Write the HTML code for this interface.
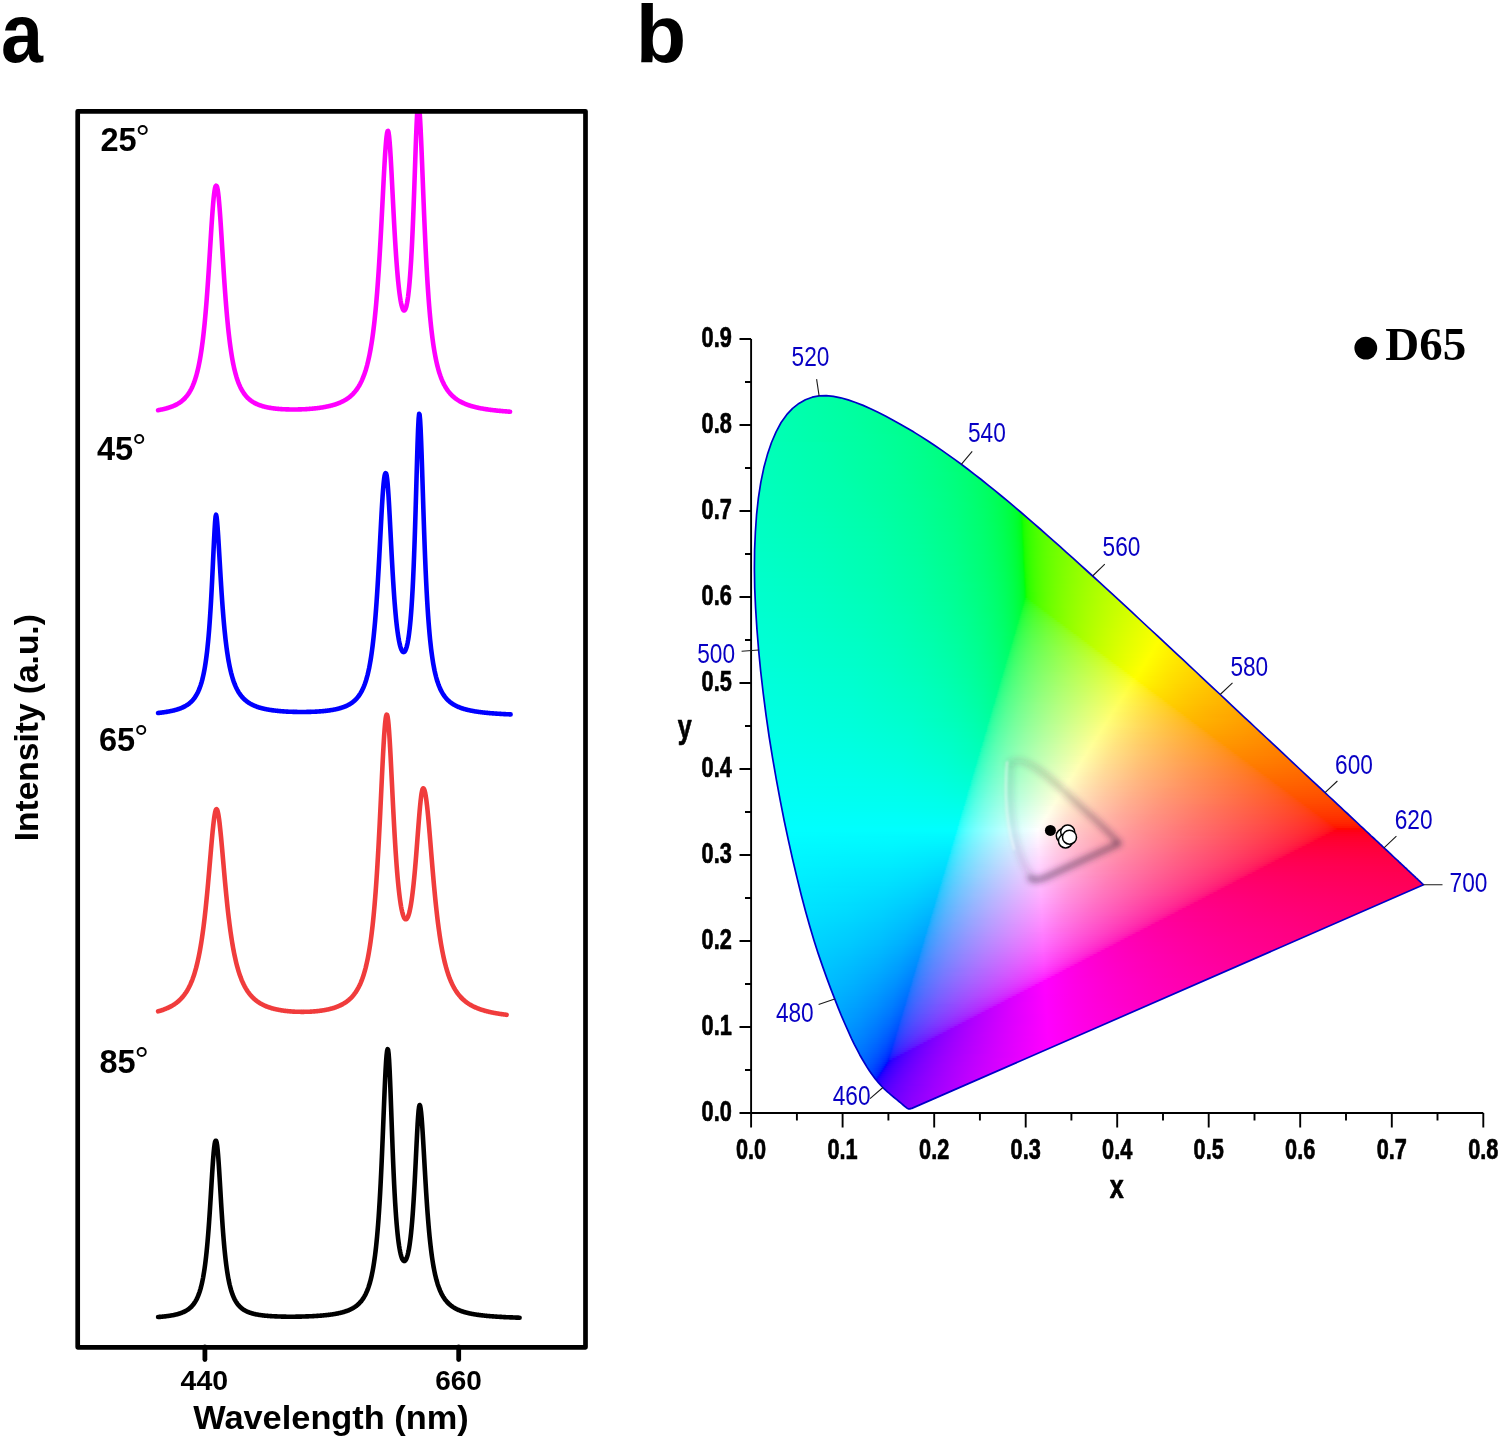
<!DOCTYPE html>
<html><head><meta charset="utf-8"><title>figure</title><style>
html,body{margin:0;padding:0;background:#fff}
#pg{position:relative;width:1500px;height:1440px;overflow:hidden;background:#fff}
#cie{position:absolute;left:0;top:0;width:1500px;height:1440px}
#cie i{position:absolute;display:block;height:2px}
svg{position:absolute;left:0;top:0}
.ar{font-family:"Liberation Sans",sans-serif}
.se{font-family:"Liberation Serif",serif}
.nb{stroke:#000;stroke-width:.7px;stroke-linejoin:round}
</style></head><body><div id="pg">
<div id="cie" style="clip-path:polygon(911.8px 1108.4px,911.7px 1108.5px,911.6px 1108.5px,911.6px 1108.5px,911.5px 1108.5px,911.4px 1108.5px,911.3px 1108.5px,911.3px 1108.5px,911.2px 1108.5px,911.2px 1108.5px,911.1px 1108.5px,911.1px 1108.5px,911.0px 1108.5px,911.0px 1108.5px,910.9px 1108.5px,910.8px 1108.5px,910.7px 1108.6px,910.6px 1108.6px,910.6px 1108.7px,910.5px 1108.7px,910.5px 1108.7px,910.4px 1108.7px,910.4px 1108.7px,910.4px 1108.7px,910.4px 1108.7px,910.4px 1108.7px,910.3px 1108.7px,910.3px 1108.7px,910.3px 1108.8px,910.2px 1108.8px,910.2px 1108.8px,910.1px 1108.8px,910.1px 1108.8px,910.0px 1108.7px,910.0px 1108.8px,910.0px 1108.8px,909.9px 1108.8px,909.9px 1108.8px,909.8px 1108.8px,909.8px 1108.9px,909.7px 1108.9px,909.7px 1108.9px,909.7px 1108.9px,909.6px 1108.9px,909.5px 1108.9px,909.5px 1108.9px,909.4px 1108.9px,909.3px 1108.9px,909.2px 1108.9px,909.1px 1108.9px,909.1px 1108.9px,909.0px 1108.9px,908.9px 1108.9px,908.8px 1108.9px,908.7px 1108.9px,908.6px 1108.8px,908.5px 1108.8px,908.4px 1108.8px,908.3px 1108.8px,908.1px 1108.7px,908.0px 1108.6px,907.8px 1108.5px,907.6px 1108.4px,907.4px 1108.3px,907.2px 1108.2px,907.0px 1108.0px,906.7px 1107.9px,906.5px 1107.7px,906.2px 1107.5px,906.0px 1107.3px,905.7px 1107.1px,905.3px 1106.8px,905.0px 1106.6px,904.6px 1106.3px,904.2px 1106.0px,903.9px 1105.6px,903.4px 1105.3px,903.0px 1104.9px,902.6px 1104.5px,902.1px 1104.1px,901.6px 1103.7px,901.0px 1103.2px,900.5px 1102.7px,899.9px 1102.2px,899.2px 1101.7px,898.6px 1101.1px,897.8px 1100.5px,897.1px 1099.9px,896.2px 1099.2px,895.4px 1098.5px,894.5px 1097.8px,893.5px 1097.0px,892.5px 1096.2px,891.5px 1095.3px,890.4px 1094.4px,889.3px 1093.4px,888.1px 1092.4px,886.9px 1091.3px,885.6px 1090.1px,884.2px 1088.8px,882.9px 1087.5px,881.4px 1086.0px,880.0px 1084.4px,878.4px 1082.7px,876.8px 1080.8px,875.1px 1078.7px,873.3px 1076.3px,871.3px 1073.5px,869.2px 1070.5px,867.0px 1067.1px,864.7px 1063.3px,862.3px 1059.2px,859.7px 1054.7px,857.1px 1049.7px,854.3px 1044.3px,851.4px 1038.3px,848.4px 1031.7px,845.2px 1024.5px,841.8px 1016.7px,838.3px 1008.1px,834.7px 998.9px,830.8px 988.9px,826.8px 978.1px,822.6px 966.4px,818.3px 953.9px,814.0px 940.4px,809.7px 926.0px,805.4px 910.7px,801.1px 894.5px,796.9px 877.4px,792.6px 859.3px,788.4px 840.4px,784.2px 820.7px,780.2px 800.3px,776.3px 779.4px,772.6px 758.1px,769.1px 736.5px,766.0px 714.9px,763.2px 693.1px,760.7px 671.5px,758.6px 650.0px,756.9px 628.8px,755.6px 608.1px,754.7px 588.0px,754.4px 568.6px,754.6px 549.9px,755.4px 531.7px,756.6px 514.3px,758.4px 497.8px,760.8px 482.3px,763.8px 467.8px,767.4px 454.6px,771.5px 442.5px,776.1px 431.8px,781.1px 422.5px,786.7px 414.7px,792.6px 408.3px,798.9px 403.4px,805.4px 399.7px,812.2px 397.2px,819.1px 395.9px,826.2px 395.7px,833.4px 396.4px,840.7px 397.8px,848.1px 399.9px,855.6px 402.5px,863.1px 405.4px,870.6px 408.7px,878.0px 412.3px,885.4px 416.1px,892.7px 420.0px,899.9px 423.9px,906.9px 428.0px,913.9px 432.1px,920.8px 436.4px,927.6px 440.8px,934.4px 445.3px,941.2px 449.9px,947.9px 454.6px,954.6px 459.4px,961.3px 464.3px,967.9px 469.3px,974.5px 474.4px,981.2px 479.5px,987.8px 484.8px,994.4px 490.1px,1000.9px 495.5px,1007.5px 500.9px,1014.0px 506.4px,1020.6px 512.0px,1027.1px 517.6px,1033.7px 523.3px,1040.2px 529.0px,1046.8px 534.8px,1053.3px 540.6px,1059.9px 546.4px,1066.4px 552.3px,1073.0px 558.2px,1079.5px 564.1px,1086.0px 570.0px,1092.6px 576.0px,1099.1px 581.9px,1105.6px 587.9px,1112.2px 593.9px,1118.7px 599.9px,1125.2px 605.9px,1131.7px 611.9px,1138.2px 618.0px,1144.6px 624.0px,1151.1px 630.0px,1157.5px 635.9px,1163.9px 641.9px,1170.3px 647.9px,1176.7px 653.8px,1183.0px 659.7px,1189.3px 665.6px,1195.6px 671.5px,1201.8px 677.3px,1207.9px 683.1px,1214.1px 688.8px,1220.2px 694.5px,1226.2px 700.2px,1232.2px 705.8px,1238.1px 711.3px,1243.9px 716.8px,1249.7px 722.2px,1255.4px 727.5px,1261.1px 732.8px,1266.6px 738.0px,1272.1px 743.1px,1277.5px 748.2px,1282.8px 753.1px,1288.0px 758.0px,1293.1px 762.8px,1298.1px 767.5px,1302.9px 772.0px,1307.6px 776.4px,1312.1px 780.6px,1316.5px 784.7px,1320.8px 788.7px,1325.0px 792.7px,1329.1px 796.5px,1333.1px 800.2px,1337.0px 803.9px,1340.8px 807.4px,1344.4px 810.8px,1347.9px 814.0px,1351.2px 817.1px,1354.4px 820.1px,1357.5px 823.0px,1360.4px 825.8px,1363.3px 828.4px,1366.0px 831.0px,1368.6px 833.4px,1371.1px 835.8px,1373.5px 838.0px,1375.8px 840.2px,1378.0px 842.2px,1380.1px 844.2px,1382.1px 846.0px,1384.0px 847.8px,1385.8px 849.5px,1387.6px 851.1px,1389.2px 852.7px,1390.8px 854.2px,1392.3px 855.6px,1393.8px 857.0px,1395.2px 858.3px,1396.5px 859.5px,1397.8px 860.7px,1399.0px 861.9px,1400.2px 863.0px,1401.4px 864.1px,1402.5px 865.1px,1403.6px 866.1px,1404.6px 867.1px,1405.6px 868.0px,1406.6px 868.9px,1407.5px 869.8px,1408.4px 870.6px,1409.2px 871.4px,1410.0px 872.2px,1410.8px 872.9px,1411.5px 873.6px,1412.2px 874.2px,1412.9px 874.8px,1413.5px 875.4px,1414.0px 875.9px,1414.6px 876.4px,1415.1px 876.9px,1415.6px 877.4px,1416.0px 877.8px,1416.5px 878.2px,1416.9px 878.6px,1417.3px 879.0px,1417.7px 879.3px,1418.0px 879.6px,1418.3px 880.0px,1418.6px 880.3px,1418.9px 880.5px,1419.2px 880.8px,1419.4px 881.0px,1419.7px 881.2px,1419.9px 881.4px,1420.1px 881.6px,1420.2px 881.7px,1420.4px 881.9px,1420.6px 882.1px,1420.7px 882.2px,1420.9px 882.4px,1421.1px 882.5px,1421.2px 882.6px,1421.3px 882.8px,1421.5px 882.9px,1421.6px 883.0px,1421.7px 883.1px,1421.8px 883.3px,1422.0px 883.4px,1422.1px 883.5px,1422.2px 883.6px,1422.4px 883.7px,1422.5px 883.9px,1422.6px 884.0px,1422.7px 884.1px,1422.8px 884.2px,1422.9px 884.3px,1423.0px 884.4px,1423.1px 884.4px,1423.2px 884.5px,1423.2px 884.5px,1423.3px 884.6px,1423.3px 884.6px,1423.3px 884.7px,1423.4px 884.7px,1423.4px 884.7px,1423.4px 884.7px,1423.5px 884.8px,1423.5px 884.8px,1423.5px 884.8px,1423.5px 884.8px,1423.5px 884.8px)">
<i style="left:816px;top:394px;width:16px;background:linear-gradient(90deg,#00ffa8 0%,#00ffa4 100%)"></i>
<i style="left:808px;top:396px;width:36px;background:linear-gradient(90deg,#00ffaa 0%,#00ffa1 100%)"></i>
<i style="left:802px;top:398px;width:49px;background:linear-gradient(90deg,#00ffab 0%,#00ff9f 100%)"></i>
<i style="left:799px;top:400px;width:58px;background:linear-gradient(90deg,#00ffac 0%,#00ff9e 100%)"></i>
<i style="left:796px;top:402px;width:66px;background:linear-gradient(90deg,#00ffad 0%,#00ff9c 100%)"></i>
<i style="left:793px;top:404px;width:74px;background:linear-gradient(90deg,#00ffae 0%,#00ff9b 100%)"></i>
<i style="left:790px;top:406px;width:81px;background:linear-gradient(90deg,#00ffaf 0%,#00ff9a 100%)"></i>
<i style="left:789px;top:408px;width:87px;background:linear-gradient(90deg,#00ffaf 0%,#00ff99 100%)"></i>
<i style="left:787px;top:410px;width:93px;background:linear-gradient(90deg,#00ffb0 0%,#00ffa4 53.8%,#00ff98 100%)"></i>
<i style="left:785px;top:412px;width:99px;background:linear-gradient(90deg,#00ffb0 0%,#00ffa4 54.5%,#00ff97 100%)"></i>
<i style="left:783px;top:414px;width:105px;background:linear-gradient(90deg,#00ffb1 0%,#00ffa4 54.3%,#00ff95 100%)"></i>
<i style="left:782px;top:416px;width:110px;background:linear-gradient(90deg,#00ffb1 0%,#00ffa4 54.5%,#00ff94 100%)"></i>
<i style="left:780px;top:418px;width:115px;background:linear-gradient(90deg,#00ffb2 0%,#00ffa4 54.8%,#00ff93 100%)"></i>
<i style="left:779px;top:420px;width:120px;background:linear-gradient(90deg,#00ffb2 0%,#00ffa4 55%,#00ff92 100%)"></i>
<i style="left:778px;top:422px;width:124px;background:linear-gradient(90deg,#00ffb3 0%,#00ffa3 55.6%,#00ff91 100%)"></i>
<i style="left:777px;top:424px;width:129px;background:linear-gradient(90deg,#00ffb3 0%,#00ffa3 55.8%,#00ff90 100%)"></i>
<i style="left:776px;top:426px;width:133px;background:linear-gradient(90deg,#00ffb4 0%,#00ffa3 55.6%,#00ff8f 100%)"></i>
<i style="left:775px;top:428px;width:138px;background:linear-gradient(90deg,#00ffb4 0%,#00ffa3 55.8%,#00ff8d 100%)"></i>
<i style="left:773px;top:430px;width:143px;background:linear-gradient(90deg,#00ffb5 0%,#00ffa2 56.6%,#00ff8c 100%)"></i>
<i style="left:773px;top:432px;width:146px;background:linear-gradient(90deg,#00ffb5 0%,#00ffa2 56.8%,#00ff8b 100%)"></i>
<i style="left:772px;top:434px;width:151px;background:linear-gradient(90deg,#00ffb5 0%,#00ffa2 57%,#00ff96 80.1%,#00ff89 100%)"></i>
<i style="left:771px;top:436px;width:155px;background:linear-gradient(90deg,#00ffb6 0%,#00ffa1 57.4%,#00ff96 80%,#00ff88 100%)"></i>
<i style="left:770px;top:438px;width:159px;background:linear-gradient(90deg,#00ffb6 0%,#00ffa1 57.2%,#00ff95 80.5%,#00ff87 100%)"></i>
<i style="left:769px;top:440px;width:163px;background:linear-gradient(90deg,#00ffb6 0%,#00ffa1 57.7%,#00ff94 80.4%,#00ff86 100%)"></i>
<i style="left:768px;top:442px;width:167px;background:linear-gradient(90deg,#00ffb7 0%,#00ffad 31.1%,#00ffa1 58.1%,#00ff93 80.8%,#00ff84 100%)"></i>
<i style="left:768px;top:444px;width:170px;background:linear-gradient(90deg,#00ffb7 0%,#00ffad 31.2%,#00ffa0 58.2%,#00ff92 81.2%,#00ff83 100%)"></i>
<i style="left:767px;top:446px;width:174px;background:linear-gradient(90deg,#00ffb8 0%,#00ffad 31.6%,#00ffa0 58.6%,#00ff92 81%,#00ff81 100%)"></i>
<i style="left:766px;top:448px;width:178px;background:linear-gradient(90deg,#00ffb8 0%,#00ffad 31.5%,#00ffa0 58.4%,#00ff91 80.9%,#00ff80 100%)"></i>
<i style="left:766px;top:450px;width:181px;background:linear-gradient(90deg,#00ffb8 0%,#00ffad 32%,#00ff9f 59.1%,#00ff90 81.8%,#00ff7e 100%)"></i>
<i style="left:765px;top:452px;width:185px;background:linear-gradient(90deg,#00ffb9 0%,#00ffad 31.9%,#00ff9f 58.9%,#00ff8f 81.6%,#00ff7d 100%)"></i>
<i style="left:764px;top:454px;width:188px;background:linear-gradient(90deg,#00ffb9 0%,#00ffad 32.4%,#00ff9f 59.6%,#00ff8f 81.9%,#00ff7c 100%)"></i>
<i style="left:764px;top:456px;width:191px;background:linear-gradient(90deg,#00ffb9 0%,#00ffad 32.5%,#00ff9f 59.7%,#00ff8d 82.2%,#00ff7a 100%)"></i>
<i style="left:763px;top:458px;width:195px;background:linear-gradient(90deg,#00ffba 0%,#00ffad 32.8%,#00ff9e 60%,#00ff8d 82.1%,#00ff78 100%)"></i>
<i style="left:763px;top:460px;width:198px;background:linear-gradient(90deg,#00ffba 0%,#00ffad 32.8%,#00ff9e 60.1%,#00ff8c 82.3%,#00ff76 100%)"></i>
<i style="left:762px;top:462px;width:201px;background:linear-gradient(90deg,#00ffba 0%,#00ffad 33.3%,#00ff9d 60.7%,#00ff8b 82.6%,#00ff75 100%)"></i>
<i style="left:762px;top:464px;width:204px;background:linear-gradient(90deg,#00ffbb 0%,#00ffad 33.3%,#00ff9d 60.8%,#00ff8a 82.8%,#00ff73 100%)"></i>
<i style="left:761px;top:466px;width:208px;background:linear-gradient(90deg,#00ffbb 0%,#00ffad 33.7%,#00ff9d 61.1%,#00ff88 83.2%,#00ff71 100%)"></i>
<i style="left:761px;top:468px;width:210px;background:linear-gradient(90deg,#00ffbb 0%,#00ffad 33.8%,#00ff9c 61.4%,#00ff88 83.3%,#00ff6f 100%)"></i>
<i style="left:760px;top:470px;width:214px;background:linear-gradient(90deg,#00ffbc 0%,#00ffad 34.1%,#00ff9c 61.7%,#00ff86 83.6%,#00ff6d 100%)"></i>
<i style="left:760px;top:472px;width:217px;background:linear-gradient(90deg,#00ffbc 0%,#00ffad 34.6%,#00ff9b 62.2%,#00ff85 83.9%,#00ff78 92.6%,#00ff6a 100%)"></i>
<i style="left:760px;top:474px;width:219px;background:linear-gradient(90deg,#00ffbc 0%,#00ffad 34.7%,#00ff9a 62.6%,#00ff84 84%,#00ff77 92.7%,#00ff69 100%)"></i>
<i style="left:759px;top:476px;width:223px;background:linear-gradient(90deg,#00ffbd 0%,#00ffad 35%,#00ff9a 62.8%,#00ff82 84.3%,#00ff75 92.8%,#00ff66 100%)"></i>
<i style="left:759px;top:478px;width:225px;background:linear-gradient(90deg,#00ffbd 0%,#00ffad 35.6%,#00ff99 63.1%,#00ff81 84.4%,#00ff73 92.9%,#00ff64 100%)"></i>
<i style="left:758px;top:480px;width:229px;background:linear-gradient(90deg,#00ffbd 0%,#00ffad 35.4%,#00ff99 63.3%,#00ff8d 74.7%,#00ff80 84.7%,#00ff71 93%,#00ff61 100%)"></i>
<i style="left:758px;top:482px;width:231px;background:linear-gradient(90deg,#00ffbd 0%,#00ffad 35.9%,#00ff98 63.6%,#00ff8c 74.9%,#00ff7f 84.8%,#00ff70 93.1%,#00ff5f 100%)"></i>
<i style="left:758px;top:484px;width:234px;background:linear-gradient(90deg,#00ffbe 0%,#00ffad 36.3%,#00ff98 64.1%,#00ff8b 75.2%,#00ff7d 85%,#00ff6d 93.2%,#00ff5b 100%)"></i>
<i style="left:757px;top:486px;width:237px;background:linear-gradient(90deg,#00ffbe 0%,#00ffad 36.7%,#00ff97 64.6%,#00ff8a 75.9%,#00ff7b 85.7%,#00ff6b 93.7%,#00ff59 100%)"></i>
<i style="left:757px;top:488px;width:240px;background:linear-gradient(90deg,#00ffbe 0%,#00ffad 37.1%,#00ff96 65%,#00ff89 76.2%,#00ff79 85.8%,#00ff68 93.8%,#00ff55 100%)"></i>
<i style="left:757px;top:490px;width:242px;background:linear-gradient(90deg,#00ffbf 0%,#00ffac 37.6%,#00ffa2 52.5%,#00ff95 65.7%,#00ff87 76.9%,#00ff77 86.4%,#00ff66 93.8%,#00ff52 100%)"></i>
<i style="left:756px;top:492px;width:246px;background:linear-gradient(90deg,#00ffbf 0%,#00ffac 37.8%,#00ffa1 53.3%,#00ff94 66.3%,#00ff86 77.2%,#00ff75 86.6%,#00ff62 94.3%,#00ff4e 100%)"></i>
<i style="left:756px;top:494px;width:248px;background:linear-gradient(90deg,#00ffbf 0%,#00ffac 38.3%,#00ffa0 53.6%,#00ff93 66.5%,#00ff85 77.4%,#00ff74 86.7%,#00ff60 94.4%,#00ff4a 100%)"></i>
<i style="left:756px;top:496px;width:250px;background:linear-gradient(90deg,#00ffc0 0%,#00ffac 38.8%,#00ffa0 54%,#00ff92 67.2%,#00ff83 78%,#00ff71 87.2%,#00ff5e 94.4%,#00ff47 100%)"></i>
<i style="left:756px;top:498px;width:253px;background:linear-gradient(90deg,#00ffc0 0%,#00ffab 39.5%,#00ff9f 54.9%,#00ff91 68%,#00ff80 79.1%,#00ff6e 87.7%,#00ff58 94.9%,#00ff41 100%)"></i>
<i style="left:755px;top:500px;width:256px;background:linear-gradient(90deg,#00ffc0 0%,#00ffb7 21.5%,#00ffab 39.8%,#00ff9e 55.5%,#00ff90 68.4%,#00ff7f 79.3%,#00ff6b 88.3%,#00ff54 95.3%,#00ff48 98%,#00ff3c 100%)"></i>
<i style="left:755px;top:502px;width:259px;background:linear-gradient(90deg,#00ffc0 0%,#00ffb6 22%,#00ffab 40.5%,#00ff9d 56.4%,#00ff8e 69.5%,#00ff7c 80.3%,#00ff66 89.2%,#00ff4e 95.8%,#00ff41 98.1%,#00ff34 100%)"></i>
<i style="left:755px;top:504px;width:261px;background:linear-gradient(90deg,#00ffc1 0%,#00ffb6 22.6%,#00ffaa 41.4%,#00ff9c 57.5%,#00ff8c 70.5%,#00ff79 81.2%,#00ff63 89.7%,#00ff4a 95.8%,#00ff3d 98.1%,#00ff2d 100%)"></i>
<i style="left:755px;top:506px;width:263px;background:linear-gradient(90deg,#00ffc1 0%,#00ffb6 22.8%,#00ffaa 42.2%,#00ff9b 58.2%,#00ff8a 71.5%,#00ff76 82.1%,#00ff5e 90.5%,#00ff50 93.9%,#00ff42 96.6%,#00ff35 98.5%,#00ff25 100%)"></i>
<i style="left:755px;top:508px;width:266px;background:linear-gradient(90deg,#00ffc1 0%,#00ffb6 24.4%,#00ffa8 44.7%,#00ff97 61.3%,#00ff83 74.8%,#00ff6c 85.3%,#00ff5e 89.5%,#00ff51 92.9%,#00ff43 95.5%,#00ff32 97.7%,#00ff20 99.2%,#00ff18 99.6%,#00ff0c 100%)"></i>
<i style="left:754px;top:510px;width:269px;background:linear-gradient(90deg,#00ffc2 0%,#00ffb5 25.3%,#00ffa7 45.7%,#00ff96 62.5%,#00ff81 75.8%,#00ff69 85.9%,#00ff5b 90%,#00ff4c 93.3%,#00ff3e 95.5%,#00ff2f 97.4%,#00ff20 98.5%,#00ff19 98.9%,#00ff0e 99.3%,#12ff00 99.6%,#1bff00 100%)"></i>
<i style="left:754px;top:512px;width:271px;background:linear-gradient(90deg,#00ffc2 0%,#00ffb6 25.1%,#00ffa7 45.4%,#00ff96 62%,#00ff81 75.3%,#00ff69 85.2%,#00ff5b 89.3%,#00ff4c 92.6%,#00ff3f 94.8%,#00ff2f 96.7%,#00ff21 97.8%,#00ff1a 98.2%,#00ff10 98.5%,#10ff00 98.9%,#1bff00 99.3%,#27ff00 100%)"></i>
<i style="left:754px;top:514px;width:274px;background:linear-gradient(90deg,#00ffc2 0%,#00ffb6 24.5%,#00ffa8 44.5%,#00ff97 60.9%,#00ff82 74.1%,#00ff6c 83.6%,#00ff60 87.2%,#00ff52 90.5%,#00ff44 93.1%,#00ff33 95.3%,#00ff22 96.7%,#00ff1b 97.1%,#00ff11 97.4%,#0fff00 97.8%,#1aff00 98.2%,#21ff00 98.5%,#33ff00 100%)"></i>
<i style="left:754px;top:516px;width:276px;background:linear-gradient(90deg,#00ffc2 0%,#00ffb7 24.3%,#00ffa8 44.2%,#00ff97 60.5%,#00ff82 73.6%,#00ff6c 83%,#00ff60 86.6%,#00ff52 89.9%,#00ff44 92.4%,#00ff34 94.6%,#00ff22 96%,#00ff13 96.7%,#0dff00 97.1%,#19ff00 97.5%,#26ff00 98.2%,#3aff00 100%)"></i>
<i style="left:754px;top:518px;width:278px;background:linear-gradient(90deg,#00ffc3 0%,#00ffb7 24.1%,#00ffa9 43.9%,#00ff98 59.7%,#00ff84 72.7%,#00ff6d 82%,#00ff60 86%,#00ff53 89.2%,#00ff45 91.7%,#00ff34 93.9%,#00ff23 95.3%,#00ff14 96%,#0bff00 96.4%,#18ff00 96.8%,#26ff00 97.5%,#33ff00 98.6%,#40ff00 100%)"></i>
<i style="left:754px;top:520px;width:281px;background:linear-gradient(90deg,#00ffc3 0%,#00ffb7 23.8%,#00ffa9 43.4%,#00ff98 59.1%,#00ff84 71.9%,#00ff6e 81.1%,#00ff55 87.9%,#00ff47 90.4%,#00ff38 92.5%,#00ff29 94%,#00ff1d 94.7%,#00ff15 95%,#08ff00 95.4%,#17ff00 95.7%,#1fff00 96.1%,#2aff00 96.8%,#3aff00 98.2%,#48ff00 100%)"></i>
<i style="left:753px;top:522px;width:284px;background:linear-gradient(90deg,#00ffc3 0%,#00ffb8 23.6%,#00ffaa 43%,#00ff99 58.5%,#00ff85 71.1%,#00ff6f 80.3%,#00ff62 84.2%,#00ff55 87.3%,#00ff48 89.8%,#00ff38 91.9%,#00ff29 93.3%,#00ff1e 94%,#00ff16 94.4%,#04ff00 94.7%,#16ff00 95.1%,#1fff00 95.4%,#2aff00 96.1%,#3dff00 97.9%,#4cff00 100%)"></i>
<i style="left:753px;top:524px;width:286px;background:linear-gradient(90deg,#00ffc4 0%,#00ffb8 23.8%,#00ffaa 43%,#00ff98 58.7%,#00ff84 71.3%,#00ff6b 81.1%,#00ff5d 85%,#00ff4e 88.1%,#00ff3f 90.6%,#00ff2e 92.3%,#00ff1f 93.4%,#00ff17 93.7%,#00ff07 94.1%,#15ff00 94.4%,#1eff00 94.8%,#2aff00 95.5%,#3cff00 97.2%,#51ff00 100%)"></i>
<i style="left:753px;top:526px;width:289px;background:linear-gradient(90deg,#00ffc4 0%,#00ffb8 23.2%,#00ffaa 42.2%,#00ff9a 57.4%,#00ff86 69.9%,#00ff6e 79.6%,#00ff61 83.4%,#00ff51 86.9%,#00ff42 89.3%,#00ff2f 91.3%,#00ff20 92.4%,#00ff18 92.7%,#00ff0a 93.1%,#14ff00 93.4%,#24ff00 94.1%,#2eff00 94.8%,#42ff00 96.9%,#57ff00 100%)"></i>
<i style="left:753px;top:528px;width:291px;background:linear-gradient(90deg,#00ffc4 0%,#00ffb9 23%,#00ffab 41.9%,#00ff9a 57%,#00ff86 69.4%,#00ff6e 79%,#00ff61 82.8%,#00ff53 85.9%,#00ff44 88.3%,#00ff33 90.4%,#00ff21 91.8%,#00ff19 92.1%,#00ff0d 92.4%,#13ff00 92.8%,#1dff00 93.1%,#29ff00 93.8%,#32ff00 94.5%,#47ff00 96.9%,#5bff00 100%)"></i>
<i style="left:753px;top:530px;width:293px;background:linear-gradient(90deg,#00ffc5 0%,#00ffb9 22.5%,#00ffab 41.3%,#00ff9b 56.3%,#00ff87 68.6%,#00ff70 78.2%,#00ff63 81.9%,#00ff53 85.3%,#00ff45 87.7%,#00ff34 89.8%,#00ff21 91.1%,#00ff1a 91.5%,#00ff0f 91.8%,#12ff00 92.2%,#1cff00 92.5%,#23ff00 92.8%,#31ff00 93.9%,#47ff00 96.2%,#5fff00 100%)"></i>
<i style="left:753px;top:532px;width:295px;background:linear-gradient(90deg,#00ffc5 0%,#00ffb9 22.4%,#00ffac 41%,#00ff9b 55.9%,#00ff88 68.1%,#00ff70 77.6%,#00ff63 81.4%,#00ff54 84.7%,#00ff45 87.1%,#00ff34 89.2%,#00ff22 90.5%,#00ff1b 90.8%,#00ff10 91.2%,#11ff00 91.5%,#1bff00 91.9%,#22ff00 92.2%,#35ff00 93.6%,#4cff00 96.3%,#63ff00 100%)"></i>
<i style="left:753px;top:534px;width:298px;background:linear-gradient(90deg,#00ffc5 0%,#00ffba 22.1%,#00ffac 40.3%,#00ff9c 55%,#00ff89 67.1%,#00ff72 76.5%,#00ff65 80.2%,#00ff56 83.6%,#00ff46 86.2%,#00ff35 88.3%,#00ff23 89.6%,#00ff1c 89.9%,#00ff12 90.3%,#0fff00 90.6%,#1bff00 90.9%,#22ff00 91.3%,#2dff00 91.9%,#38ff00 93%,#51ff00 96%,#68ff00 100%)"></i>
<i style="left:753px;top:536px;width:300px;background:linear-gradient(90deg,#00ffc5 0%,#00ffba 22%,#00ffad 40%,#00ff9c 54.7%,#00ff89 66.7%,#00ff72 76%,#00ff65 79.7%,#00ff56 83%,#00ff46 85.7%,#00ff35 87.7%,#00ff23 89%,#00ff13 89.7%,#0eff00 90%,#1aff00 90.3%,#21ff00 90.7%,#2cff00 91.3%,#38ff00 92.3%,#51ff00 95.3%,#6bff00 100%)"></i>
<i style="left:753px;top:538px;width:302px;background:linear-gradient(90deg,#00ffc6 0%,#00ffbb 21.5%,#00ffad 39.4%,#00ff9d 54%,#00ff8a 65.9%,#00ff73 75.2%,#00ff67 78.8%,#00ff58 82.1%,#00ff49 84.8%,#00ff39 86.8%,#00ff29 88.1%,#00ff1e 88.7%,#00ff14 89.1%,#0bff00 89.4%,#19ff00 89.7%,#27ff00 90.4%,#3bff00 92.1%,#55ff00 95.4%,#6fff00 100%)"></i>
<i style="left:752px;top:540px;width:305px;background:linear-gradient(90deg,#00ffc6 0%,#00ffbb 21.6%,#00ffad 39.3%,#00ff9e 53.8%,#00ff8a 65.6%,#00ff74 74.8%,#00ff67 78.4%,#00ff59 81.6%,#00ff49 84.3%,#00ff39 86.2%,#00ff2a 87.5%,#00ff1e 88.2%,#00ff16 88.5%,#09ff00 88.9%,#18ff00 89.2%,#20ff00 89.5%,#30ff00 90.5%,#3bff00 91.5%,#4aff00 93.1%,#58ff00 95.1%,#72ff00 100%)"></i>
<i style="left:752px;top:542px;width:308px;background:linear-gradient(90deg,#00ffc6 0%,#00ffbb 21.1%,#00ffae 38.6%,#00ff9e 52.9%,#00ff8b 64.6%,#00ff74 74%,#00ff68 77.6%,#00ff59 80.8%,#00ff4a 83.4%,#00ff3a 85.4%,#00ff2b 86.7%,#00ff1f 87.3%,#00ff17 87.7%,#04ff00 88%,#17ff00 88.3%,#20ff00 88.6%,#30ff00 89.6%,#3eff00 90.9%,#4cff00 92.5%,#5cff00 94.8%,#77ff00 100%)"></i>
<i style="left:752px;top:544px;width:310px;background:linear-gradient(90deg,#00ffc7 0%,#00ffbb 22.3%,#00ffad 40.3%,#00ff9c 54.8%,#00ff87 66.5%,#00ff6e 75.5%,#00ff60 79%,#00ff51 81.9%,#00ff40 84.2%,#00ff30 85.8%,#00ff20 86.8%,#00ff18 87.1%,#00ff07 87.4%,#16ff00 87.7%,#1fff00 88.1%,#30ff00 89%,#3eff00 90.3%,#4cff00 91.9%,#5cff00 94.2%,#7aff00 100%)"></i>
<i style="left:752px;top:546px;width:312px;background:linear-gradient(90deg,#00ffc7 0%,#00ffbb 21.8%,#00ffad 39.7%,#00ff9d 54.2%,#00ff88 65.7%,#00ff70 74.7%,#00ff62 78.2%,#00ff53 81.1%,#00ff44 83.3%,#00ff30 85.3%,#00ff21 86.2%,#00ff19 86.5%,#00ff0b 86.9%,#15ff00 87.2%,#25ff00 87.8%,#33ff00 88.8%,#41ff00 90.1%,#51ff00 92%,#60ff00 94.2%,#7dff00 100%)"></i>
<i style="left:752px;top:548px;width:314px;background:linear-gradient(90deg,#00ffc7 0%,#00ffbc 21.7%,#00ffae 39.2%,#00ff9d 53.5%,#00ff89 65%,#00ff71 73.9%,#00ff64 77.4%,#00ff55 80.3%,#00ff47 82.5%,#00ff35 84.4%,#00ff22 85.7%,#00ff1a 86%,#00ff0d 86.3%,#14ff00 86.6%,#25ff00 87.3%,#33ff00 88.2%,#41ff00 89.5%,#51ff00 91.4%,#60ff00 93.6%,#80ff00 100%)"></i>
<i style="left:752px;top:550px;width:317px;background:linear-gradient(90deg,#00ffc7 0%,#00ffbc 21.1%,#00ffaf 38.5%,#00ff9e 52.7%,#00ff8a 64%,#00ff73 72.9%,#00ff65 76.3%,#00ff56 79.5%,#00ff47 81.7%,#00ff35 83.6%,#00ff22 84.9%,#00ff1b 85.2%,#00ff0f 85.5%,#13ff00 85.8%,#1dff00 86.1%,#24ff00 86.4%,#33ff00 87.4%,#44ff00 89%,#53ff00 90.9%,#64ff00 93.4%,#84ff00 100%)"></i>
<i style="left:752px;top:552px;width:319px;background:linear-gradient(90deg,#00ffc8 0%,#00ffbd 21%,#00ffaf 38.2%,#00ff9f 52.4%,#00ff8b 63.6%,#00ff73 72.4%,#00ff66 75.9%,#00ff56 79%,#00ff47 81.2%,#00ff36 83.1%,#00ff23 84.3%,#00ff1c 84.6%,#00ff11 85%,#11ff00 85.3%,#1cff00 85.6%,#24ff00 85.9%,#37ff00 87.1%,#47ff00 88.7%,#58ff00 90.9%,#68ff00 93.4%,#87ff00 100%)"></i>
<i style="left:752px;top:554px;width:321px;background:linear-gradient(90deg,#00ffc8 0%,#00ffbd 20.9%,#00ffaf 38%,#00ff9f 51.7%,#00ff8c 62.9%,#00ff75 71.7%,#00ff68 75.1%,#00ff58 78.2%,#00ff48 80.7%,#00ff36 82.6%,#00ff24 83.8%,#00ff1d 84.1%,#00ff12 84.4%,#10ff00 84.7%,#1bff00 85%,#29ff00 85.7%,#37ff00 86.6%,#47ff00 88.2%,#58ff00 90.3%,#6aff00 93.1%,#8aff00 100%)"></i>
<i style="left:752px;top:556px;width:323px;background:linear-gradient(90deg,#00ffc8 0%,#00ffbd 20.7%,#00ffb0 37.8%,#00ffa0 51.4%,#00ff8c 62.5%,#00ff75 71.2%,#00ff68 74.6%,#00ff59 77.7%,#00ff48 80.2%,#00ff37 82%,#00ff25 83.3%,#00ff1e 83.6%,#00ff14 83.9%,#0eff00 84.2%,#1bff00 84.5%,#2eff00 85.4%,#3aff00 86.4%,#4aff00 87.9%,#5aff00 90.1%,#6bff00 92.9%,#8dff00 100%)"></i>
<i style="left:752px;top:558px;width:326px;background:linear-gradient(90deg,#00ffc9 0%,#00ffbe 20.2%,#00ffb0 37.1%,#00ffa1 50.6%,#00ff8d 61.7%,#00ff76 70.2%,#00ff6a 73.6%,#00ff5b 76.7%,#00ff4b 79.1%,#00ff3b 81%,#00ff2b 82.2%,#00ff1f 82.8%,#00ff15 83.1%,#0cff00 83.4%,#1aff00 83.7%,#22ff00 84%,#2dff00 84.7%,#3dff00 85.9%,#4cff00 87.4%,#5fff00 89.9%,#6fff00 92.6%,#91ff00 100%)"></i>
<i style="left:752px;top:560px;width:328px;background:linear-gradient(90deg,#00ffc9 0%,#00ffbe 20.1%,#00ffb1 36.9%,#00ffa1 50.3%,#00ff8e 61.3%,#00ff77 69.8%,#00ff6a 73.2%,#00ff5b 76.2%,#00ff4c 78.7%,#00ff3b 80.5%,#00ff2b 81.7%,#00ff1f 82.3%,#00ff16 82.6%,#09ff00 82.9%,#19ff00 83.2%,#21ff00 83.5%,#2dff00 84.1%,#3dff00 85.4%,#4cff00 86.9%,#5fff00 89.3%,#71ff00 92.4%,#94ff00 100%)"></i>
<i style="left:752px;top:562px;width:330px;background:linear-gradient(90deg,#00ffc9 0%,#00ffbe 20%,#00ffb1 36.7%,#00ffa1 50%,#00ff8e 60.9%,#00ff77 69.4%,#00ff6b 72.7%,#00ff5c 75.8%,#00ff4c 78.2%,#00ff3c 80%,#00ff2c 81.2%,#00ff20 81.8%,#00ff17 82.1%,#04ff00 82.4%,#18ff00 82.7%,#21ff00 83%,#2dff00 83.6%,#3dff00 84.8%,#4fff00 86.7%,#61ff00 89.1%,#73ff00 92.1%,#96ff00 100%)"></i>
<i style="left:752px;top:564px;width:332px;background:linear-gradient(90deg,#00ffc9 0%,#00ffbe 21.1%,#00ffb0 38%,#00ff9f 51.5%,#00ff8a 62.3%,#00ff7e 66.9%,#00ff71 70.8%,#00ff63 74.1%,#00ff53 76.8%,#00ff42 78.9%,#00ff31 80.4%,#00ff21 81.3%,#00ff19 81.6%,#00ff08 81.9%,#17ff00 82.2%,#27ff00 82.8%,#39ff00 84%,#4fff00 86.1%,#61ff00 88.6%,#75ff00 91.9%,#99ff00 100%)"></i>
<i style="left:752px;top:566px;width:334px;background:linear-gradient(90deg,#00ffca 0%,#00ffbe 20.7%,#00ffb1 37.4%,#00ffa0 50.9%,#00ff8c 61.7%,#00ff73 70.1%,#00ff65 73.4%,#00ff56 76%,#00ff46 78.1%,#00ff32 79.9%,#00ff22 80.8%,#00ff1a 81.1%,#00ff0b 81.4%,#16ff00 81.7%,#1fff00 82%,#2cff00 82.6%,#40ff00 84.1%,#51ff00 85.9%,#65ff00 88.6%,#76ff00 91.6%,#89ff00 95.5%,#9cff00 100%)"></i>
<i style="left:752px;top:568px;width:337px;background:linear-gradient(90deg,#00ffca 0%,#00ffbf 20.2%,#00ffb1 36.8%,#00ffa1 50.1%,#00ff8d 60.8%,#00ff74 69.1%,#00ff67 72.4%,#00ff58 75.1%,#00ff49 77.2%,#00ff36 78.9%,#00ff23 80.1%,#00ff1b 80.4%,#00ff0d 80.7%,#15ff00 81%,#1fff00 81.3%,#2cff00 81.9%,#40ff00 83.4%,#54ff00 85.5%,#67ff00 88.1%,#7aff00 91.4%,#8cff00 95.3%,#a0ff00 100%)"></i>
<i style="left:752px;top:570px;width:339px;background:linear-gradient(90deg,#00ffca 0%,#00ffbf 20.1%,#00ffb2 36.3%,#00ffa2 49.6%,#00ff8e 60.2%,#00ff76 68.4%,#00ff68 71.7%,#00ff58 74.6%,#00ff49 76.7%,#00ff37 78.5%,#00ff23 79.6%,#00ff1c 79.9%,#00ff0f 80.2%,#13ff00 80.5%,#1eff00 80.8%,#2bff00 81.4%,#40ff00 82.9%,#54ff00 85%,#67ff00 87.6%,#7cff00 91.2%,#8fff00 95.3%,#a2ff00 100%)"></i>
<i style="left:752px;top:572px;width:341px;background:linear-gradient(90deg,#00ffcb 0%,#00ffc0 19.9%,#00ffb2 36.1%,#00ffa2 49.3%,#00ff8e 59.8%,#00ff76 68%,#00ff69 71.3%,#00ff59 74.2%,#00ff4a 76.2%,#00ff38 78%,#00ff24 79.2%,#00ff1d 79.5%,#00ff11 79.8%,#12ff00 80.1%,#1dff00 80.4%,#25ff00 80.6%,#30ff00 81.2%,#43ff00 82.7%,#56ff00 84.8%,#69ff00 87.4%,#7dff00 90.9%,#91ff00 95%,#a5ff00 100%)"></i>
<i style="left:752px;top:574px;width:343px;background:linear-gradient(90deg,#00ffcb 0%,#00ffc0 19.8%,#00ffb3 35.9%,#00ffa3 48.7%,#00ff8f 59.2%,#00ff78 67.3%,#00ff6b 70.6%,#00ff5b 73.5%,#00ff4a 75.8%,#00ff38 77.6%,#00ff25 78.7%,#00ff1e 79%,#00ff13 79.3%,#10ff00 79.6%,#1cff00 79.9%,#30ff00 80.8%,#43ff00 82.2%,#56ff00 84.3%,#6bff00 87.2%,#7fff00 90.7%,#94ff00 95%,#a8ff00 100%)"></i>
<i style="left:752px;top:576px;width:345px;background:linear-gradient(90deg,#00ffcb 0%,#00ffc0 19.7%,#00ffb3 35.7%,#00ffa3 48.4%,#00ff90 58.8%,#00ff78 67%,#00ff6b 70.1%,#00ff5c 73%,#00ff4b 75.4%,#00ff39 77.1%,#00ff26 78.3%,#00ff1f 78.6%,#00ff14 78.8%,#0fff00 79.1%,#1cff00 79.4%,#2fff00 80.3%,#43ff00 81.7%,#59ff00 84.1%,#6dff00 87%,#83ff00 90.7%,#97ff00 95.1%,#aaff00 100%)"></i>
<i style="left:752px;top:578px;width:347px;background:linear-gradient(90deg,#00ffcc 0%,#00ffc1 19.6%,#00ffb3 35.4%,#00ffa4 48.1%,#00ff90 58.5%,#00ff79 66.6%,#00ff6c 69.7%,#00ff5c 72.6%,#00ff4e 74.6%,#00ff3d 76.4%,#00ff2c 77.5%,#00ff20 78.1%,#00ff16 78.4%,#0cff00 78.7%,#1bff00 79%,#23ff00 79.3%,#2fff00 79.8%,#46ff00 81.6%,#5bff00 83.9%,#6fff00 86.7%,#84ff00 90.5%,#98ff00 94.8%,#adff00 100%)"></i>
<i style="left:752px;top:580px;width:350px;background:linear-gradient(90deg,#00ffcc 0%,#00ffc1 19.1%,#00ffb4 34.9%,#00ffa5 47.4%,#00ff91 57.7%,#00ff7a 65.7%,#00ff6d 68.9%,#00ff5e 71.7%,#00ff4e 74%,#00ff3d 75.7%,#00ff2d 76.9%,#00ff20 77.4%,#00ff17 77.7%,#09ff00 78%,#1aff00 78.3%,#22ff00 78.6%,#33ff00 79.4%,#46ff00 80.9%,#5bff00 83.1%,#71ff00 86.3%,#86ff00 90%,#9bff00 94.6%,#b1ff00 100%)"></i>
<i style="left:752px;top:582px;width:352px;background:linear-gradient(90deg,#00ffcc 0%,#00ffc1 19%,#00ffb4 34.7%,#00ffa5 47.2%,#00ff92 57.4%,#00ff7b 65.3%,#00ff6e 68.5%,#00ff5f 71.3%,#00ff4f 73.6%,#00ff3e 75.3%,#00ff2e 76.4%,#00ff21 77%,#00ff18 77.3%,#04ff00 77.6%,#19ff00 77.8%,#29ff00 78.4%,#33ff00 79%,#49ff00 80.7%,#5eff00 83%,#73ff00 86.1%,#89ff00 90.1%,#9eff00 94.6%,#b3ff00 100%)"></i>
<i style="left:752px;top:584px;width:354px;background:linear-gradient(90deg,#00ffcc 0%,#00ffc1 19.8%,#00ffb3 35.9%,#00ffa3 48.6%,#00ff8e 58.8%,#00ff82 63%,#00ff75 66.7%,#00ff66 69.8%,#00ff56 72.3%,#00ff45 74.3%,#00ff33 75.7%,#00ff22 76.6%,#00ff19 76.8%,#00ff08 77.1%,#18ff00 77.4%,#28ff00 78%,#33ff00 78.5%,#49ff00 80.2%,#5eff00 82.5%,#74ff00 85.6%,#8aff00 89.5%,#a0ff00 94.4%,#b6ff00 100%)"></i>
<i style="left:752px;top:586px;width:356px;background:linear-gradient(90deg,#00ffcd 0%,#00ffc2 19.7%,#00ffb4 35.4%,#00ffa4 48%,#00ff8f 58.1%,#00ff83 62.4%,#00ff76 66%,#00ff68 69.1%,#00ff58 71.6%,#00ff48 73.6%,#00ff34 75.3%,#00ff23 76.1%,#00ff1b 76.4%,#00ff0b 76.7%,#17ff00 77%,#28ff00 77.5%,#33ff00 78.1%,#49ff00 79.8%,#60ff00 82.3%,#77ff00 85.7%,#8dff00 89.6%,#a3ff00 94.4%,#b9ff00 100%)"></i>
<i style="left:752px;top:588px;width:358px;background:linear-gradient(90deg,#00ffcd 0%,#00ffc2 19.3%,#00ffb5 34.9%,#00ffa4 47.5%,#00ff90 57.5%,#00ff78 65.4%,#00ff6a 68.4%,#00ff5b 70.9%,#00ff4b 72.9%,#00ff38 74.6%,#00ff24 75.7%,#00ff1c 76%,#00ff0e 76.3%,#15ff00 76.5%,#20ff00 76.8%,#32ff00 77.7%,#49ff00 79.3%,#60ff00 81.8%,#78ff00 85.2%,#8fff00 89.4%,#a6ff00 94.4%,#bbff00 100%)"></i>
<i style="left:752px;top:590px;width:361px;background:linear-gradient(90deg,#00ffcd 0%,#00ffc2 19.1%,#00ffb5 34.6%,#00ffa5 47.1%,#00ff91 57.1%,#00ff78 64.8%,#00ff6a 67.9%,#00ff5b 70.4%,#00ff4c 72.3%,#00ff39 74%,#00ff25 75.1%,#00ff1d 75.3%,#00ff10 75.6%,#14ff00 75.9%,#1fff00 76.2%,#27ff00 76.5%,#32ff00 77%,#3fff00 77.8%,#4cff00 78.9%,#63ff00 81.4%,#7aff00 84.8%,#92ff00 89.2%,#a8ff00 94.2%,#bfff00 100%)"></i>
<i style="left:752px;top:592px;width:363px;background:linear-gradient(90deg,#00ffce 0%,#00ffc3 19%,#00ffb6 34.4%,#00ffa5 46.8%,#00ff92 56.5%,#00ff7a 64.2%,#00ff6c 67.2%,#00ff5c 70%,#00ff4c 71.9%,#00ff3a 73.6%,#00ff26 74.7%,#00ff1e 74.9%,#00ff12 75.2%,#13ff00 75.5%,#1eff00 75.8%,#26ff00 76%,#36ff00 76.9%,#4fff00 78.8%,#65ff00 81.3%,#7dff00 84.8%,#94ff00 89%,#aaff00 93.9%,#c1ff00 100%)"></i>
<i style="left:752px;top:594px;width:365px;background:linear-gradient(90deg,#00ffce 0%,#00ffc3 18.9%,#00ffb6 34.2%,#00ffa6 46.6%,#00ff93 56.2%,#00ff7a 63.8%,#00ff6d 66.8%,#00ff5e 69.3%,#00ff4d 71.5%,#00ff3a 73.2%,#00ff26 74.2%,#00ff1f 74.5%,#00ff14 74.8%,#11ff00 75.1%,#1eff00 75.3%,#26ff00 75.6%,#36ff00 76.4%,#4fff00 78.4%,#65ff00 80.8%,#7eff00 84.4%,#95ff00 88.8%,#adff00 94%,#c4ff00 100%)"></i>
<i style="left:753px;top:596px;width:366px;background:linear-gradient(90deg,#00ffce 0%,#00ffc3 18.9%,#00ffb6 33.9%,#00ffa6 46.2%,#00ff93 55.7%,#00ff7b 63.4%,#00ff6d 66.4%,#00ff5f 68.9%,#00ff4d 71%,#00ff3b 72.7%,#00ff27 73.8%,#00ff20 74%,#00ff15 74.3%,#0fff00 74.6%,#1dff00 74.9%,#25ff00 75.1%,#36ff00 76%,#4fff00 77.9%,#68ff00 80.6%,#80ff00 84.2%,#97ff00 88.5%,#afff00 93.7%,#c7ff00 100%)"></i>
<i style="left:753px;top:598px;width:368px;background:linear-gradient(90deg,#00ffce 0%,#00ffc4 18.5%,#00ffb7 33.4%,#00ffa7 45.7%,#00ff94 55.2%,#00ff7c 62.8%,#00ff6f 65.8%,#00ff5f 68.5%,#00ff50 70.4%,#00ff3f 72%,#00ff2e 73.1%,#00ff21 73.6%,#00ff17 73.9%,#16ff12 74.2%,#1fff0e 74.5%,#2bff00 75%,#3aff00 75.8%,#52ff00 77.7%,#6aff00 80.4%,#82ff00 84%,#9aff00 88.6%,#b1ff00 93.8%,#c9ff00 100%)"></i>
<i style="left:753px;top:600px;width:370px;background:linear-gradient(90deg,#00ffcf 0%,#00ffc5 17.8%,#00ffb8 32.4%,#00ffa9 44.3%,#00ff97 53.8%,#00ff81 61.4%,#00ff75 64.3%,#00ff67 67%,#00ff58 69.2%,#00ff46 71.1%,#00ff34 72.4%,#00ff22 73.2%,#11ff1c 73.5%,#1bff1a 73.8%,#2dff11 74.6%,#32ff0d 74.9%,#36ff03 75.1%,#3aff00 75.4%,#52ff00 77.3%,#6cff00 80.3%,#84ff00 83.8%,#9cff00 88.4%,#b4ff00 93.8%,#ccff00 100%)"></i>
<i style="left:753px;top:602px;width:373px;background:linear-gradient(90deg,#00ffcf 0%,#00ffc5 17.4%,#00ffb9 31.6%,#00ffab 43.2%,#00ff9a 52.5%,#00ff84 60.1%,#00ff78 63.3%,#00ff6a 66%,#00ff5c 68.1%,#00ff4c 70%,#00ff3d 71.3%,#00ff2a 72.4%,#08ff23 72.7%,#18ff22 72.9%,#26ff1e 73.5%,#3bff10 74.8%,#3fff0b 75.1%,#42ff00 75.3%,#58ff00 77.2%,#6eff00 79.9%,#87ff00 83.6%,#9fff00 88.2%,#b7ff00 93.6%,#cfff00 100%)"></i>
<i style="left:753px;top:604px;width:375px;background:linear-gradient(90deg,#00ffcf 0%,#00ffc6 17.3%,#00ffba 31.5%,#00ffab 42.9%,#00ff9a 52.3%,#00ff85 59.7%,#00ff78 62.9%,#00ff6b 65.6%,#00ff5d 67.7%,#00ff4d 69.6%,#00ff3d 70.9%,#00ff2a 72%,#13ff27 72.3%,#1dff26 72.5%,#29ff23 73.1%,#33ff1f 73.6%,#44ff13 74.9%,#46ff0f 75.2%,#4cff00 75.7%,#5dff00 77.3%,#6fff00 79.5%,#88ff00 83.2%,#a1ff00 88%,#baff00 93.6%,#d2ff00 100%)"></i>
<i style="left:753px;top:606px;width:377px;background:linear-gradient(90deg,#00ffd0 0%,#00ffc6 17%,#00ffbb 30.8%,#00ffad 42.2%,#00ff9c 51.5%,#00ff87 58.9%,#00ff70 64.5%,#00ff61 66.8%,#00ff53 68.7%,#00ff41 70.3%,#00ff31 71.4%,#0dff2c 71.6%,#1aff2b 71.9%,#21ff2a 72.1%,#35ff24 73.2%,#4bff15 75.1%,#50ff0d 75.6%,#52ff04 75.9%,#55ff00 76.1%,#71ff00 79.3%,#8aff00 83%,#a3ff00 87.8%,#bcff00 93.4%,#d5ff00 100%)"></i>
<i style="left:753px;top:608px;width:379px;background:linear-gradient(90deg,#00ffd0 0%,#00ffc6 16.9%,#00ffbb 30.6%,#00ffad 42%,#00ff9c 51.2%,#00ff88 58.6%,#00ff70 64.1%,#00ff62 66.5%,#00ff53 68.3%,#00ff42 69.9%,#00ff31 71%,#16ff30 71.2%,#1fff2f 71.5%,#2bff2c 72%,#37ff28 72.8%,#4aff1e 74.4%,#54ff14 75.5%,#58ff0b 76%,#5aff00 76.3%,#73ff00 79.2%,#8dff00 83.1%,#a6ff00 87.9%,#beff00 93.4%,#d7ff00 100%)"></i>
<i style="left:753px;top:610px;width:381px;background:linear-gradient(90deg,#00ffd0 0%,#00ffc7 16.5%,#00ffbc 30.2%,#00ffae 41.2%,#00ff9e 50.4%,#00ff8a 57.7%,#00ff72 63.5%,#00ff64 65.9%,#00ff56 67.7%,#00ff46 69.3%,#00ff37 70.3%,#10ff34 70.6%,#1bff33 70.9%,#23ff32 71.1%,#2dff30 71.7%,#3aff2c 72.4%,#4eff22 74.3%,#5aff16 75.6%,#5eff0f 76.1%,#62ff00 76.6%,#75ff00 79%,#8fff00 82.9%,#a8ff00 87.7%,#c1ff00 93.4%,#daff00 100%)"></i>
<i style="left:753px;top:612px;width:383px;background:linear-gradient(90deg,#00ffd1 0%,#00ffc8 16.2%,#00ffbd 29.5%,#00ffaf 40.5%,#00ff9f 49.6%,#00ff8c 56.9%,#00ff75 62.7%,#00ff68 65%,#00ff5b 66.8%,#00ff4c 68.4%,#00ff3c 69.7%,#06ff38 70%,#18ff37 70.2%,#20ff36 70.5%,#30ff33 71.3%,#3cff2f 72.1%,#4dff28 73.6%,#5dff1b 75.5%,#63ff12 76.2%,#65ff0e 76.5%,#67ff05 76.8%,#69ff00 77%,#78ff00 78.9%,#91ff00 82.8%,#abff00 87.7%,#c4ff00 93.5%,#ddff00 100%)"></i>
<i style="left:753px;top:614px;width:386px;background:linear-gradient(90deg,#00ffd1 0%,#00ffc8 16.1%,#00ffbd 29.3%,#00ffb0 40.2%,#00ffa0 49.2%,#00ff8d 56.5%,#00ff76 62.2%,#00ff69 64.5%,#00ff5c 66.3%,#00ff4d 67.9%,#00ff3c 69.2%,#13ff3a 69.4%,#1dff3a 69.7%,#24ff39 69.9%,#33ff36 70.7%,#3eff33 71.5%,#51ff2a 73.3%,#65ff1a 75.6%,#68ff15 76.2%,#6cff0c 76.7%,#6eff00 76.9%,#7aff00 78.5%,#94ff00 82.6%,#aeff00 87.6%,#c7ff00 93.3%,#e0ff00 100%)"></i>
<i style="left:754px;top:616px;width:387px;background:linear-gradient(90deg,#00ffd1 0%,#00ffc8 15.8%,#00ffbe 28.7%,#00ffb1 39.5%,#00ffa2 48.3%,#00ff8f 55.6%,#00ff79 61.2%,#00ff6d 63.6%,#00ff5e 65.6%,#00ff50 67.2%,#00ff41 68.5%,#19ff3d 69%,#21ff3c 69.3%,#35ff39 70.3%,#4eff30 72.4%,#68ff1e 75.5%,#71ff10 76.7%,#72ff09 77%,#74ff00 77.3%,#90ff00 81.4%,#acff00 86.6%,#c8ff00 92.8%,#e3ff00 100%)"></i>
<i style="left:754px;top:618px;width:389px;background:linear-gradient(90deg,#00ffd2 0%,#00ffc9 15.7%,#00ffbe 28.5%,#00ffb1 39.3%,#00ffa2 48.1%,#00ff90 55.3%,#00ff7a 60.9%,#00ff6d 63.2%,#00ff5f 65.3%,#00ff51 66.8%,#00ff42 68.1%,#15ff40 68.4%,#1fff3f 68.6%,#2bff3e 69.2%,#38ff3b 69.9%,#50ff33 72%,#69ff23 75.1%,#70ff1b 76.1%,#75ff13 76.9%,#77ff0e 77.1%,#7bff00 77.6%,#95ff00 81.7%,#b0ff00 86.9%,#ccff00 93.1%,#e6ff00 100%)"></i>
<i style="left:754px;top:620px;width:391px;background:linear-gradient(90deg,#00ffd2 0%,#00ffc9 15.6%,#00ffbe 28.4%,#00ffb2 38.9%,#00ffa3 47.6%,#00ff92 54.5%,#00ff7d 60.1%,#00ff63 64.5%,#00ff54 66.2%,#00ff46 67.5%,#10ff43 67.8%,#1bff43 68%,#29ff41 68.5%,#36ff3f 69.3%,#44ff3b 70.3%,#51ff36 71.6%,#6aff28 74.7%,#73ff1f 76%,#7aff15 77%,#7dff0c 77.5%,#7fff00 77.7%,#99ff00 81.8%,#b4ff00 87%,#ceff00 93.1%,#e8ff00 100%)"></i>
<i style="left:754px;top:622px;width:393px;background:linear-gradient(90deg,#00ffd2 0%,#00ffca 15%,#00ffbf 27.7%,#00ffb3 38.2%,#00ffa5 46.8%,#00ff93 53.9%,#00ff7e 59.5%,#00ff66 63.9%,#00ff57 65.6%,#00ff4a 66.9%,#03ff46 67.2%,#17ff46 67.4%,#20ff45 67.7%,#2cff43 68.2%,#39ff41 69%,#53ff39 71.2%,#6cff2c 74.3%,#76ff23 75.8%,#7eff17 77.1%,#81ff10 77.6%,#83ff0a 77.9%,#84ff00 78.1%,#9eff00 82.2%,#b8ff00 87.3%,#d1ff00 93.1%,#ebff00 100%)"></i>
<i style="left:754px;top:624px;width:395px;background:linear-gradient(90deg,#00ffd3 0%,#00ffca 14.9%,#00ffc0 27.6%,#00ffb4 38%,#00ffa5 46.6%,#00ff93 53.7%,#00ff7f 59.2%,#00ff66 63.5%,#00ff58 65.3%,#00ff4a 66.6%,#13ff48 66.8%,#1dff48 67.1%,#2aff46 67.6%,#37ff44 68.4%,#52ff3d 70.6%,#6dff30 73.9%,#7bff24 75.9%,#82ff19 77.2%,#87ff0e 78%,#8aff00 78.5%,#a3ff00 82.5%,#bcff00 87.6%,#d5ff00 93.4%,#eeff00 100%)"></i>
<i style="left:754px;top:626px;width:397px;background:linear-gradient(90deg,#00ffd3 0%,#00ffca 14.9%,#00ffc0 27.2%,#00ffb5 37.5%,#00ffa6 46.1%,#00ff96 52.9%,#00ff82 58.4%,#00ff6a 62.7%,#00ff5d 64.5%,#00ff4e 66%,#0bff4b 66.2%,#19ff4b 66.5%,#21ff4a 66.8%,#2dff49 67.3%,#3aff46 68%,#54ff3f 70.3%,#6eff33 73.6%,#7dff27 75.8%,#87ff1b 77.3%,#8aff15 77.8%,#8cff0d 78.3%,#8eff00 78.6%,#a6ff00 82.6%,#bfff00 87.7%,#d8ff00 93.5%,#f0ff00 100%)"></i>
<i style="left:754px;top:628px;width:400px;background:linear-gradient(90deg,#00ffd3 0%,#00ffcb 14.8%,#00ffc1 27%,#00ffb5 37.2%,#00ffa7 45.8%,#00ff96 52.5%,#00ff82 58%,#00ff6b 62.3%,#00ff5d 64%,#00ff4e 65.5%,#15ff4d 65.8%,#1fff4d 66%,#2bff4b 66.5%,#38ff49 67.2%,#53ff43 69.5%,#70ff36 73%,#80ff2a 75.5%,#8bff1d 77.2%,#90ff10 78.2%,#92ff0a 78.5%,#93ff00 78.8%,#acff00 83%,#c5ff00 88%,#ddff00 93.8%,#f4ff00 100%)"></i>
<i style="left:754px;top:630px;width:402px;background:linear-gradient(90deg,#00ffd4 0%,#00ffcb 14.4%,#00ffc2 26.6%,#00ffb6 36.8%,#00ffa8 45%,#00ff97 52%,#00ff84 57.5%,#00ff6d 61.7%,#00ff60 63.4%,#00ff52 64.9%,#1bff4f 65.4%,#23ff4f 65.7%,#2eff4d 66.2%,#3aff4b 66.9%,#47ff49 67.9%,#57ff44 69.4%,#73ff38 72.9%,#83ff2c 75.4%,#8fff1f 77.4%,#94ff13 78.4%,#96ff0f 78.6%,#99ff00 79.1%,#b1ff00 83.3%,#c8ff00 88.1%,#f7ff00 100%)"></i>
<i style="left:755px;top:632px;width:403px;background:linear-gradient(90deg,#00ffd4 0%,#00ffcc 14.4%,#00ffc2 26.3%,#00ffb6 36.5%,#00ffa9 44.7%,#00ff98 51.6%,#00ff84 57.1%,#00ff6e 61.3%,#00ff61 63%,#00ff52 64.5%,#17ff52 64.8%,#20ff51 65%,#2cff50 65.5%,#39ff4e 66.3%,#46ff4c 67.2%,#56ff47 68.7%,#72ff3c 72.2%,#86ff2f 75.2%,#93ff20 77.4%,#99ff12 78.7%,#9bff0d 78.9%,#9cff00 79.2%,#b4ff00 83.4%,#ccff00 88.3%,#faff00 100%)"></i>
<i style="left:755px;top:634px;width:405px;background:linear-gradient(90deg,#00ffd4 0%,#00ffcc 14.3%,#00ffc2 26.2%,#00ffb7 36%,#00ffaa 44.2%,#00ff99 51.1%,#00ff86 56.5%,#00ff70 60.7%,#00ff64 62.5%,#00ff56 64%,#12ff54 64.2%,#1dff54 64.4%,#2aff53 64.9%,#3bff50 65.9%,#48ff4e 66.9%,#58ff4a 68.4%,#75ff3e 72.1%,#8aff30 75.3%,#97ff22 77.5%,#9cff18 78.5%,#9fff11 79%,#a0ff0b 79.3%,#a1ff00 79.5%,#b8ff00 83.7%,#cfff00 88.4%,#fdff00 100%)"></i>
<i style="left:755px;top:636px;width:407px;background:linear-gradient(90deg,#00ffd4 0%,#00ffcd 14%,#00ffc3 25.8%,#00ffb8 35.6%,#00ffab 43.7%,#00ff9b 50.4%,#00ff89 55.8%,#00ff72 60.2%,#00ff59 63.4%,#0aff57 63.6%,#19ff56 63.9%,#21ff56 64.1%,#32ff54 64.9%,#3eff52 65.6%,#59ff4c 68.1%,#77ff40 71.7%,#8dff32 75.2%,#9aff23 77.6%,#a2ff14 79.1%,#a4ff0f 79.4%,#a6ff00 79.9%,#bdff00 84%,#d4ff00 88.9%,#ffff00 100%)"></i>
<i style="left:755px;top:638px;width:409px;background:linear-gradient(90deg,#00ffd5 0%,#00ffcd 13.9%,#00ffc4 25.7%,#00ffb8 35.5%,#00ffab 43.5%,#00ff9c 50.1%,#00ff89 55.5%,#00ff73 59.9%,#00ff5a 63.1%,#15ff59 63.3%,#1eff58 63.6%,#2bff57 64.1%,#3cff55 65%,#4cff52 66.3%,#5bff4e 67.7%,#78ff43 71.4%,#91ff33 75.3%,#a0ff23 78%,#a7ff13 79.5%,#a9ff0d 79.7%,#aaff00 80%,#c4ff00 84.8%,#ddff00 90.5%,#ffff00 99%,#fffc00 100%)"></i>
<i style="left:755px;top:640px;width:412px;background:linear-gradient(90deg,#00ffd5 0%,#00ffc4 25.2%,#00ffb9 35%,#00ffac 43%,#00ff9d 49.5%,#00ff8b 54.9%,#00ff75 59.2%,#00ff5d 62.4%,#1bff5a 62.9%,#23ff5a 63.1%,#33ff58 63.8%,#3fff57 64.6%,#4eff54 65.8%,#5cff50 67.2%,#7cff44 71.4%,#95ff34 75.2%,#a3ff24 77.9%,#abff15 79.4%,#adff0b 79.9%,#afff00 80.1%,#cdff00 85.9%,#ebff00 92.7%,#ffff00 98.1%,#fff800 100%)"></i>
<i style="left:755px;top:642px;width:414px;background:linear-gradient(90deg,#00ffd5 0%,#00ffc5 25.1%,#00ffba 34.8%,#00ffad 42.8%,#00ff9d 49.3%,#00ff8c 54.6%,#00ff76 58.9%,#00ff5d 62.1%,#17ff5d 62.3%,#20ff5c 62.6%,#31ff5b 63.3%,#41ff58 64.3%,#4fff56 65.5%,#60ff51 67.1%,#7fff45 71.3%,#97ff36 75.1%,#a7ff26 78%,#acff1d 79%,#b0ff14 79.7%,#b1ff10 80%,#b4ff00 80.4%,#d5ff00 87%,#f6ff00 94.9%,#ffff00 97.3%,#fff600 100%)"></i>
<i style="left:756px;top:644px;width:415px;background:linear-gradient(90deg,#00ffd6 0%,#00ffc5 24.8%,#00ffba 34.2%,#00ffae 42.2%,#00ff9f 48.7%,#00ff8d 54%,#00ff78 58.3%,#00ff60 61.4%,#12ff5f 61.7%,#1dff5e 61.9%,#24ff5e 62.2%,#34ff5c 62.9%,#43ff5a 63.9%,#51ff58 65.1%,#62ff53 66.7%,#82ff47 71.1%,#9bff37 75.2%,#abff27 78.1%,#b3ff17 79.8%,#b6ff0e 80.2%,#b7ff02 80.5%,#b8ff00 80.7%,#dcff00 88%,#ffff00 96.4%,#fff300 100%)"></i>
<i style="left:756px;top:646px;width:417px;background:linear-gradient(90deg,#00ffd6 0%,#00ffc6 24.5%,#00ffbb 33.8%,#00ffaf 41.5%,#00ffa1 48%,#00ff90 53.2%,#00ff7b 57.6%,#00ff63 60.9%,#09ff61 61.2%,#19ff61 61.4%,#28ff60 61.9%,#37ff5e 62.6%,#45ff5c 63.5%,#55ff59 65%,#65ff55 66.7%,#85ff49 71%,#9fff39 75.3%,#b0ff27 78.4%,#b8ff16 80.1%,#bbff0c 80.6%,#bcff00 80.8%,#ddff00 87.5%,#ffff00 95.7%,#fff000 100%)"></i>
<i style="left:756px;top:648px;width:419px;background:linear-gradient(90deg,#00ffd6 0%,#00ffc6 24.3%,#00ffbc 33.7%,#00ffb0 41.3%,#00ffa1 47.7%,#00ff90 53%,#00ff7c 57.3%,#00ff64 60.6%,#14ff63 60.9%,#26ff62 61.3%,#35ff60 62.1%,#44ff5e 63%,#55ff5b 64.4%,#64ff57 66.1%,#88ff4a 70.9%,#a3ff3a 75.4%,#b3ff28 78.5%,#b9ff1e 79.7%,#bdff15 80.4%,#beff10 80.7%,#c1ff00 81.1%,#e0ff00 87.6%,#ffff00 95%,#ffee00 100%)"></i>
<i style="left:756px;top:650px;width:421px;background:linear-gradient(90deg,#00ffd7 0%,#00ffc7 24%,#00ffbd 33.3%,#00ffb1 40.9%,#00ffa2 47.3%,#00ff92 52.5%,#00ff7e 56.8%,#00ff67 60.1%,#1bff64 60.6%,#23ff64 60.8%,#33ff63 61.5%,#46ff60 62.7%,#56ff5d 64.1%,#68ff59 66%,#8bff4c 70.8%,#a5ff3c 75.3%,#b7ff2a 78.6%,#bdff20 79.8%,#c0ff17 80.5%,#c3ff0e 81%,#c4ff04 81.2%,#c5ff00 81.5%,#e2ff00 87.4%,#feff00 94.1%,#ffeb00 100%)"></i>
<i style="left:756px;top:652px;width:423px;background:linear-gradient(90deg,#00ffd7 0%,#00ffc7 23.9%,#00ffbd 33.1%,#00ffb1 40.7%,#00ffa3 47%,#00ff92 52.2%,#00ff7e 56.5%,#00ff67 59.8%,#17ff67 60%,#27ff66 60.5%,#36ff64 61.2%,#48ff62 62.4%,#58ff5f 63.8%,#69ff5b 65.7%,#8dff4e 70.7%,#aaff3c 75.7%,#bcff29 79%,#c2ff1f 80.1%,#c5ff16 80.9%,#c7ff0c 81.3%,#c9ff00 81.6%,#e3ff00 87%,#ffff00 93.4%,#ffe800 100%)"></i>
<i style="left:756px;top:654px;width:426px;background:linear-gradient(90deg,#00ffd7 0%,#00ffc8 23.5%,#00ffbe 32.6%,#00ffb2 40.1%,#00ffa4 46.5%,#00ff94 51.6%,#00ff80 55.9%,#00ff6a 59.2%,#11ff69 59.4%,#1dff68 59.6%,#24ff68 59.9%,#39ff66 60.8%,#4aff64 62%,#5cff60 63.6%,#6dff5c 65.5%,#91ff4e 70.7%,#adff3e 75.4%,#bfff2b 78.9%,#c9ff19 80.8%,#cbff11 81.2%,#cdff00 81.7%,#e7ff00 86.9%,#ffff00 92.5%,#ffe500 100%)"></i>
<i style="left:757px;top:656px;width:427px;background:linear-gradient(90deg,#00ffd8 0%,#00ffc8 23.2%,#00ffbf 32.1%,#00ffb3 39.6%,#00ffa5 45.9%,#00ff95 51.1%,#00ff82 55.3%,#00ff6d 58.5%,#07ff6b 58.8%,#19ff6a 59%,#28ff69 59.5%,#3bff68 60.4%,#4bff65 61.6%,#5dff62 63.2%,#70ff5d 65.3%,#96ff4f 70.7%,#b1ff3f 75.4%,#c3ff2c 78.9%,#c9ff23 80.1%,#cdff18 81%,#d0ff0f 81.5%,#d1ff05 81.7%,#d2ff00 82%,#ffff00 91.8%,#ffe300 100%)"></i>
<i style="left:757px;top:658px;width:429px;background:linear-gradient(90deg,#00ffd8 0%,#00ffc9 23.1%,#00ffbf 31.9%,#00ffb4 39.4%,#00ffa6 45.7%,#00ff96 50.8%,#00ff83 55%,#00ff6d 58.3%,#14ff6c 58.5%,#1eff6c 58.7%,#26ff6b 59%,#3aff6a 59.9%,#4dff67 61.3%,#5fff64 62.9%,#71ff5f 65%,#98ff51 70.6%,#b5ff3f 75.8%,#c8ff2c 79.3%,#cdff22 80.4%,#d2ff17 81.4%,#d4ff0d 81.8%,#d5ff00 82.1%,#ffff00 90.9%,#ffe000 100%)"></i>
<i style="left:757px;top:660px;width:431px;background:linear-gradient(90deg,#00ffd8 0%,#00ffca 22.7%,#00ffc0 31.6%,#00ffb5 39%,#00ffa7 45.2%,#00ff98 50.3%,#00ff85 54.5%,#00ff70 57.8%,#1bff6e 58.2%,#29ff6d 58.7%,#3cff6b 59.6%,#4fff69 61%,#63ff65 62.9%,#75ff61 65%,#9cff52 70.8%,#b9ff40 75.9%,#cbff2d 79.4%,#d1ff24 80.5%,#d5ff19 81.4%,#d8ff11 81.9%,#d9ff0a 82.1%,#daff00 82.4%,#ffff00 90.3%,#ffed00 94.9%,#ffde00 100%)"></i>
<i style="left:757px;top:662px;width:433px;background:linear-gradient(90deg,#00ffd9 0%,#00ffca 22.6%,#00ffc1 31.4%,#00ffb5 38.8%,#00ffa8 45%,#00ff98 50.1%,#00ff86 54.3%,#00ff70 57.5%,#16ff70 57.7%,#20ff6f 58%,#2dff6f 58.4%,#3eff6d 59.4%,#51ff6a 60.7%,#64ff67 62.6%,#78ff62 64.9%,#a0ff53 70.9%,#bdff41 76%,#d0ff2d 79.7%,#d6ff23 80.8%,#daff18 81.8%,#dcff0f 82.2%,#ddff06 82.4%,#dfff00 82.7%,#ffff00 89.6%,#ffec00 94.5%,#ffdc00 100%)"></i>
<i style="left:757px;top:664px;width:435px;background:linear-gradient(90deg,#00ffd9 0%,#00ffca 22.5%,#00ffc1 31%,#00ffb6 38.4%,#00ffa9 44.6%,#00ff9a 49.7%,#00ff88 53.8%,#00ff73 57%,#11ff72 57.2%,#1dff71 57.5%,#2bff71 57.9%,#41ff6f 59.1%,#53ff6c 60.5%,#66ff69 62.3%,#7bff63 64.8%,#a4ff53 71%,#c2ff41 76.3%,#d5ff2c 80%,#daff23 81.1%,#dfff17 82.1%,#e1ff0d 82.5%,#e2ff00 82.8%,#ffff00 89%,#ffeb00 94%,#ffd900 100%)"></i>
<i style="left:758px;top:666px;width:436px;background:linear-gradient(90deg,#00ffd9 0%,#00ffcb 22%,#00ffc2 30.5%,#00ffb7 37.8%,#00ffaa 44%,#00ff9b 49.1%,#00ff89 53.2%,#00ff75 56.4%,#04ff74 56.7%,#19ff73 56.9%,#22ff73 57.1%,#2eff72 57.6%,#43ff70 58.7%,#55ff6e 60.1%,#67ff6a 61.9%,#7cff65 64.4%,#a8ff54 71.1%,#c5ff42 76.4%,#d8ff2e 80%,#deff24 81.2%,#e2ff1a 82.1%,#e5ff12 82.6%,#e6ff0b 82.8%,#e7ff00 83%,#ffff00 88.1%,#ffe900 93.8%,#ffd700 100%)"></i>
<i style="left:758px;top:668px;width:438px;background:linear-gradient(90deg,#00ffda 0%,#00ffcc 21.9%,#00ffc3 30.4%,#00ffb8 37.7%,#00ffab 43.8%,#00ff9c 48.9%,#00ff8a 53%,#00ff76 56.2%,#14ff75 56.4%,#1eff75 56.6%,#2cff74 57.1%,#42ff72 58.2%,#56ff6f 59.8%,#6bff6c 61.9%,#7fff66 64.4%,#acff55 71.2%,#c9ff43 76.5%,#dcff2f 80.1%,#e2ff24 81.5%,#e7ff19 82.4%,#e9ff10 82.9%,#ebff00 83.3%,#ffff00 87.4%,#ffe900 93.2%,#ffd400 100%)"></i>
<i style="left:758px;top:670px;width:441px;background:linear-gradient(90deg,#00ffda 0%,#00ffcc 21.8%,#00ffc3 30.2%,#00ffb9 37.2%,#00ffad 43.1%,#00ff9e 48.1%,#00ff8d 52.2%,#00ff79 55.6%,#0cff77 55.8%,#1bff77 56%,#23ff76 56.2%,#2fff76 56.7%,#44ff74 57.8%,#58ff71 59.4%,#6eff6d 61.7%,#84ff67 64.4%,#b3ff55 71.7%,#cfff42 76.9%,#e1ff2d 80.5%,#e7ff23 81.6%,#ecff18 82.5%,#eeff0e 83%,#efff00 83.2%,#ffff00 86.6%,#ffe700 92.7%,#ffd200 100%)"></i>
<i style="left:758px;top:672px;width:443px;background:linear-gradient(90deg,#00ffdb 0%,#00ffcd 21.7%,#00ffc4 30%,#00ffb9 37%,#00ffad 42.9%,#00ff9f 47.9%,#00ff8e 51.9%,#00ff79 55.3%,#16ff79 55.5%,#20ff78 55.8%,#2dff78 56.2%,#42ff76 57.3%,#5aff73 59.1%,#70ff6e 61.4%,#85ff69 64.1%,#9dff61 67.5%,#b6ff56 71.8%,#d3ff43 77%,#e5ff2f 80.6%,#ebff25 81.7%,#efff1a 82.6%,#f1ff12 83.1%,#f2ff0b 83.3%,#f4ff00 83.5%,#fffe00 86%,#ffe500 92.3%,#ffcf00 100%)"></i>
<i style="left:758px;top:674px;width:445px;background:linear-gradient(90deg,#00ffdb 0%,#00ffcd 21.3%,#00ffc5 29.7%,#00ffba 36.6%,#00ffae 42.5%,#00ffa0 47.4%,#00ff90 51.5%,#00ff7c 54.8%,#10ff7b 55.1%,#1dff7a 55.3%,#30ff79 56%,#45ff77 57.1%,#5bff74 58.9%,#73ff70 61.3%,#8aff6a 64.3%,#a2ff62 67.9%,#bcff56 72.1%,#d7ff43 77.3%,#eaff2e 80.9%,#efff25 82%,#f4ff19 82.9%,#f6ff10 83.4%,#f8ff00 83.8%,#fffe00 85.4%,#ffe400 91.9%,#ffcd00 100%)"></i>
<i style="left:759px;top:676px;width:446px;background:linear-gradient(90deg,#00ffdb 0%,#00ffce 21.3%,#00ffc5 29.6%,#00ffbb 36.5%,#00ffae 42.4%,#00ffa0 47.3%,#00ff8f 51.3%,#00ff7c 54.5%,#18ff7c 54.7%,#22ff7c 54.9%,#2eff7b 55.4%,#47ff79 56.7%,#5dff76 58.5%,#75ff71 61%,#8dff6b 64.1%,#a6ff63 67.9%,#c1ff56 72.4%,#dcff43 77.6%,#efff2e 81.2%,#f4ff24 82.3%,#f9ff18 83.2%,#fbff0e 83.6%,#fcff00 83.9%,#ffff00 84.5%,#ffef00 88.1%,#ffe000 92.4%,#ffcb00 100%)"></i>
<i style="left:759px;top:678px;width:448px;background:linear-gradient(90deg,#00ffdc 0%,#00ffce 21%,#00ffc6 29.2%,#00ffbb 36.2%,#00ffb0 42%,#00ffa2 46.9%,#00ff91 50.9%,#00ff7f 54%,#13ff7e 54.2%,#1eff7e 54.5%,#32ff7d 55.1%,#49ff7a 56.5%,#61ff77 58.5%,#7aff72 61.2%,#91ff6c 64.3%,#acff63 68.3%,#c7ff56 73%,#e1ff43 77.9%,#f3ff2e 81.5%,#f9ff24 82.6%,#fdff17 83.5%,#ffff0c 83.9%,#fffd00 84.2%,#ffe100 91.3%,#ffc900 100%)"></i>
<i style="left:759px;top:680px;width:450px;background:linear-gradient(90deg,#00ffdc 0%,#00ffcf 20.9%,#00ffbc 35.8%,#00ffb1 41.6%,#00ffa4 46.2%,#00ff94 50.2%,#00ff81 53.6%,#0bff80 53.8%,#1bff7f 54%,#2aff7f 54.4%,#35ff7e 54.9%,#4bff7c 56.2%,#63ff79 58.2%,#7bff74 60.9%,#94ff6d 64.2%,#b0ff64 68.4%,#cdff55 73.6%,#e6ff43 78.2%,#f7ff2f 81.6%,#fcff25 82.7%,#fffd1a 83.6%,#fffb11 84%,#fff900 84.4%,#ffde00 91.3%,#ffc700 100%)"></i>
<i style="left:759px;top:682px;width:452px;background:linear-gradient(90deg,#00ffdc 0%,#00ffcf 20.8%,#00ffbd 35.6%,#00ffb1 41.4%,#00ffa4 46%,#00ff95 50%,#00ff82 53.3%,#16ff81 53.5%,#20ff81 53.8%,#33ff80 54.4%,#3fff7f 55.1%,#4dff7e 56%,#64ff7a 58%,#7dff76 60.6%,#97ff6f 64.2%,#b4ff65 68.6%,#d2ff55 73.9%,#ebff43 78.5%,#fcff2f 81.9%,#ffff29 82.5%,#fff818 83.8%,#fff60e 84.3%,#fff500 84.5%,#ffdb00 91.6%,#ffc400 100%)"></i>
<i style="left:760px;top:684px;width:454px;background:linear-gradient(90deg,#00ffdd 0%,#00ffd0 20.3%,#00ffbe 35%,#00ffb3 40.7%,#00ffa6 45.4%,#00ff96 49.3%,#00ff84 52.6%,#1cff83 53.1%,#2bff82 53.5%,#36ff81 54%,#4fff7f 55.5%,#6aff7b 57.9%,#85ff76 61%,#a0ff6e 64.8%,#c3ff60 70.5%,#ddff52 75.1%,#f1ff42 78.9%,#ffff30 81.7%,#fff823 83%,#fff417 83.9%,#fff20c 84.4%,#fff100 84.6%,#ffd700 91.6%,#ffc200 100%)"></i>
<i style="left:760px;top:686px;width:456px;background:linear-gradient(90deg,#00ffdd 0%,#00ffd0 20.4%,#00ffbf 34.9%,#00ffb3 40.6%,#00ffa7 45.2%,#00ff97 49.1%,#00ff85 52.4%,#18ff85 52.6%,#22ff84 52.9%,#2fff84 53.3%,#38ff83 53.7%,#51ff81 55.3%,#6cff7d 57.7%,#86ff77 60.7%,#a3ff70 64.7%,#c8ff61 70.8%,#e4ff50 75.9%,#f3ff44 78.7%,#ffff38 80.9%,#fff92d 82.2%,#fff119 84%,#ffef10 84.4%,#ffed00 84.9%,#ffd500 91.7%,#ffc000 100%)"></i>
<i style="left:760px;top:688px;width:458px;background:linear-gradient(90deg,#00ffdd 0%,#00ffd1 20.1%,#00ffc0 34.5%,#00ffb5 40.2%,#00ffa8 44.8%,#00ff99 48.7%,#00ff87 52%,#13ff86 52.2%,#1eff86 52.4%,#2dff85 52.8%,#3bff84 53.5%,#55ff82 55.2%,#6fff7e 57.6%,#8bff78 60.9%,#aaff70 65.3%,#d2ff5f 72.1%,#efff4c 77.3%,#ffff3d 80.3%,#fff228 83%,#ffee1e 83.8%,#ffeb14 84.5%,#ffea0e 84.7%,#ffe900 84.9%,#ffd200 91.7%,#ffbd00 100%)"></i>
<i style="left:760px;top:690px;width:460px;background:linear-gradient(90deg,#00ffde 0%,#00ffd2 19.8%,#00ffc1 34.1%,#00ffb6 39.8%,#00ffa9 44.3%,#00ff9b 48.3%,#00ff89 51.5%,#09ff88 51.7%,#1aff88 52%,#23ff88 52.2%,#30ff87 52.6%,#3eff86 53.3%,#5aff83 55.2%,#75ff7f 57.8%,#93ff78 61.5%,#b2ff6f 66.1%,#e0ff5a 73.9%,#feff43 79.6%,#fff331 82.2%,#ffeb20 83.9%,#ffe712 84.8%,#ffe60c 85%,#ffe500 85.2%,#ffcf00 92%,#ffbb00 100%)"></i>
<i style="left:761px;top:692px;width:461px;background:linear-gradient(90deg,#00ffde 0%,#00ffd2 19.7%,#00ffc1 34.1%,#00ffb6 39.7%,#00ffa9 44.3%,#00ff9b 48.2%,#00ff8a 51.2%,#15ff8a 51.4%,#20ff89 51.6%,#2eff89 52.1%,#3cff88 52.7%,#4bff87 53.6%,#59ff85 54.7%,#74ff81 57.3%,#93ff7b 61%,#b2ff72 65.5%,#dfff5e 73.1%,#feff48 79%,#fff235 81.8%,#ffe924 83.7%,#ffe415 84.8%,#ffe310 85%,#ffe100 85.5%,#ffcc00 92.2%,#ffb900 100%)"></i>
<i style="left:761px;top:694px;width:463px;background:linear-gradient(90deg,#00ffde 0%,#00ffd2 19.7%,#00ffc2 33.7%,#00ffb7 39.3%,#00ffab 43.8%,#00ff9d 47.5%,#00ff8c 50.8%,#1cff8b 51.2%,#25ff8b 51.4%,#31ff8a 51.8%,#3fff89 52.5%,#5bff86 54.4%,#76ff82 57%,#94ff7c 60.7%,#b3ff73 65.2%,#dfff61 72.6%,#ffff4c 78.4%,#ffef37 81.6%,#ffe625 83.8%,#ffe013 85.1%,#ffdf0e 85.3%,#ffde03 85.5%,#ffde00 85.7%,#ffc900 92.2%,#ffb700 100%)"></i>
<i style="left:761px;top:696px;width:465px;background:linear-gradient(90deg,#00ffdf 0%,#00ffd3 19.6%,#00ffc2 33.5%,#00ffb8 39.1%,#00ffac 43.7%,#00ff9e 47.3%,#00ff8d 50.5%,#18ff8d 50.8%,#22ff8d 51%,#2fff8c 51.4%,#3dff8b 52%,#4cff8a 52.9%,#5aff88 54%,#75ff84 56.6%,#94ff7e 60.2%,#b3ff76 64.7%,#dfff64 72%,#ffff50 77.8%,#ffec37 81.7%,#ffe224 84.1%,#ffde19 84.9%,#ffdc12 85.4%,#ffdb0c 85.6%,#ffdb00 85.8%,#ffc700 92.3%,#ffb500 100%)"></i>
<i style="left:761px;top:698px;width:467px;background:linear-gradient(90deg,#00ffdf 0%,#00ffd4 19.3%,#00ffc3 33.2%,#00ffb9 38.5%,#00ffae 43%,#00ffa0 46.9%,#00ff8f 50.1%,#12ff8f 50.3%,#1eff8e 50.5%,#2dff8e 51%,#3cff8d 51.6%,#4aff8c 52.5%,#59ff8a 53.5%,#75ff86 56.1%,#94ff80 59.7%,#b3ff78 64.2%,#deff67 71.3%,#feff54 77.1%,#ffea3b 81.4%,#ffdf27 83.9%,#ffdc1e 84.8%,#ffd914 85.4%,#ffd910 85.7%,#ffd700 86.1%,#ffc400 92.5%,#ffb300 100%)"></i>
<i style="left:762px;top:700px;width:469px;background:linear-gradient(90deg,#00ffe0 0%,#00ffd4 19%,#00ffc4 32.6%,#00ffbb 38%,#00ffaf 42.4%,#00ffa2 46.3%,#00ff92 49.5%,#07ff90 49.7%,#1aff90 49.9%,#23ff90 50.1%,#30ff8f 50.5%,#3eff8e 51.2%,#4dff8d 52%,#5bff8c 53.1%,#76ff88 55.7%,#93ff82 59.1%,#b3ff7a 63.5%,#deff6a 70.6%,#ffff58 76.3%,#ffe83c 81%,#ffdc28 83.8%,#ffd717 85.3%,#ffd50e 85.7%,#ffd404 85.9%,#ffd300 86.1%,#ffc100 92.5%,#ffb100 100%)"></i>
<i style="left:762px;top:702px;width:471px;background:linear-gradient(90deg,#00ffe0 0%,#00ffd5 18.9%,#00ffc5 32.5%,#00ffbb 37.8%,#00ffb0 42.3%,#00ffa2 46.1%,#00ff92 49.3%,#15ff92 49.5%,#20ff92 49.7%,#2eff91 50.1%,#3dff90 50.7%,#4bff8f 51.6%,#5aff8e 52.7%,#76ff8a 55.2%,#93ff85 58.6%,#b3ff7c 63.1%,#deff6d 70.1%,#ffff5b 75.8%,#ffe63e 80.9%,#ffd929 83.9%,#ffd51e 84.9%,#ffd315 85.6%,#ffd10c 86%,#ffd100 86.2%,#ffbf00 92.6%,#ffaf00 100%)"></i>
<i style="left:762px;top:704px;width:473px;background:linear-gradient(90deg,#00ffe0 0%,#00ffd5 18.6%,#00ffc6 32.1%,#00ffbc 37.4%,#00ffb1 41.9%,#00ffa4 45.7%,#00ff95 48.8%,#1cff93 49.3%,#25ff93 49.5%,#3bff92 50.3%,#4aff91 51.2%,#59ff8f 52.2%,#75ff8c 54.8%,#93ff87 58.1%,#b3ff7f 62.6%,#ddff70 69.3%,#feff5f 75.1%,#ffe440 80.8%,#ffd62a 83.9%,#ffd220 85%,#ffcf14 85.8%,#ffce09 86.3%,#ffcd00 86.5%,#ffbc00 92.8%,#ffad00 100%)"></i>
<i style="left:762px;top:706px;width:475px;background:linear-gradient(90deg,#00ffe1 0%,#00ffd6 18.5%,#00ffc7 32%,#00ffbd 37.3%,#00ffb2 41.7%,#00ffa5 45.5%,#00ff95 48.6%,#18ff95 48.8%,#22ff95 49.1%,#2fff94 49.5%,#39ff94 49.9%,#49ff93 50.7%,#56ff91 51.6%,#75ff8e 54.3%,#92ff89 57.7%,#b3ff81 62.1%,#ddff73 68.8%,#feff63 74.5%,#ffe141 80.6%,#ffd42a 84%,#ffd021 85.1%,#ffcd16 85.9%,#ffcb0e 86.3%,#ffca05 86.5%,#ffca00 86.7%,#ffb900 92.8%,#ffab00 100%)"></i>
<i style="left:763px;top:708px;width:476px;background:linear-gradient(90deg,#00ffe1 0%,#00ffd6 18.3%,#00ffc7 31.7%,#00ffbe 37%,#00ffb3 41.4%,#00ffa7 45%,#00ff97 48.1%,#12ff97 48.3%,#1eff96 48.5%,#2dff96 48.9%,#3cff95 49.6%,#4bff94 50.4%,#5aff93 51.5%,#76ff8f 54%,#94ff8a 57.4%,#b3ff83 61.6%,#deff75 68.3%,#ffff66 73.9%,#ffde41 80.7%,#ffd12b 84%,#ffcc20 85.3%,#ffc915 86.1%,#ffc80c 86.6%,#ffc700 86.8%,#ffb700 92.9%,#ffa900 100%)"></i>
<i style="left:763px;top:710px;width:478px;background:linear-gradient(90deg,#00ffe2 0%,#00ffd7 18.2%,#00ffc8 31.4%,#00ffbf 36.6%,#00ffb4 41%,#00ffa8 44.6%,#00ff9a 47.7%,#05ff98 47.9%,#1aff98 48.1%,#24ff98 48.3%,#31ff97 48.7%,#3fff97 49.4%,#59ff94 51%,#76ff91 53.6%,#94ff8c 56.9%,#b3ff85 61.1%,#deff78 67.8%,#ffff69 73.4%,#ffe54e 78.5%,#ffce2c 84.1%,#ffc921 85.4%,#ffc717 86.2%,#ffc510 86.6%,#ffc400 87%,#ffb400 93.1%,#ffa700 100%)"></i>
<i style="left:763px;top:712px;width:480px;background:linear-gradient(90deg,#00ffe2 0%,#00ffd7 18.1%,#00ffc9 31.2%,#00ffc0 36.5%,#00ffb5 40.8%,#00ffa9 44.4%,#00ff9a 47.5%,#15ff9a 47.7%,#20ff9a 47.9%,#2eff99 48.3%,#3dff98 49%,#58ff96 50.6%,#75ff93 53.1%,#93ff8e 56.5%,#b3ff87 60.6%,#ddff7b 67.1%,#feff6c 72.7%,#ffe34f 78.3%,#ffcb2d 84.2%,#ffc419 86.2%,#ffc20e 86.9%,#ffc000 87.3%,#ffb200 93.1%,#ffa500 100%)"></i>
<i style="left:763px;top:714px;width:483px;background:linear-gradient(90deg,#00ffe2 0%,#00ffd8 17.8%,#00ffca 30.8%,#00ffc1 36%,#00ffb6 40.4%,#00ffab 43.9%,#00ff9d 47%,#1cff9b 47.4%,#25ff9b 47.6%,#3cff9a 48.4%,#4bff99 49.3%,#5aff98 50.3%,#77ff95 52.8%,#95ff90 56.1%,#b4ff89 60.2%,#d6ff7f 65.4%,#ffff6f 72%,#ffe251 77.8%,#ffd13c 81.8%,#ffc82c 84.3%,#ffc31f 85.7%,#ffc015 86.5%,#ffbf0c 87%,#ffbe00 87.2%,#ffaf00 93.2%,#ffa200 100%)"></i>
<i style="left:764px;top:716px;width:484px;background:linear-gradient(90deg,#00ffe3 0%,#00ffd8 17.8%,#00ffcb 30.6%,#00ffc2 35.7%,#00ffb7 40.1%,#00ffac 43.6%,#00ff9d 46.7%,#17ff9d 46.9%,#22ff9d 47.1%,#30ff9c 47.5%,#3eff9c 48.1%,#59ff9a 49.8%,#76ff96 52.3%,#94ff92 55.6%,#b4ff8b 59.7%,#d6ff82 64.9%,#ffff72 71.5%,#ffe053 77.5%,#ffcf3d 81.6%,#ffc52c 84.3%,#ffc020 85.7%,#ffbd17 86.6%,#ffbc0f 87%,#ffbb09 87.2%,#ffbb00 87.4%,#ffad00 93.2%,#ffa100 100%)"></i>
<i style="left:764px;top:718px;width:486px;background:linear-gradient(90deg,#00ffe3 0%,#00ffd9 17.7%,#00ffcb 30.5%,#00ffb9 39.7%,#00ffad 43.2%,#00ffa0 46.3%,#11ff9f 46.5%,#1eff9f 46.7%,#2dff9e 47.1%,#3dff9d 47.7%,#59ff9b 49.4%,#76ff98 51.9%,#94ff94 55.1%,#b4ff8d 59.3%,#d8ff84 64.6%,#ffff75 71%,#ffdf55 77.2%,#ffcd3f 81.5%,#ffc22d 84.4%,#ffbe23 85.6%,#ffbb18 86.6%,#ffb90e 87.2%,#ffb800 87.7%,#ff9f00 100%)"></i>
<i style="left:764px;top:720px;width:488px;background:linear-gradient(90deg,#00ffe4 0%,#00ffda 17.6%,#00ffcc 30.3%,#00ffb9 39.5%,#00ffae 43%,#00ffa0 46.1%,#1affa0 46.3%,#2bffa0 46.7%,#3bff9f 47.3%,#4bff9e 48.2%,#58ff9d 49%,#75ff9a 51.4%,#92ff96 54.5%,#b2ff90 58.6%,#d5ff87 63.7%,#feff78 70.3%,#ffdd57 76.8%,#ffca3f 81.6%,#ffc02e 84.4%,#ffbb22 85.9%,#ffb817 86.9%,#ffb60c 87.5%,#ffb500 87.7%,#ff9d00 100%)"></i>
<i style="left:765px;top:722px;width:489px;background:linear-gradient(90deg,#00ffe4 0%,#00ffda 17.2%,#00ffcd 29.9%,#00ffbb 39.1%,#00ffb0 42.5%,#00ffa3 45.6%,#14ffa2 45.8%,#20ffa2 46%,#2fffa1 46.4%,#3effa1 47%,#5aff9f 48.7%,#75ff9c 50.9%,#92ff98 54%,#b2ff92 58.1%,#d5ff89 63.2%,#ffff7b 69.7%,#ffdc59 76.5%,#ffc840 81.4%,#ffbd2e 84.5%,#ffb822 86.1%,#ffb516 87.1%,#ffb30f 87.5%,#ffb30a 87.7%,#ffb200 87.9%,#ff9b00 100%)"></i>
<i style="left:765px;top:724px;width:491px;background:linear-gradient(90deg,#00ffe4 0%,#00ffdb 17.1%,#00ffce 29.5%,#00ffbc 38.7%,#00ffb2 42.2%,#00ffa5 45.2%,#0bffa4 45.4%,#1cffa3 45.6%,#25ffa3 45.8%,#32ffa3 46.2%,#3cffa2 46.6%,#59ffa0 48.3%,#76ff9d 50.7%,#93ff99 53.8%,#b4ff94 57.8%,#d7ff8b 62.9%,#ffff7e 69.2%,#ffdb5b 76.2%,#ffc541 81.5%,#ffbb2f 84.5%,#ffb523 86.2%,#ffb218 87.2%,#ffb00e 87.8%,#ffaf00 88.2%,#ff9900 100%)"></i>
<i style="left:765px;top:726px;width:493px;background:linear-gradient(90deg,#00ffe5 0%,#00ffdb 17%,#00ffcf 29.4%,#00ffbd 38.5%,#00ffb2 42%,#00ffa6 45%,#17ffa5 45.2%,#22ffa5 45.4%,#30ffa4 45.8%,#3bffa4 46.2%,#4bffa3 47.1%,#58ffa2 47.9%,#76ff9f 50.3%,#93ff9b 53.3%,#b4ff96 57.4%,#d6ff8e 62.3%,#feff81 68.6%,#ffd95c 76.1%,#ffc341 81.5%,#ffb82e 84.8%,#ffb222 86.4%,#ffaf17 87.4%,#ffad0c 88%,#ffad00 88.2%,#ff9700 100%)"></i>
<i style="left:765px;top:728px;width:496px;background:linear-gradient(90deg,#00ffe5 0%,#00ffdc 16.7%,#00ffd0 29%,#00ffbf 38.1%,#00ffb4 41.5%,#00ffa8 44.6%,#1effa7 45%,#2effa6 45.4%,#3dffa6 46%,#5affa4 47.6%,#75ffa1 49.8%,#93ff9d 52.8%,#b2ff98 56.7%,#d5ff90 61.5%,#ffff83 67.9%,#ffea70 71.8%,#ffd75d 75.6%,#ffc041 81.5%,#ffb52f 84.7%,#ffb023 86.3%,#ffad19 87.3%,#ffab0f 87.9%,#ffaa0a 88.1%,#ffaa00 88.3%,#ff9500 100%)"></i>
<i style="left:766px;top:730px;width:497px;background:linear-gradient(90deg,#00ffe6 0%,#00ffdc 16.7%,#00ffd0 29%,#00ffbf 37.8%,#00ffb5 41.2%,#00ffa9 44.3%,#1affa8 44.5%,#24ffa8 44.7%,#31ffa8 45.1%,#3cffa7 45.5%,#4cffa6 46.3%,#59ffa5 47.1%,#75ffa3 49.3%,#92ff9f 52.3%,#b2ff9a 56.1%,#d5ff92 61%,#ffff86 67.4%,#ffea73 71%,#ffd760 75.1%,#ffbe42 81.3%,#ffb32f 84.7%,#ffae24 86.3%,#ffaa18 87.5%,#ffa80e 88.1%,#ffa700 88.5%,#ff9300 100%)"></i>
<i style="left:766px;top:732px;width:499px;background:linear-gradient(90deg,#00ffe6 0%,#00ffdd 16.6%,#00ffd1 28.7%,#00ffc1 37.5%,#00ffb7 40.9%,#00ffab 43.9%,#14ffaa 44.1%,#20ffaa 44.3%,#2fffa9 44.7%,#3fffa9 45.3%,#5bffa7 46.9%,#76ffa5 49.1%,#94ffa1 52.1%,#b3ff9c 55.9%,#d8ff94 60.9%,#ffff88 66.9%,#ffe974 70.7%,#ffd460 74.9%,#ffbb42 81.4%,#ffb02e 85%,#ffab23 86.6%,#ffa717 87.8%,#ffa50c 88.4%,#ffa500 88.6%,#ff9100 100%)"></i>
<i style="left:766px;top:734px;width:501px;background:linear-gradient(90deg,#00ffe6 0%,#00ffde 16.4%,#00ffd2 28.3%,#00ffc2 37.1%,#00ffb8 40.5%,#00ffad 43.5%,#0affac 43.7%,#1cffab 43.9%,#25ffab 44.1%,#33ffab 44.5%,#3dffaa 44.9%,#4dffaa 45.7%,#5affa9 46.5%,#76ffa6 48.7%,#94ffa3 51.7%,#b3ff9e 55.5%,#d5ff97 60.1%,#feff8b 66.3%,#ffe776 70.5%,#ffd362 74.7%,#ffb942 81.4%,#ffad2f 85%,#ffa824 86.6%,#ffa518 87.8%,#ffa30f 88.4%,#ffa20a 88.6%,#ffa200 88.8%,#ff8f00 100%)"></i>
<i style="left:767px;top:736px;width:502px;background:linear-gradient(90deg,#00ffe7 0%,#00ffde 16.1%,#00ffd3 28.1%,#00ffc3 36.9%,#00ffb9 40.2%,#00ffae 43.2%,#17ffad 43.4%,#22ffad 43.6%,#31ffad 44%,#3bffac 44.4%,#4cffab 45.2%,#59ffab 46%,#75ffa8 48.2%,#93ffa5 51.2%,#b3ffa0 55%,#d5ff99 59.6%,#ffff8e 65.7%,#ffe778 69.9%,#ffd263 74.3%,#ffb744 81.3%,#ffab2f 85.1%,#ffa523 86.9%,#ffa217 88%,#ffa00d 88.6%,#ff9f00 89%,#ff8d00 100%)"></i>
<i style="left:767px;top:738px;width:504px;background:linear-gradient(90deg,#00ffe7 0%,#00ffdf 16.1%,#00ffd3 28%,#00ffc4 36.5%,#00ffbb 39.9%,#00ffb0 42.9%,#1effaf 43.3%,#27ffae 43.5%,#3effae 44.2%,#5bffac 45.8%,#77ffaa 48%,#95ffa6 51%,#b5ffa2 54.8%,#d7ff9b 59.3%,#ffff90 65.3%,#ffe77b 69.2%,#ffd166 73.8%,#ffbc4e 79.2%,#ffa830 85.1%,#ffa324 86.9%,#ffa019 88.1%,#ff9d0c 88.9%,#ff9d01 89.1%,#ff8b00 100%)"></i>
<i style="left:767px;top:740px;width:506px;background:linear-gradient(90deg,#00ffe8 0%,#00ffdf 16%,#00ffd4 27.9%,#00ffc5 36.4%,#00ffbc 39.7%,#00ffb1 42.7%,#19ffb0 42.9%,#24ffb0 43.1%,#32ffb0 43.5%,#3cffaf 43.9%,#57ffae 45.3%,#74ffac 47.4%,#91ffa9 50.2%,#b1ffa4 54%,#d4ff9e 58.5%,#feff93 64.6%,#ffe57c 69.2%,#ffcf66 73.7%,#ffba4f 79.1%,#ffa52f 85.4%,#ffa023 87.2%,#ff9d18 88.3%,#ff9b0f 88.9%,#ff9b0a 89.1%,#ff9a00 89.3%,#ff8900 100%)"></i>
<i style="left:768px;top:742px;width:508px;background:linear-gradient(90deg,#00ffe8 0%,#00ffe0 15.7%,#00ffd5 27.4%,#00ffc7 35.8%,#00ffbe 39.2%,#00ffb3 42.1%,#13ffb2 42.3%,#20ffb2 42.5%,#30ffb2 42.9%,#3bffb1 43.3%,#4bffb0 44.1%,#59ffb0 44.9%,#76ffad 47%,#94ffaa 50%,#b3ffa6 53.5%,#d5ffa0 58.1%,#ffff96 64%,#ffe47e 68.5%,#ffce68 73.2%,#ffb850 78.7%,#ffa330 85.2%,#ff9e24 87%,#ff9b19 88.2%,#ff980d 89%,#ff9800 89.4%,#ff8700 100%)"></i>
<i style="left:768px;top:744px;width:510px;background:linear-gradient(90deg,#00ffe9 0%,#00ffe1 15.5%,#00ffd6 27.1%,#00ffc8 35.5%,#00ffbf 38.8%,#00ffb5 41.8%,#08ffb4 42%,#1cffb4 42.2%,#26ffb3 42.4%,#33ffb3 42.7%,#3effb3 43.1%,#58ffb1 44.5%,#75ffaf 46.7%,#92ffac 49.4%,#b3ffa8 53.1%,#d6ffa2 57.6%,#ffff98 63.5%,#ffe581 67.8%,#ffcc69 72.9%,#ffb650 78.6%,#ffa130 85.3%,#ff9c25 87.1%,#ff9818 88.4%,#ff9610 89%,#ff960c 89.2%,#ff9503 89.4%,#ff9500 89.6%,#ff8500 100%)"></i>
<i style="left:768px;top:746px;width:512px;background:linear-gradient(90deg,#00ffe9 0%,#00ffe1 15.4%,#00ffd7 27%,#00ffc9 35.4%,#00ffc0 38.7%,#00ffb6 41.6%,#17ffb5 41.8%,#22ffb5 42%,#31ffb5 42.4%,#3cffb4 42.8%,#4dffb4 43.6%,#5affb3 44.3%,#77ffb1 46.5%,#96ffae 49.4%,#b4ffaa 52.9%,#d9ffa3 57.6%,#ffff9a 63.1%,#ffe382 67.6%,#ffcb6a 72.7%,#ffb450 78.7%,#ff9e2f 85.5%,#ff9822 87.5%,#ff9517 88.7%,#ff940f 89.3%,#ff930a 89.5%,#ff9300 89.6%,#ff8300 100%)"></i>
<i style="left:768px;top:748px;width:514px;background:linear-gradient(90deg,#00ffe9 0%,#00ffe2 15.4%,#00ffd8 26.8%,#00ffca 35.2%,#00ffb8 41.2%,#1effb7 41.6%,#27ffb7 41.8%,#35ffb6 42.2%,#3fffb6 42.6%,#59ffb5 44%,#76ffb3 46.1%,#93ffb0 48.8%,#b3ffac 52.3%,#d6ffa6 56.8%,#feff9d 62.5%,#ffe283 67.3%,#ffca6c 72.4%,#ffb252 78.4%,#ff9c30 85.6%,#ff9725 87.4%,#ff9319 88.7%,#ff910d 89.5%,#ff9000 89.9%,#ff8100 100%)"></i>
<i style="left:769px;top:750px;width:515px;background:linear-gradient(90deg,#00ffea 0%,#00ffe2 15.3%,#00ffd9 26.6%,#00ffcb 35%,#00ffb9 41%,#19ffb9 41.2%,#24ffb8 41.4%,#32ffb8 41.7%,#3dffb8 42.1%,#58ffb6 43.5%,#76ffb4 45.6%,#93ffb2 48.3%,#b3ffae 51.8%,#d6ffa8 56.3%,#ffffa0 61.9%,#ffe386 66.6%,#ffc86d 72%,#ffb052 78.4%,#ff992f 85.8%,#ff9424 87.6%,#ff9018 88.9%,#ff8f10 89.5%,#ff8e0c 89.7%,#ff8e04 89.9%,#ff8d00 90.1%,#ff7f00 100%)"></i>
<i style="left:769px;top:752px;width:517px;background:linear-gradient(90deg,#00ffea 0%,#00ffe3 15.1%,#00ffda 26.3%,#00ffcc 34.6%,#00ffbb 40.6%,#13ffba 40.8%,#20ffba 41%,#30ffba 41.4%,#3bffb9 41.8%,#57ffb8 43.1%,#75ffb6 45.3%,#93ffb3 48%,#b3ffb0 51.5%,#d6ffaa 55.9%,#ffffa2 61.5%,#ffe288 66.2%,#ffc76e 71.8%,#ffae53 78.3%,#ff9730 85.9%,#ff9123 87.8%,#ff8e17 89.2%,#ff8c0f 89.7%,#ff8c0a 89.9%,#ff8b00 90.1%,#ff7d00 100%)"></i>
<i style="left:769px;top:754px;width:519px;background:linear-gradient(90deg,#00ffeb 0%,#00ffe4 15%,#00ffdb 26%,#00ffce 34.3%,#00ffbd 40.3%,#06ffbc 40.5%,#1cffbc 40.7%,#26ffbc 40.8%,#34ffbb 41.2%,#3effbb 41.6%,#59ffba 43%,#77ffb8 45.1%,#94ffb5 47.8%,#b4ffb1 51.3%,#d9ffac 55.9%,#fffea4 61.1%,#ffe189 65.9%,#ffc670 71.5%,#ffac53 78.2%,#ff942f 86.1%,#ff8f24 87.9%,#ff8b18 89.2%,#ff890d 90%,#ff8900 90.4%,#ff7c00 100%)"></i>
<i style="left:770px;top:756px;width:521px;background:linear-gradient(90deg,#00ffeb 0%,#00ffe4 15%,#00ffdb 25.9%,#00ffcf 34%,#00ffbe 39.9%,#16ffbd 40.1%,#22ffbd 40.3%,#31ffbd 40.7%,#3dffbd 41.1%,#58ffbc 42.4%,#76ffba 44.5%,#94ffb7 47.2%,#b2ffb4 50.5%,#d5ffaf 54.7%,#ffffa7 60.3%,#ffe08b 65.3%,#ffc471 71%,#ffaa54 77.9%,#ff922f 86%,#ff8c23 87.9%,#ff8918 89.3%,#ff8710 89.8%,#ff8600 90.4%,#ff7900 100%)"></i>
<i style="left:770px;top:758px;width:523px;background:linear-gradient(90deg,#00ffec 0%,#00ffe5 14.7%,#00ffdc 25.6%,#00ffd0 33.7%,#00ffc0 39.6%,#1effbf 40%,#28ffbf 40.2%,#35ffbf 40.5%,#40ffbe 40.9%,#5affbd 42.3%,#76ffbb 44.2%,#94ffb9 46.8%,#b2ffb6 50.1%,#d5ffb1 54.3%,#ffffa9 59.8%,#ffe08d 64.8%,#ffc372 70.7%,#ffa855 77.8%,#ff8f2f 86.2%,#ff8a23 88.1%,#ff8617 89.5%,#ff840a 90.2%,#ff8400 90.4%,#ff7700 100%)"></i>
<i style="left:770px;top:760px;width:525px;background:linear-gradient(90deg,#00ffec 0%,#00ffe6 14.7%,#00ffdd 25.5%,#00ffd1 33.5%,#00ffc1 39.4%,#19ffc1 39.6%,#24ffc1 39.8%,#33ffc0 40.2%,#3effc0 40.6%,#59ffbf 41.9%,#75ffbd 43.8%,#93ffbb 46.5%,#b4ffb7 49.9%,#d8ffb2 54.3%,#ffffab 59.4%,#ffdf8f 64.4%,#ffc273 70.5%,#ffa655 77.7%,#ff8d2f 86.3%,#ff8824 88.2%,#ff8418 89.5%,#ff820d 90.3%,#ff8100 90.7%,#ff7600 100%)"></i>
<i style="left:771px;top:762px;width:526px;background:linear-gradient(90deg,#00ffed 0%,#00ffe6 14.4%,#00ffde 25.3%,#00ffd2 33.1%,#00ffc3 39%,#12ffc2 39.2%,#20ffc2 39.4%,#30ffc2 39.7%,#3cffc2 40.1%,#58ffc1 41.4%,#77ffbf 43.5%,#95ffbd 46.2%,#b6ffb9 49.6%,#dbffb4 54.2%,#fffeae 58.9%,#ffde90 64.1%,#ffc074 70.2%,#ffa556 77.6%,#ff943f 83.1%,#ff8a2f 86.5%,#ff8523 88.4%,#ff8117 89.7%,#ff800c 90.5%,#ff7f00 90.9%,#ff7400 100%)"></i>
<i style="left:771px;top:764px;width:528px;background:linear-gradient(90deg,#00ffed 0%,#00ffe7 14.4%,#00ffdf 25.2%,#00ffd3 33%,#00ffc4 38.8%,#1cffc4 39%,#2effc4 39.4%,#3affc3 39.8%,#48ffc3 40.3%,#57ffc2 41.1%,#76ffc1 43.2%,#95ffbe 45.8%,#b4ffbb 49.1%,#d6ffb7 53%,#ffffb1 58.3%,#ffdd92 63.6%,#ffbf75 69.9%,#ffa357 77.5%,#ff882f 86.6%,#ff8324 88.4%,#ff7f19 89.8%,#ff7d0e 90.5%,#ff7d0a 90.7%,#ff7c00 90.9%,#ff7200 100%)"></i>
<i style="left:771px;top:766px;width:530px;background:linear-gradient(90deg,#00ffee 0%,#00ffe8 14.3%,#00ffe0 24.9%,#00ffd5 32.6%,#00ffc6 38.5%,#16ffc6 38.7%,#22ffc6 38.9%,#32ffc5 39.2%,#3dffc5 39.6%,#59ffc4 40.9%,#76ffc3 42.8%,#94ffc0 45.5%,#b4ffbd 48.7%,#d7ffb9 52.8%,#ffffb3 57.9%,#ffdd94 63.2%,#ffbe76 69.6%,#ffa157 77.4%,#ff8f40 83.2%,#ff852e 86.8%,#ff8023 88.7%,#ff7d18 90%,#ff7b0d 90.8%,#ff7a08 90.9%,#ff7a00 91.1%,#ff7000 100%)"></i>
<i style="left:772px;top:768px;width:531px;background:linear-gradient(90deg,#00ffee 0%,#00ffe8 14.1%,#00ffe1 24.5%,#00ffd6 32.2%,#00ffc8 38%,#0cffc7 38.2%,#1effc7 38.4%,#28ffc7 38.6%,#36ffc7 39%,#40ffc7 39.4%,#5bffc6 40.7%,#77ffc4 42.6%,#96ffc2 45.2%,#b5ffbf 48.4%,#daffbb 52.7%,#fffeb5 57.4%,#ffdc96 62.7%,#ffbc77 69.3%,#ff9f58 77.2%,#ff8d40 83.1%,#ff832f 86.8%,#ff7e24 88.7%,#ff7b19 90%,#ff7910 90.8%,#ff7700 91.3%,#ff6e00 100%)"></i>
<i style="left:772px;top:770px;width:533px;background:linear-gradient(90deg,#00ffef 0%,#00ffe9 14.1%,#00ffe1 24.6%,#00ffd7 32.3%,#00ffc9 37.9%,#19ffc9 38.1%,#24ffc9 38.3%,#33ffc9 38.6%,#3fffc8 39%,#5affc7 40.3%,#77ffc6 42.2%,#96ffc4 44.8%,#b5ffc1 48%,#deffbd 52.7%,#fffeb7 57%,#ffda97 62.5%,#ffbb78 69%,#ff9d58 77.1%,#ff8a40 83.3%,#ff802e 87.1%,#ff7b22 89.1%,#ff7816 90.4%,#ff760a 91.2%,#ff7500 91.4%,#ff6c00 100%)"></i>
<i style="left:772px;top:772px;width:536px;background:linear-gradient(90deg,#00ffef 0%,#00ffea 14%,#00ffe2 24.3%,#00ffd8 31.9%,#00ffcb 37.5%,#20ffcb 37.9%,#31ffca 38.2%,#3dffca 38.6%,#4affca 39.2%,#59ffc9 39.9%,#76ffc8 41.8%,#93ffc6 44.2%,#b3ffc3 47.4%,#d6ffc0 51.3%,#ffffba 56.3%,#ffeca9 59%,#ffda99 61.9%,#ffb979 68.7%,#ff9b59 76.9%,#ff8840 83.2%,#ff7e2e 87.1%,#ff7922 89%,#ff7518 90.3%,#ff740d 91%,#ff7308 91.2%,#ff7300 91.4%,#ff6900 100%)"></i>
<i style="left:773px;top:774px;width:537px;background:linear-gradient(90deg,#00ffef 0%,#00ffea 13.8%,#00ffe3 24%,#00ffd9 31.7%,#00ffcd 37.2%,#1cffcc 37.4%,#2effcc 37.8%,#3bffcc 38.2%,#49ffcc 38.7%,#58ffcb 39.5%,#75ffca 41.3%,#93ffc8 43.8%,#b3ffc5 46.9%,#d8ffc2 51%,#ffffbc 55.9%,#ffecab 58.5%,#ffd99b 61.5%,#ffb97b 68.2%,#ff9a5a 76.5%,#ff8640 83.2%,#ff7b2e 87.2%,#ff7622 89.2%,#ff7317 90.5%,#ff710c 91.2%,#ff7000 91.6%,#ff6700 100%)"></i>
<i style="left:773px;top:776px;width:539px;background:linear-gradient(90deg,#00fff0 0%,#00ffeb 13.5%,#00ffe4 23.7%,#00ffdb 31.4%,#00ffcf 36.9%,#15ffce 37.1%,#22ffce 37.3%,#32ffce 37.7%,#3effce 38%,#5bffcd 39.3%,#77ffcb 41.2%,#95ffca 43.6%,#b5ffc7 46.8%,#dbffc3 51%,#fffebe 55.5%,#ffebad 58.1%,#ffd99c 61%,#ffb77b 68.1%,#ff985a 76.6%,#ff8440 83.3%,#ff792e 87.4%,#ff7321 89.4%,#ff7016 90.7%,#ff6e0a 91.5%,#ff6e00 91.7%,#ff6500 100%)"></i>
<i style="left:774px;top:778px;width:540px;background:linear-gradient(90deg,#00fff0 0%,#00ffec 13.5%,#00ffe5 23.5%,#00ffdc 30.9%,#00ffd0 36.5%,#0bffd0 36.7%,#1effd0 36.9%,#28ffd0 37%,#3cffcf 37.6%,#4affcf 38.1%,#59ffcf 38.9%,#77ffcd 40.7%,#95ffcc 43.1%,#b3ffc9 46.1%,#d5ffc6 49.8%,#ffffc1 54.8%,#ffebaf 57.6%,#ffd89e 60.6%,#ffb67d 67.6%,#ff965b 76.3%,#ff8140 83.3%,#ff772e 87.4%,#ff7122 89.4%,#ff6e17 90.7%,#ff6c0d 91.5%,#ff6c08 91.7%,#ff6b00 91.9%,#ff6300 100%)"></i>
<i style="left:774px;top:780px;width:542px;background:linear-gradient(90deg,#00fff1 0%,#00ffec 13.5%,#00ffe6 23.4%,#00ffdd 30.8%,#00ffd2 36.3%,#19ffd2 36.5%,#25ffd1 36.7%,#3affd1 37.3%,#49ffd1 37.8%,#58ffd0 38.6%,#76ffcf 40.4%,#94ffce 42.8%,#b3ffcb 45.8%,#d7ffc8 49.6%,#ffffc3 54.4%,#ffe9b0 57.4%,#ffd59d 60.7%,#ffc28b 64.4%,#ffaf79 68.6%,#ff9259 76.9%,#ff7f41 83.4%,#ff742e 87.5%,#ff6f23 89.5%,#ff6c18 90.8%,#ff6a0f 91.5%,#ff690c 91.7%,#ff6900 92.1%,#ff6100 100%)"></i>
<i style="left:774px;top:782px;width:544px;background:linear-gradient(90deg,#00fff1 0%,#00ffed 13.2%,#00ffe7 23.2%,#00ffdf 30.5%,#00ffd4 36%,#20ffd3 36.4%,#31ffd3 36.8%,#3dffd3 37.1%,#4cffd2 37.7%,#5bffd2 38.4%,#75ffd1 40.1%,#94ffcf 42.5%,#b5ffcd 45.6%,#daffca 49.6%,#fffec5 54%,#ffe9b2 57%,#ffd49f 60.3%,#ffc08c 64.2%,#ffae7a 68.4%,#ff905a 76.8%,#ff7c40 83.6%,#ff722e 87.7%,#ff6c22 89.7%,#ff6918 91%,#ff6811 91.5%,#ff670a 91.9%,#ff6600 92.1%,#ff5f00 100%)"></i>
<i style="left:775px;top:784px;width:545px;background:linear-gradient(90deg,#00fff2 0%,#00ffee 13.2%,#00ffe8 23.1%,#00ffe0 30.5%,#00ffd5 35.8%,#1bffd5 36%,#2fffd5 36.3%,#3bffd5 36.7%,#4affd4 37.2%,#5affd4 38%,#77ffd3 39.8%,#96ffd1 42.2%,#b7ffcf 45.3%,#dfffcc 49.7%,#fffec7 53.6%,#ffe8b3 56.5%,#ffd3a0 60%,#ffbf8d 63.9%,#ffad7b 68.1%,#ff8f5a 76.7%,#ff7b41 83.5%,#ff6f2e 87.7%,#ff6a23 89.7%,#ff6617 91.2%,#ff650d 91.9%,#ff6409 92.1%,#ff6400 92.3%,#ff5d00 100%)"></i>
<i style="left:775px;top:786px;width:548px;background:linear-gradient(90deg,#00fff2 0%,#00ffe9 22.8%,#00ffe1 30.1%,#00ffd7 35.4%,#15ffd7 35.6%,#23ffd7 35.8%,#33ffd7 36.1%,#3fffd6 36.5%,#4dffd6 37%,#5cffd6 37.8%,#77ffd5 39.4%,#93ffd3 41.6%,#b3ffd1 44.5%,#d6ffcf 48.2%,#ffffcb 52.9%,#ffe9b6 55.8%,#ffd3a2 59.3%,#ffbf8f 63.1%,#ffac7c 67.5%,#ff8d5b 76.3%,#ff7841 83.4%,#ff6d2f 87.6%,#ff6823 89.6%,#ff6418 91.1%,#ff620c 92%,#ff6100 92.3%,#ff5a00 100%)"></i>
<i style="left:775px;top:788px;width:550px;background:linear-gradient(90deg,#00fff3 0%,#00ffea 22.5%,#00ffe2 29.8%,#00ffd9 35.1%,#09ffd9 35.3%,#1effd8 35.5%,#28ffd8 35.6%,#3dffd8 36.2%,#4bffd8 36.7%,#5bffd7 37.5%,#76ffd7 39.1%,#95ffd5 41.5%,#b5ffd3 44.4%,#d9ffd1 48.2%,#ffffcd 52.5%,#ffe3b4 56.2%,#ffca9c 60.5%,#ffb284 65.6%,#ff9a6c 71.6%,#ff7742 83.1%,#ff6a2c 88.2%,#ff6522 90%,#ff6217 91.3%,#ff600e 92%,#ff5f0a 92.2%,#ff5f02 92.4%,#ff5f00 92.5%,#ff5800 100%)"></i>
<i style="left:776px;top:790px;width:551px;background:linear-gradient(90deg,#00fff4 0%,#00ffeb 22.3%,#00ffe4 29.6%,#00ffda 34.8%,#18ffda 35%,#25ffda 35.2%,#3bffda 35.8%,#4affda 36.3%,#5affd9 37%,#75ffd8 38.7%,#95ffd7 41%,#b5ffd5 43.9%,#ddffd2 48.1%,#fffecf 52.1%,#ffe3b6 55.7%,#ffc99d 60.1%,#ffb186 65.2%,#ff9a6e 71.1%,#ff7543 83.1%,#ff672c 88.4%,#ff6221 90.2%,#ff5f17 91.5%,#ff5d0d 92.2%,#ff5c09 92.4%,#ff5c00 92.6%,#ff5600 100%)"></i>
<i style="left:776px;top:792px;width:553px;background:linear-gradient(90deg,#00fff4 0%,#00ffec 22.2%,#00ffe5 29.3%,#00ffdc 34.5%,#20ffdc 34.9%,#32ffdc 35.3%,#3effdc 35.6%,#4dffdb 36.2%,#5cffdb 36.9%,#77ffda 38.5%,#94ffd9 40.7%,#b4ffd7 43.6%,#d6ffd5 47%,#ffffd2 51.5%,#ffe2b7 55.3%,#ffc89f 59.7%,#ffb087 64.7%,#ff9970 70.7%,#ff7343 83.2%,#ff652c 88.4%,#ff5f20 90.4%,#ff5c16 91.7%,#ff5a0c 92.4%,#ff5900 92.8%,#ff5400 100%)"></i>
<i style="left:776px;top:794px;width:555px;background:linear-gradient(90deg,#00fff5 0%,#00ffec 22.2%,#00ffe6 29.2%,#00ffde 34.4%,#1bffde 34.6%,#27ffde 34.8%,#2fffde 35%,#3cffdd 35.3%,#4bffdd 35.9%,#5bffdd 36.6%,#77ffdc 38.2%,#94ffdb 40.4%,#b4ffd9 43.2%,#d8ffd7 46.8%,#ffffd4 51.2%,#ffe2b9 55%,#ffc8a1 59.3%,#ffb089 64.3%,#ff9871 70.3%,#ff7043 83.2%,#ff622d 88.5%,#ff5d21 90.5%,#ff5a17 91.7%,#ff580e 92.4%,#ff570a 92.6%,#ff5703 92.8%,#ff5700 93%,#ff5100 100%)"></i>
<i style="left:777px;top:796px;width:556px;background:linear-gradient(90deg,#00fff5 0%,#00ffee 21.8%,#00ffe8 28.8%,#00ffe0 34%,#14ffe0 34.2%,#23ffe0 34.4%,#34ffdf 34.7%,#40ffdf 35.1%,#5affdf 36.2%,#76ffde 37.8%,#94ffdd 39.9%,#b4ffdb 42.8%,#daffd9 46.6%,#fffed6 50.7%,#ffe1bb 54.5%,#ffc7a2 58.8%,#ffaf8b 63.8%,#ff9873 69.8%,#ff6f44 83.1%,#ff602d 88.5%,#ff5b22 90.5%,#ff5716 91.9%,#ff550d 92.6%,#ff5409 92.8%,#ff5400 93%,#ff4f00 100%)"></i>
<i style="left:777px;top:798px;width:558px;background:linear-gradient(90deg,#00fff6 0%,#00ffee 21.7%,#00ffe9 28.5%,#00ffe2 33.7%,#07ffe1 33.9%,#1effe1 34.1%,#29ffe1 34.2%,#3effe1 34.8%,#4cffe1 35.3%,#5cffe1 36%,#78ffe0 37.6%,#95ffdf 39.8%,#b6ffdd 42.7%,#dfffdb 46.8%,#fffed8 50.4%,#ffe1bd 54.1%,#ffc7a4 58.4%,#ffae8c 63.4%,#ff9674 69.5%,#ff6c44 83.2%,#ff5e2d 88.5%,#ff5822 90.5%,#ff5418 91.9%,#ff520c 92.8%,#ff5100 93.2%,#ff4c00 100%)"></i>
<i style="left:778px;top:800px;width:559px;background:linear-gradient(90deg,#00fff6 0%,#00ffef 21.5%,#00ffea 28.3%,#00ffe3 33.5%,#18ffe3 33.6%,#25ffe3 33.8%,#3bffe3 34.3%,#57ffe3 35.4%,#75ffe2 37%,#93ffe1 39.2%,#b2ffe0 41.9%,#d5ffde 45.3%,#ffffdb 49.7%,#ffe1c0 53.5%,#ffc7a6 57.8%,#ffae8f 62.8%,#ff9676 68.9%,#ff6a44 83.2%,#ff5b2e 88.6%,#ff5522 90.7%,#ff5117 92.1%,#ff500e 92.8%,#ff4e00 93.4%,#ff4a00 100%)"></i>
<i style="left:778px;top:802px;width:562px;background:linear-gradient(90deg,#00fff7 0%,#00fff1 21.2%,#00ffec 27.9%,#00ffe5 33.1%,#20ffe5 33.5%,#33ffe5 33.8%,#3fffe5 34.2%,#5affe4 35.2%,#77ffe4 36.8%,#95ffe3 39%,#b4ffe2 41.6%,#d9ffe0 45.2%,#ffffdd 49.3%,#ffe1c1 53%,#ffc6a8 57.3%,#ffad8f 62.5%,#ff9577 68.5%,#ff6743 83.3%,#ff582d 88.6%,#ff5221 90.7%,#ff4e16 92.2%,#ff4c0d 92.9%,#ff4c09 93.1%,#ff4c00 93.2%,#ff4700 100%)"></i>
<i style="left:778px;top:804px;width:564px;background:linear-gradient(90deg,#00fff7 0%,#00fff1 21.1%,#00ffed 27.8%,#00ffe7 33%,#1bffe7 33.2%,#27ffe7 33.3%,#30ffe7 33.5%,#3dffe7 33.9%,#59ffe6 34.9%,#76ffe6 36.5%,#94ffe5 38.7%,#b6ffe4 41.5%,#dcffe2 45.2%,#fffedf 48.9%,#ffe0c3 52.7%,#ffc6aa 56.9%,#ffac91 62.1%,#ff9479 68.1%,#ff7e61 74.8%,#ff6543 83.3%,#ff562e 88.7%,#ff5022 90.8%,#ff4c17 92.2%,#ff490c 93.1%,#ff4800 93.4%,#ff4400 100%)"></i>
<i style="left:779px;top:806px;width:565px;background:linear-gradient(90deg,#00fff8 0%,#00fff2 20.9%,#00ffe9 32.6%,#14ffe9 32.7%,#23ffe9 32.9%,#2cffe9 33.1%,#3bffe8 33.5%,#4bffe8 34%,#57ffe8 34.5%,#75ffe8 36.1%,#92ffe7 38.1%,#b2ffe6 40.7%,#d6ffe5 44.1%,#ffffe3 48.3%,#ffe1c6 52%,#ffc6ac 56.3%,#ffac93 61.4%,#ff947b 67.4%,#ff785d 75.9%,#ff6041 84.1%,#ff532e 88.7%,#ff4d23 90.8%,#ff4918 92.2%,#ff470e 93.1%,#ff4500 93.6%,#ff4100 100%)"></i>
<i style="left:779px;top:808px;width:567px;background:linear-gradient(90deg,#00fff8 0%,#00fff3 20.8%,#00ffeb 32.5%,#1effeb 32.6%,#29ffea 32.8%,#38ffea 33.2%,#49ffea 33.7%,#56ffea 34.2%,#74ffea 35.8%,#94ffe9 37.9%,#b4ffe8 40.6%,#d8ffe7 43.9%,#ffffe5 48%,#ffe0c8 51.7%,#ffc5ae 55.9%,#ffac95 61%,#ff937c 67%,#ff775f 75.5%,#ff5e42 84%,#ff512e 88.7%,#ff4b23 90.8%,#ff4618 92.4%,#ff430d 93.3%,#ff4309 93.5%,#ff4200 93.7%,#ff3e00 100%)"></i>
<i style="left:780px;top:810px;width:568px;background:linear-gradient(90deg,#00fff9 0%,#00fff4 20.6%,#00ffed 32%,#18ffec 32.2%,#25ffec 32.4%,#2effec 32.6%,#3cffec 32.9%,#4cffec 33.5%,#59ffec 34%,#77ffeb 35.6%,#96ffeb 37.7%,#b6ffea 40.3%,#dbffe9 43.8%,#fffee7 47.5%,#ffe0c9 51.2%,#ffc5af 55.5%,#ffac97 60.4%,#ff937f 66.4%,#ff7660 75%,#ff5c42 83.8%,#ff4e2f 88.7%,#ff4723 91%,#ff4317 92.6%,#ff400c 93.5%,#ff3f00 93.8%,#ff3b00 100%)"></i>
<i style="left:780px;top:812px;width:570px;background:linear-gradient(90deg,#00fffa 0%,#00fff6 20.4%,#00ffee 31.8%,#0effee 31.9%,#20ffee 32.1%,#33ffee 32.5%,#40ffee 32.8%,#5bffee 33.9%,#79ffed 35.4%,#98ffed 37.5%,#b8ffec 40.2%,#e1ffeb 44%,#fffee9 47.2%,#ffdfcb 50.9%,#ffc4b1 55.1%,#ffab99 60%,#ff9380 66%,#ff7562 74.6%,#ff5a42 83.9%,#ff4b2f 88.8%,#ff4523 91.1%,#ff4018 92.6%,#ff3d0e 93.5%,#ff3b00 94%,#ff3800 100%)"></i>
<i style="left:780px;top:814px;width:572px;background:linear-gradient(90deg,#00fffa 0%,#00fff7 20.3%,#00fff0 31.6%,#1bfff0 31.8%,#27fff0 32%,#3efff0 32.5%,#5afff0 33.6%,#75ffef 35%,#92ffef 36.9%,#b4ffee 39.5%,#d6ffee 42.7%,#ffffec 46.7%,#ffe0ce 50.3%,#ffc4b4 54.5%,#ffab9b 59.4%,#ff9282 65.4%,#ff7564 74%,#ff5742 83.9%,#ff482e 89%,#ff4123 91.3%,#ff3c17 92.8%,#ff390d 93.7%,#ff3809 93.9%,#ff3800 94.1%,#ff3500 100%)"></i>
<i style="left:781px;top:816px;width:574px;background:linear-gradient(90deg,#00fffb 0%,#00fff8 20%,#00fff2 31.2%,#13fff2 31.4%,#23fff2 31.5%,#2dfff2 31.7%,#3cfff2 32.1%,#4cfff2 32.6%,#59fff2 33.1%,#77fff1 34.7%,#94fff1 36.6%,#b6fff0 39.2%,#dafff0 42.5%,#ffffee 46.2%,#ffe0d1 49.7%,#ffc5b6 53.8%,#ffab9d 58.7%,#ff9284 64.6%,#ff7566 73.2%,#ff5543 83.6%,#ff452f 88.9%,#ff3d22 91.3%,#ff3817 92.9%,#ff350c 93.7%,#ff3400 94.1%,#ff3100 100%)"></i>
<i style="left:781px;top:818px;width:576px;background:linear-gradient(90deg,#00fffb 0%,#00fff9 20%,#00fff4 31.1%,#1efff4 31.2%,#32fff4 31.6%,#3ffff4 31.9%,#5cfff4 33%,#77fff3 34.4%,#94fff3 36.3%,#b5fff3 38.9%,#defff2 42.5%,#fffef0 45.8%,#ffe0d3 49.3%,#ffc4b8 53.5%,#ffab9f 58.3%,#ff9286 64.1%,#ff7569 72.4%,#ff5344 83.5%,#ff422f 88.9%,#ff3a23 91.3%,#ff3518 92.9%,#ff310e 93.8%,#ff3000 94.3%,#ff2d00 100%)"></i>
<i style="left:782px;top:820px;width:577px;background:linear-gradient(90deg,#00fffc 0%,#00fffa 19.6%,#00fff6 30.7%,#17fff6 30.8%,#25fff6 31%,#2ffff6 31.2%,#3dfff6 31.5%,#4dfff6 32.1%,#5afff6 32.6%,#76fff5 34%,#94fff5 35.9%,#b3fff5 38.3%,#d5fff4 41.2%,#fffff4 45.2%,#ffe1d6 48.7%,#ffc4ba 52.9%,#ffaba2 57.5%,#ff9389 63.3%,#ff756b 71.6%,#ff5044 83.5%,#ff3f2f 88.9%,#ff3723 91.3%,#ff3017 93.1%,#ff2c0d 93.9%,#ff2c09 94.1%,#ff2b00 94.3%,#ff2900 100%)"></i>
<i style="left:782px;top:822px;width:579px;background:linear-gradient(90deg,#00fffd 0%,#00fff8 30.4%,#0cfff8 30.6%,#21fff8 30.7%,#2bfff8 30.9%,#41fff8 31.4%,#5dfff8 32.5%,#78fff8 33.9%,#96fff7 35.8%,#b5fff7 38.2%,#d9fff7 41.3%,#fffff6 44.9%,#ffe0d8 48.4%,#ffc5bd 52.3%,#ffaca4 57%,#ff938b 62.7%,#ff766e 70.8%,#ff4e44 83.6%,#ff3b2f 89.1%,#ff3223 91.5%,#ff2c18 93.1%,#ff270c 94.1%,#ff2607 94.3%,#ff2600 94.5%,#ff2400 100%)"></i>
<i style="left:782px;top:824px;width:581px;background:linear-gradient(90deg,#00fffd 0%,#00fffa 30.3%,#1bfffa 30.5%,#28fffa 30.6%,#3ffffa 31.2%,#5cfffa 32.2%,#77fffa 33.6%,#95fff9 35.5%,#b5fff9 37.9%,#dbfff9 41.1%,#fffef8 44.6%,#ffe1db 47.8%,#ffc5c0 51.8%,#ffaca6 56.5%,#ff948f 61.8%,#ff7772 69.7%,#ff4b45 83.5%,#ff382f 89.2%,#ff2e23 91.6%,#ff2618 93.3%,#ff220e 94.1%,#ff1f00 94.7%,#ff1e00 100%)"></i>
<i style="left:783px;top:826px;width:582px;background:linear-gradient(90deg,#00fffe 0%,#00fffc 29.9%,#23fffc 30.2%,#2dfffc 30.4%,#3cfffc 30.8%,#4dfffc 31.3%,#5afffc 31.8%,#77fffc 33.2%,#95fffc 35.1%,#b7fffb 37.6%,#e1fffb 41.2%,#fffefa 44.2%,#ffe2de 47.3%,#ffc7c3 51%,#ffaeaa 55.5%,#ff9693 60.7%,#ff7875 68.6%,#ff4845 83.5%,#ff3430 89.2%,#ff2923 91.8%,#ff2017 93.5%,#ff1a0d 94.3%,#ff1909 94.5%,#ff1700 94.7%,#ff1600 100%)"></i>
<i style="left:783px;top:828px;width:584px;background:linear-gradient(90deg,#00fffe 0%,#00fffe 29.8%,#1efffe 30%,#2afffe 30.1%,#3afffe 30.5%,#4bfffe 31%,#59fffe 31.5%,#76fffe 32.9%,#95fffe 34.8%,#b3fffe 37%,#d6fffe 39.9%,#fffffe 43.7%,#ffe4e2 46.6%,#ffcac9 50%,#ffb2b1 54.1%,#ff9c9b 58.7%,#ff7c7b 67%,#ff4544 83.7%,#ff302f 89.4%,#ff2423 91.8%,#ff1918 93.5%,#ff0e0c 94.5%,#ff0b08 94.7%,#ff0800 94.9%,#ff0700 100%)"></i>
<i style="left:784px;top:830px;width:586px;background:linear-gradient(90deg,#00ffff 0%,#00feff 29.4%,#17feff 29.5%,#25feff 29.7%,#2ffeff 29.9%,#3efeff 30.2%,#4efeff 30.7%,#5cfeff 31.2%,#78feff 32.6%,#96feff 34.5%,#b6feff 36.9%,#dffeff 40.3%,#fffdfe 43.3%,#ffdfe0 46.6%,#ffc4c5 50.3%,#ffaaac 54.9%,#ff9294 60.2%,#ff7678 67.7%,#ff4547 82.8%,#ff2f33 88.4%,#ff2428 90.8%,#ff181f 92.5%,#ff0c17 93.5%,#ff0015 93.9%,#ff0014 100%)"></i>
<i style="left:784px;top:832px;width:588px;background:linear-gradient(90deg,#00feff 0%,#00fcff 29.1%,#0afcff 29.3%,#20fcff 29.4%,#2bfcff 29.6%,#41fcff 30.1%,#5afcff 31%,#76fcff 32.3%,#94fcff 34.2%,#b5fcff 36.6%,#ddfcff 40%,#fffafe 43.2%,#ffdcdf 46.6%,#ffbfc3 50.7%,#ffa5a9 55.4%,#ff8c8f 61.2%,#ff7175 68.5%,#ff454a 81.8%,#ff3037 87.4%,#ff242d 89.8%,#ff1825 91.5%,#ff0c20 92.5%,#ff081e 92.7%,#ff001e 92.9%,#ff001c 100%)"></i>
<i style="left:785px;top:834px;width:589px;background:linear-gradient(90deg,#00feff 0%,#00faff 28.9%,#1afaff 29%,#27faff 29.2%,#30faff 29.4%,#3ffaff 29.7%,#4ffaff 30.2%,#5cfaff 30.7%,#77faff 32.1%,#95faff 34%,#b5faff 36.3%,#dbf9ff 39.6%,#fff8fe 43%,#ffd8de 46.5%,#ffbbc1 50.8%,#ffa0a6 55.9%,#ff868c 62%,#ff6c72 69.3%,#ff434c 81.5%,#ff2f3a 86.6%,#ff2331 89%,#ff172a 90.7%,#ff0d26 91.5%,#ff0925 91.7%,#ff0024 91.9%,#ff0022 100%)"></i>
<i style="left:785px;top:836px;width:591px;background:linear-gradient(90deg,#00fdff 0%,#00f8ff 28.6%,#22f8ff 28.9%,#2df8ff 29.1%,#3cf8ff 29.4%,#4cf8ff 29.9%,#5af8ff 30.5%,#76f8ff 31.8%,#94f8ff 33.7%,#b4f7ff 36%,#d9f7ff 39.3%,#fff6fe 42.8%,#ffd5dd 46.5%,#ffb8c0 50.9%,#ff9ca4 56.2%,#ff828a 62.6%,#ff444f 80.5%,#ff2f3e 85.8%,#ff2235 88.2%,#ff172f 89.7%,#ff0d2b 90.5%,#ff092a 90.7%,#ff002a 90.9%,#ff0027 100%)"></i>
<i style="left:785px;top:838px;width:593px;background:linear-gradient(90deg,#00fcff 0%,#00faff 18.2%,#00f6ff 28.5%,#1df6ff 28.7%,#29f6ff 28.8%,#32f6ff 29%,#3ff6ff 29.3%,#5cf6ff 30.4%,#77f6ff 31.7%,#95f6ff 33.6%,#b4f5ff 35.9%,#daf5ff 39.1%,#fff3ff 42.7%,#ffd2dc 46.5%,#ffb4be 51.1%,#ff98a2 56.7%,#ff7d87 63.2%,#ff4452 79.6%,#ff2e41 85%,#ff2339 87.2%,#ff1833 88.7%,#ff0d30 89.5%,#ff0a2f 89.7%,#ff032e 89.9%,#ff002e 90.1%,#ff002b 100%)"></i>
<i style="left:786px;top:840px;width:594px;background:linear-gradient(90deg,#00fcff 0%,#00f9ff 17.8%,#00f5ff 28.1%,#15f5ff 28.3%,#24f4ff 28.5%,#2ef4ff 28.6%,#3cf4ff 29%,#4df4ff 29.5%,#5af4ff 30%,#75f4ff 31.3%,#93f4ff 33.2%,#b2f3ff 35.5%,#d6f2ff 38.6%,#fff1ff 42.4%,#ffd6e3 45.5%,#ffbecb 48.8%,#ffa8b4 52.7%,#ff929f 57.2%,#ff6d7a 66.8%,#ff4455 78.6%,#ff2f45 83.8%,#ff233d 86.2%,#ff1837 87.7%,#ff0e34 88.6%,#ff0033 89.1%,#ff002e 100%)"></i>
<i style="left:786px;top:842px;width:596px;background:linear-gradient(90deg,#00fbff 0%,#00f8ff 17.6%,#00f3ff 27.9%,#07f3ff 28%,#1ff3ff 28.2%,#2af3ff 28.4%,#40f2ff 28.9%,#5cf2ff 29.9%,#77f2ff 31.2%,#94f1ff 33.1%,#b3f1ff 35.4%,#d6f0ff 38.4%,#ffefff 42.3%,#ffd4e4 45.3%,#ffbdcb 48.7%,#ffa6b5 52.5%,#ff919f 57%,#ff6c7b 66.6%,#ff4558 77.7%,#ff3048 82.9%,#ff2340 85.2%,#ff183b 86.7%,#ff0e38 87.6%,#ff0b37 87.8%,#ff0037 88.1%,#ff0032 100%)"></i>
<i style="left:787px;top:844px;width:598px;background:linear-gradient(90deg,#00faff 0%,#00f7ff 17.6%,#00f1ff 27.6%,#19f1ff 27.8%,#26f1ff 27.9%,#2ff1ff 28.1%,#3df1ff 28.4%,#4df0ff 28.9%,#5af0ff 29.4%,#75f0ff 30.8%,#92efff 32.6%,#b3efff 35.1%,#d6eeff 38.1%,#ffecff 42%,#ffd2e4 45%,#ffbbcc 48.3%,#ffa5b5 52.2%,#ff8fa0 56.7%,#ff6a7c 66.2%,#ff445a 76.9%,#ff2f4b 81.9%,#ff2444 84.1%,#ff193f 85.6%,#ff0f3c 86.5%,#ff073b 86.8%,#ff003a 87%,#ff0034 100%)"></i>
<i style="left:787px;top:846px;width:600px;background:linear-gradient(90deg,#00faff 0%,#00f6ff 17.3%,#00efff 27.3%,#21efff 27.7%,#34efff 28%,#40efff 28.3%,#5ceeff 29.3%,#76eeff 30.7%,#93edff 32.5%,#b4edff 35%,#d6ebff 38%,#ffeaff 41.8%,#ffd0e4 44.8%,#ffb9cc 48.2%,#ffa3b6 52%,#ff8ea0 56.5%,#ff687c 66%,#ff445d 76%,#ff304e 81%,#ff2346 83.3%,#ff1742 84.8%,#ff0c3f 85.7%,#ff083e 85.8%,#ff003e 86%,#ff0037 100%)"></i>
<i style="left:788px;top:848px;width:601px;background:linear-gradient(90deg,#00f9ff 0%,#00f5ff 17.1%,#00edff 27.1%,#1bedff 27.3%,#28edff 27.5%,#30edff 27.6%,#3eedff 28%,#5aecff 29%,#77ecff 30.4%,#96ebff 32.4%,#b6eaff 34.9%,#e0e9ff 38.6%,#ffe6fe 41.8%,#ffcee4 44.6%,#ffb7cd 47.9%,#ffa1b6 51.7%,#ff8ca1 56.2%,#ff677e 65.6%,#ff445f 75.4%,#ff2f50 80.2%,#ff234a 82.4%,#ff1845 83.9%,#ff0d42 84.7%,#ff0942 84.9%,#ff0041 85%,#ff003a 100%)"></i>
<i style="left:788px;top:850px;width:603px;background:linear-gradient(90deg,#00f8ff 0%,#00f4ff 16.9%,#00ebff 26.9%,#14ebff 27%,#23ebff 27.2%,#2debff 27.4%,#3bebff 27.7%,#4bebff 28.2%,#58ebff 28.7%,#76eaff 30.2%,#95e9ff 32.2%,#b5e8ff 34.7%,#dee7ff 38.3%,#ffe4fe 41.6%,#ffcce5 44.4%,#ffb5cd 47.8%,#ffa0b7 51.6%,#ff8aa2 56.1%,#ff667e 65.3%,#ff4361 74.6%,#ff2f53 79.3%,#ff244d 81.4%,#ff1848 82.9%,#ff0d45 83.7%,#ff0945 83.9%,#ff0044 84.1%,#ff003c 100%)"></i>
<i style="left:789px;top:852px;width:604px;background:linear-gradient(90deg,#00f8ff 0%,#00f2ff 16.9%,#00e9ff 26.7%,#1ee9ff 26.8%,#31e9ff 27.2%,#3ee9ff 27.5%,#5ae9ff 28.5%,#77e8ff 30%,#96e7ff 32%,#b5e6ff 34.4%,#dce4ff 37.9%,#ffe2fe 41.4%,#ffcae5 44.2%,#ffb3ce 47.5%,#ff9eb8 51.3%,#ff89a2 55.8%,#ff6480 64.9%,#ff4464 73.7%,#ff3056 78.3%,#ff2450 80.5%,#ff184b 82%,#ff0e49 82.8%,#ff0a48 82.9%,#ff0248 83.1%,#ff0047 83.3%,#ff003e 100%)"></i>
<i style="left:789px;top:854px;width:606px;background:linear-gradient(90deg,#00f7ff 0%,#00f1ff 16.7%,#00e8ff 26.4%,#17e7ff 26.6%,#25e7ff 26.7%,#2ee7ff 26.9%,#3ce7ff 27.2%,#58e7ff 28.2%,#75e6ff 29.7%,#94e5ff 31.7%,#b4e4ff 34.2%,#dbe2ff 37.6%,#ffe0fe 41.3%,#ffc8e5 44.1%,#ffb2ce 47.4%,#ff9cb8 51.2%,#ff87a3 55.6%,#ff6381 64.5%,#ff4366 73.1%,#ff2f58 77.6%,#ff2453 79.5%,#ff194e 81%,#ff0e4c 81.8%,#ff004a 82.3%,#ff0040 100%)"></i>
<i style="left:789px;top:856px;width:608px;background:linear-gradient(90deg,#00f6ff 0%,#00f0ff 16.4%,#00e6ff 26.2%,#0ee6ff 26.3%,#20e5ff 26.5%,#32e5ff 26.8%,#3fe5ff 27.1%,#5ae5ff 28.1%,#77e4ff 29.6%,#95e3ff 31.6%,#b4e2ff 34%,#dbe0ff 37.5%,#ffddfe 41.1%,#ffc6e6 43.9%,#ffb0ce 47.2%,#ff9ab8 51%,#ff86a4 55.3%,#ff6282 64.1%,#ff4368 72.4%,#ff2f5b 76.8%,#ff2355 78.8%,#ff1751 80.3%,#ff0f4f 80.9%,#ff0b4e 81.1%,#ff004d 81.4%,#ff0042 100%)"></i>
<i style="left:790px;top:858px;width:610px;background:linear-gradient(90deg,#00f6ff 0%,#00efff 16.2%,#00e4ff 25.9%,#1ae4ff 26.1%,#26e4ff 26.2%,#3ce3ff 26.7%,#58e3ff 27.7%,#75e2ff 29.2%,#93e1ff 31.1%,#b5e0ff 33.8%,#d9deff 37%,#ffdbff 40.8%,#ffc4e6 43.6%,#ffaecf 46.9%,#ff99ba 50.5%,#ff85a5 54.8%,#ff6284 63.4%,#ff436a 71.5%,#ff2f5e 75.7%,#ff2458 77.7%,#ff1853 79.2%,#ff0c51 80%,#ff0050 80.3%,#ff0044 100%)"></i>
<i style="left:790px;top:860px;width:612px;background:linear-gradient(90deg,#00f5ff 0%,#00eeff 16.2%,#00e9ff 21.6%,#00e2ff 25.7%,#13e2ff 25.8%,#22e2ff 26%,#33e2ff 26.3%,#40e2ff 26.6%,#5ae1ff 27.6%,#76e0ff 29.1%,#94dfff 31%,#b3deff 33.5%,#d7dcff 36.8%,#ffd9ff 40.7%,#ffc2e6 43.5%,#ffadd0 46.6%,#ff99bb 50.2%,#ff84a7 54.4%,#ff6085 63.1%,#ff426c 70.8%,#ff2f60 75%,#ff235a 77%,#ff1856 78.3%,#ff0c54 79.1%,#ff0853 79.2%,#ff0053 79.4%,#ff0046 100%)"></i>
<i style="left:791px;top:862px;width:613px;background:linear-gradient(90deg,#00f4ff 0%,#00edff 16%,#00e7ff 21.4%,#00e0ff 25.4%,#1de0ff 25.6%,#30e0ff 25.9%,#3de0ff 26.3%,#58dfff 27.2%,#75deff 28.7%,#93ddff 30.7%,#b4dcff 33.3%,#d6daff 36.4%,#ffd7ff 40.5%,#ffc0e7 43.2%,#ffabd1 46.3%,#ff97bc 49.9%,#ff82a7 54.2%,#ff5f86 62.6%,#ff426f 70%,#ff2f62 74.1%,#ff235d 76%,#ff1859 77.3%,#ff0d57 78.1%,#ff0956 78.3%,#ff0056 78.5%,#ff0047 100%)"></i>
<i style="left:791px;top:864px;width:615px;background:linear-gradient(90deg,#00f4ff 0%,#00ecff 15.8%,#00e6ff 21.1%,#00dfff 25.2%,#16deff 25.4%,#24deff 25.5%,#2ddeff 25.7%,#3adeff 26%,#56ddff 27%,#76ddff 28.6%,#93dbff 30.6%,#b4daff 33.2%,#d6d8ff 36.3%,#ffd4ff 40.3%,#ffbee7 43.1%,#ffa9d1 46.2%,#ff95bc 49.8%,#ff81a8 53.8%,#ff5f88 62.1%,#ff4271 69.3%,#ff2e65 73.3%,#ff225f 75.3%,#ff175b 76.6%,#ff0d59 77.2%,#ff0959 77.4%,#ff0058 77.6%,#ff0049 100%)"></i>
<i style="left:792px;top:866px;width:616px;background:linear-gradient(90deg,#00f3ff 0%,#00ebff 15.6%,#00e5ff 20.8%,#00ddff 24.8%,#0cddff 25%,#1fdcff 25.2%,#29dcff 25.3%,#3edcff 25.8%,#4cdcff 26.3%,#5cdbff 26.9%,#77dbff 28.4%,#94d9ff 30.4%,#b4d8ff 33%,#d6d5ff 36%,#ffd2ff 40.1%,#ffbce7 42.9%,#ffa7d1 45.9%,#ff93bd 49.5%,#ff80aa 53.4%,#ff5e8a 61.5%,#ff4273 68.5%,#ff2f67 72.4%,#ff2362 74.4%,#ff175e 75.6%,#ff0a5c 76.5%,#ff005b 76.6%,#ff004b 100%)"></i>
<i style="left:792px;top:868px;width:618px;background:linear-gradient(90deg,#00f2ff 0%,#00e9ff 15.5%,#00e3ff 20.7%,#00dbff 24.8%,#19dbff 24.9%,#25dbff 25.1%,#3bdaff 25.6%,#4adaff 26.1%,#5adaff 26.7%,#76d9ff 28.2%,#93d8ff 30.1%,#b3d6ff 32.7%,#d6d3ff 35.9%,#ffcfff 40%,#ffb9e6 42.9%,#ffa5d2 45.8%,#ff91bd 49.4%,#ff7faa 53.2%,#ff5d8b 61.2%,#ff4175 67.8%,#ff2e6a 71.7%,#ff2364 73.5%,#ff1861 74.8%,#ff0f5f 75.4%,#ff005e 75.9%,#ff0054 86.7%,#ff004c 100%)"></i>
<i style="left:793px;top:870px;width:619px;background:linear-gradient(90deg,#00f1ff 0%,#00e8ff 15.2%,#00e2ff 20.4%,#00d9ff 24.4%,#21d9ff 24.7%,#32d9ff 25%,#3ed9ff 25.4%,#4cd8ff 25.8%,#5cd8ff 26.5%,#77d7ff 27.9%,#96d5ff 30%,#b5d3ff 32.6%,#ddd0ff 36.3%,#ffccfe 39.9%,#ffb8e8 42.5%,#ffa3d2 45.6%,#ff90be 48.9%,#ff7dab 52.8%,#ff5c8d 60.6%,#ff4177 67%,#ff2f6c 70.8%,#ff2367 72.5%,#ff1863 73.8%,#ff0f61 74.5%,#ff0060 75%,#ff0056 86.3%,#ff004d 100%)"></i>
<i style="left:793px;top:872px;width:621px;background:linear-gradient(90deg,#00f1ff 0%,#00e7ff 15.1%,#00e0ff 20.3%,#00d7ff 24.3%,#1cd7ff 24.5%,#2fd7ff 24.8%,#3cd7ff 25.1%,#4ad6ff 25.6%,#5ad6ff 26.2%,#75d5ff 27.7%,#94d4ff 29.8%,#b4d2ff 32.4%,#dcceff 36.1%,#ffcafe 39.8%,#ffb6e8 42.4%,#ffa2d3 45.4%,#ff8fbf 48.8%,#ff7cac 52.7%,#ff5b8e 60.2%,#ff4179 66.3%,#ff2e6e 70%,#ff2269 71.8%,#ff1866 72.9%,#ff0c64 73.8%,#ff0063 74.1%,#ff0058 85.7%,#ff004f 100%)"></i>
<i style="left:794px;top:874px;width:623px;background:linear-gradient(90deg,#00f0ff 0%,#00e6ff 14.9%,#00dfff 20.1%,#00d6ff 23.9%,#15d5ff 24.1%,#23d5ff 24.2%,#33d5ff 24.6%,#3fd5ff 24.9%,#4dd5ff 25.4%,#5cd4ff 26%,#77d3ff 27.4%,#95d2ff 29.5%,#b4cfff 32.1%,#daccff 35.6%,#ffc8fe 39.5%,#ffb4e8 42.1%,#ffa1d4 44.9%,#ff8ec0 48.3%,#ff7bae 52%,#ff5a8f 59.6%,#ff417c 65.5%,#ff2e71 69%,#ff236c 70.8%,#ff1768 72.1%,#ff0d66 72.7%,#ff0065 73%,#ff005a 85.1%,#ff0050 100%)"></i>
<i style="left:794px;top:876px;width:625px;background:linear-gradient(90deg,#00efff 0%,#00e5ff 14.7%,#00deff 19.7%,#00d4ff 23.7%,#0ad4ff 23.8%,#1ed4ff 24%,#28d4ff 24.2%,#3cd3ff 24.6%,#4bd3ff 25.1%,#5ad2ff 25.8%,#78d1ff 27.4%,#96d0ff 29.4%,#b5cdff 32%,#dacaff 35.5%,#ffc5fe 39.4%,#ffb2e9 41.9%,#ff9fd4 44.8%,#ff8cc1 48%,#ff7aaf 51.7%,#ff5a91 59%,#ff407e 64.8%,#ff2e73 68.3%,#ff226e 70.1%,#ff176a 71.2%,#ff0d69 71.8%,#ff0968 72%,#ff0068 72.2%,#ff005c 84.5%,#ff0051 100%)"></i>
<i style="left:795px;top:878px;width:626px;background:linear-gradient(90deg,#00eeff 0%,#00e4ff 14.5%,#00dcff 19.6%,#00d2ff 23.5%,#18d2ff 23.6%,#24d2ff 23.8%,#34d2ff 24.1%,#3fd1ff 24.4%,#5cd1ff 25.6%,#76cfff 27%,#94ceff 29.1%,#b5cbff 31.8%,#d9c8ff 35.1%,#ffc3ff 39.1%,#ffb1ea 41.5%,#ffa0d8 44.1%,#ff7eb6 50.2%,#ff5c95 57.8%,#ff4180 63.9%,#ff2d75 67.6%,#ff2270 69.2%,#ff186d 70.3%,#ff0e6b 70.9%,#ff096b 71.1%,#ff006a 71.2%,#ff005d 84%,#ff0052 100%)"></i>
<i style="left:795px;top:880px;width:628px;background:linear-gradient(90deg,#00eeff 0%,#00e3ff 14.5%,#00dbff 19.4%,#00d1ff 23.2%,#20d0ff 23.6%,#31d0ff 23.9%,#3dd0ff 24.2%,#4bcfff 24.7%,#5acfff 25.3%,#77ceff 26.9%,#95ccff 29%,#b4c9ff 31.5%,#d7c6ff 34.9%,#ffc1ff 39%,#ffb0ec 41.2%,#ff9fd9 43.8%,#ff7db7 49.8%,#ff5b97 57.3%,#ff4083 63.2%,#ff2e78 66.7%,#ff2172 68.5%,#ff166f 69.6%,#ff0a6d 70.2%,#ff006d 70.4%,#ff005f 83.4%,#ff0054 100%)"></i>
<i style="left:796px;top:882px;width:629px;background:linear-gradient(90deg,#00edff 0%,#00e1ff 14.3%,#00d9ff 19.2%,#00cfff 23.1%,#1bcfff 23.2%,#2eceff 23.5%,#3bceff 23.8%,#49ceff 24.3%,#58cdff 25%,#76ccff 26.6%,#94caff 28.6%,#b4c7ff 31.3%,#d7c4ff 34.7%,#ffbfff 38.8%,#ffaeec 41%,#ff9dd9 43.6%,#ff7cb8 49.4%,#ff5a99 56.8%,#ff4085 62.5%,#ff2e7a 65.8%,#ff2375 67.4%,#ff1872 68.5%,#ff0f70 69.2%,#ff0b70 69.3%,#ff036f 69.5%,#ff006f 69.6%,#ff0061 83%,#ff0055 100%)"></i>
<i style="left:796px;top:884px;width:630px;background:linear-gradient(90deg,#00ecff 0%,#00e1ff 14.1%,#00d8ff 19%,#00cdff 22.9%,#14cdff 23%,#22cdff 23.2%,#32ccff 23.5%,#3eccff 23.8%,#4bccff 24.3%,#5acbff 24.9%,#77caff 26.5%,#94c8ff 28.6%,#b5c5ff 31.3%,#d6c2ff 34.4%,#ffbcff 38.7%,#ffabec 41%,#ff9bda 43.5%,#ff7bb9 49.2%,#ff5a9b 56.2%,#ff4187 61.7%,#ff2e7d 65.1%,#ff2378 66.7%,#ff1975 67.8%,#ff0f73 68.4%,#ff0072 68.9%,#ff0062 82.5%,#ff0056 100%)"></i>
<i style="left:797px;top:886px;width:626px;background:linear-gradient(90deg,#00ebff 0%,#00dfff 14.1%,#00d7ff 18.8%,#00ccff 22.7%,#07cbff 22.8%,#1dcbff 23%,#27cbff 23.2%,#35cbff 23.5%,#40caff 23.8%,#5cc9ff 24.9%,#76c8ff 26.4%,#93c6ff 28.4%,#b3c4ff 31.2%,#d6c0ff 34.5%,#ffbaff 38.8%,#ff99da 43.6%,#ff7aba 49.2%,#ff5a9d 56.1%,#ff408a 61.5%,#ff2f7f 64.7%,#ff227a 66.5%,#ff1777 67.6%,#ff0c75 68.2%,#ff0074 68.5%,#ff0064 82.3%,#ff0058 100%)"></i>
<i style="left:797px;top:888px;width:622px;background:linear-gradient(90deg,#00ebff 0%,#00e5ff 7.9%,#00deff 14.1%,#00d5ff 19%,#00caff 22.8%,#17c9ff 23%,#23c9ff 23.2%,#33c9ff 23.5%,#3ec9ff 23.8%,#5ac8ff 24.9%,#77c6ff 26.5%,#94c4ff 28.6%,#b4c1ff 31.4%,#d6beff 34.7%,#ffb8ff 39.1%,#ff97db 43.7%,#ff79bc 49.4%,#ff589e 56.3%,#ff408c 61.4%,#ff2e81 64.6%,#ff237d 66.2%,#ff1879 67.4%,#ff0d77 68%,#ff0076 68.3%,#ff0066 82.2%,#ff0059 100%)"></i>
<i style="left:798px;top:890px;width:616px;background:linear-gradient(90deg,#00eaff 0%,#00e4ff 8%,#00ddff 14.1%,#00d4ff 19%,#00c8ff 22.7%,#1fc8ff 23.1%,#28c8ff 23.2%,#36c7ff 23.5%,#41c7ff 23.9%,#5cc6ff 25%,#78c4ff 26.6%,#96c2ff 28.9%,#b6bfff 31.7%,#debaff 35.7%,#ffb4fe 39.4%,#ff95dc 44%,#ff77bd 49.5%,#ff58a0 56.2%,#ff418e 61.2%,#ff2f84 64.4%,#ff237f 66.1%,#ff187c 67.2%,#ff0e7a 67.9%,#ff0979 68%,#ff0079 68.2%,#ff0068 82%,#ff005b 100%)"></i>
<i style="left:798px;top:892px;width:612px;background:linear-gradient(90deg,#00e9ff 0%,#00e3ff 8%,#00dcff 14.2%,#00d2ff 19.1%,#00c6ff 22.9%,#1ac6ff 23%,#25c6ff 23.2%,#34c6ff 23.5%,#3fc5ff 23.9%,#5ac4ff 25%,#76c3ff 26.6%,#95c0ff 28.9%,#b6bdff 31.9%,#dcb8ff 35.8%,#ffb2fe 39.7%,#ff93dc 44.3%,#ff76be 49.7%,#ff58a2 56.2%,#ff4091 61.1%,#ff2f87 64.2%,#ff2482 65.8%,#ff187e 67%,#ff0e7c 67.6%,#ff0a7c 67.8%,#ff007b 68%,#ff006a 81.9%,#ff005c 100%)"></i>
<i style="left:799px;top:894px;width:606px;background:linear-gradient(90deg,#00e8ff 0%,#00e2ff 7.8%,#00dbff 14%,#00d1ff 19%,#00c5ff 22.8%,#13c4ff 22.9%,#21c4ff 23.1%,#31c4ff 23.4%,#3cc4ff 23.8%,#59c3ff 24.9%,#77c1ff 26.7%,#96bfff 29%,#b5bbff 31.8%,#dbb6ff 35.8%,#ffb0fe 39.9%,#ff92dd 44.4%,#ff75bf 49.8%,#ff57a4 56.3%,#ff4093 61.1%,#ff2e89 64.2%,#ff2384 65.8%,#ff1780 67%,#ff0a7e 67.7%,#ff007e 67.8%,#ff006c 81.8%,#ff005e 100%)"></i>
<i style="left:799px;top:896px;width:601px;background:linear-gradient(90deg,#00e8ff 0%,#00e1ff 7.8%,#00daff 14%,#00d0ff 19%,#00c4ff 22.8%,#03c3ff 23%,#1cc3ff 23.1%,#26c3ff 23.3%,#34c2ff 23.6%,#3fc2ff 24%,#5ac1ff 25.1%,#76bfff 26.8%,#95bdff 29.1%,#b5b9ff 32.1%,#dab4ff 35.9%,#ffaeff 40.3%,#ff90de 44.8%,#ff74c0 50.1%,#ff56a5 56.4%,#ff2f8b 64.1%,#ff2487 65.6%,#ff1983 66.7%,#ff0f81 67.4%,#ff0b81 67.6%,#ff0280 67.7%,#ff0080 67.9%,#ff006e 81.9%,#ff0060 100%)"></i>
<i style="left:800px;top:898px;width:596px;background:linear-gradient(90deg,#00e7ff 0%,#00e0ff 7.9%,#00d8ff 14.1%,#00ceff 19%,#00c1ff 22.8%,#16c1ff 23%,#22c1ff 23.2%,#32c1ff 23.5%,#3dc0ff 23.8%,#59bfff 25%,#77bdff 26.8%,#95bbff 29.2%,#b6b7ff 32.2%,#dab2ff 36.1%,#ffabff 40.4%,#ff8fdf 44.8%,#ff73c2 50%,#ff56a8 56.2%,#ff2f8e 63.8%,#ff2389 65.4%,#ff1885 66.6%,#ff0c83 67.3%,#ff0083 67.6%,#ff0070 81.7%,#ff0061 100%)"></i>
<i style="left:800px;top:900px;width:591px;background:linear-gradient(90deg,#00e6ff 0%,#00e0ff 7.8%,#00d7ff 14%,#00cdff 19%,#00c0ff 22.8%,#0dbfff 23%,#1ebfff 23.2%,#27bfff 23.4%,#35bfff 23.7%,#40bfff 24%,#5abdff 25.2%,#76bcff 26.9%,#94b9ff 29.3%,#b4b5ff 32.3%,#d8b0ff 36.2%,#ffa9ff 40.8%,#ff8ddf 45.2%,#ff72c4 50.3%,#ff55aa 56.3%,#ff3091 63.6%,#ff248b 65.3%,#ff1888 66.5%,#ff0d86 67.2%,#ff0085 67.5%,#ff0072 81.6%,#ff0063 100%)"></i>
<i style="left:801px;top:902px;width:586px;background:linear-gradient(90deg,#00e5ff 0%,#00deff 7.8%,#00d6ff 14%,#00ccff 18.9%,#00beff 22.9%,#19beff 23%,#24beff 23.2%,#33bdff 23.5%,#3dbdff 23.9%,#59bcff 25.1%,#77baff 27%,#95b7ff 29.4%,#b5b3ff 32.4%,#d7aeff 36.2%,#ffa7ff 41%,#ff8ce1 45.2%,#ff71c5 50.3%,#ff54ab 56.3%,#ff2f93 63.5%,#ff248e 65%,#ff188a 66.2%,#ff0d88 66.9%,#ff0087 67.2%,#ff0074 81.4%,#ff0065 100%)"></i>
<i style="left:801px;top:904px;width:581px;background:linear-gradient(90deg,#00e4ff 0%,#00ddff 7.9%,#00d5ff 14.1%,#00caff 18.9%,#00bdff 22.9%,#11bcff 23.1%,#20bcff 23.2%,#30bcff 23.6%,#3bbbff 23.9%,#57baff 25.1%,#75b8ff 27%,#93b5ff 29.4%,#b3b2ff 32.5%,#d6acff 36.3%,#ffa4ff 41.3%,#ff89e1 45.6%,#ff6fc6 50.6%,#ff53ad 56.5%,#ff3095 63.3%,#ff2590 64.9%,#ff198d 66.1%,#ff0e8b 66.8%,#ff098a 67%,#ff008a 67.1%,#ff0076 81.4%,#ff0066 100%)"></i>
<i style="left:802px;top:906px;width:576px;background:linear-gradient(90deg,#00e4ff 0%,#00ddff 7.8%,#00d4ff 14.1%,#00c8ff 19.1%,#00bbff 22.9%,#1bbaff 23.1%,#25baff 23.3%,#33baff 23.6%,#3ebaff 24%,#59b8ff 25.2%,#76b6ff 27.1%,#94b3ff 29.5%,#b4b0ff 32.6%,#d6aaff 36.5%,#ffa2ff 41.5%,#ff88e2 45.7%,#ff6fc8 50.5%,#ff53b0 56.2%,#ff3098 63%,#ff2493 64.8%,#ff178f 66%,#ff0f8d 66.5%,#ff0a8d 66.7%,#ff008c 66.8%,#ff0078 81.1%,#ff0068 100%)"></i>
<i style="left:802px;top:908px;width:571px;background:linear-gradient(90deg,#00e3ff 0%,#00dcff 7.9%,#00d3ff 14%,#00c7ff 19.1%,#00b9ff 22.9%,#15b9ff 23.1%,#21b9ff 23.3%,#31b8ff 23.6%,#3cb8ff 24%,#57b7ff 25.2%,#75b5ff 27.1%,#93b2ff 29.6%,#b2aeff 32.7%,#d6a8ff 36.8%,#ff9fff 41.9%,#ff85e2 46.2%,#ff6cc8 51%,#ff52b1 56.6%,#ff2f9a 63%,#ff2295 64.8%,#ff1892 65.8%,#ff0b8f 66.5%,#ff008f 66.7%,#ff007a 81.1%,#ff0069 100%)"></i>
<i style="left:803px;top:910px;width:565px;background:linear-gradient(90deg,#00e2ff 0%,#00dbff 7.8%,#00d1ff 14%,#00c6ff 18.9%,#00b8ff 22.8%,#0bb7ff 23%,#1db7ff 23.2%,#27b7ff 23.4%,#34b7ff 23.7%,#3eb6ff 24.1%,#59b5ff 25.3%,#76b3ff 27.3%,#95b0ff 29.9%,#b6abff 33.3%,#dda4ff 37.9%,#ff9cfe 42.3%,#ff84e3 46.4%,#ff6cca 51%,#ff52b3 56.5%,#ff309d 62.8%,#ff2498 64.4%,#ff1894 65.7%,#ff0b92 66.4%,#ff0092 66.5%,#ff007c 80.9%,#ff006b 100%)"></i>
<i style="left:803px;top:912px;width:561px;background:linear-gradient(90deg,#00e1ff 0%,#00daff 7.8%,#00d0ff 14.1%,#00c4ff 19.1%,#00b6ff 23%,#18b5ff 23.2%,#23b5ff 23.4%,#32b5ff 23.7%,#3cb5ff 24.1%,#4db4ff 24.8%,#5ab3ff 25.5%,#77b1ff 27.5%,#96aeff 30.1%,#b6a9ff 33.5%,#dca2ff 38%,#ff9afe 42.6%,#ff82e4 46.5%,#ff6acc 51.2%,#ff51b5 56.5%,#ff30a0 62.6%,#ff259b 64.2%,#ff1997 65.4%,#ff1095 66%,#ff0094 66.5%,#ff007e 80.9%,#ff006d 100%)"></i>
<i style="left:804px;top:914px;width:555px;background:linear-gradient(90deg,#00e0ff 0%,#00d9ff 7.7%,#00cfff 14.1%,#00c3ff 18.9%,#00b5ff 22.9%,#1fb4ff 23.2%,#28b4ff 23.4%,#3fb3ff 24.1%,#59b1ff 25.4%,#76afff 27.4%,#95acff 30.1%,#b5a7ff 33.5%,#dba0ff 38%,#ff97fe 42.9%,#ff80e4 46.8%,#ff69cd 51.4%,#ff50b7 56.6%,#ff30a2 62.5%,#ff249d 64.1%,#ff1999 65.2%,#ff0d97 65.9%,#ff0096 66.3%,#ff0080 80.7%,#ff006e 100%)"></i>
<i style="left:804px;top:916px;width:551px;background:linear-gradient(90deg,#00dfff 0%,#00d8ff 7.8%,#00ceff 14.2%,#00c2ff 19.1%,#00b2ff 23%,#1ab2ff 23.2%,#24b2ff 23.4%,#32b2ff 23.8%,#3db1ff 24.1%,#4db0ff 24.9%,#5ab0ff 25.6%,#77adff 27.6%,#95aaff 30.3%,#b6a5ff 33.8%,#db9eff 38.3%,#ff95ff 43.2%,#ff7ee6 47%,#ff68cf 51.4%,#ff4fb9 56.4%,#ff30a5 62.3%,#ff249f 63.9%,#ff199c 65%,#ff0e9a 65.7%,#ff0099 66.1%,#ff0082 80.6%,#ff0070 100%)"></i>
<i style="left:805px;top:918px;width:545px;background:linear-gradient(90deg,#00deff 0%,#00d7ff 7.7%,#00cdff 13.9%,#00c1ff 18.9%,#00b1ff 22.9%,#14b1ff 23.1%,#20b0ff 23.3%,#30b0ff 23.7%,#3bb0ff 24%,#4bafff 24.8%,#59aeff 25.5%,#76acff 27.5%,#94a8ff 30.3%,#b4a3ff 33.8%,#d89dff 38.2%,#ff92ff 43.5%,#ff7ce6 47.3%,#ff67d0 51.6%,#ff43b3 58.7%,#ff2fa7 62.2%,#ff23a2 63.9%,#ff189e 65%,#ff0e9c 65.5%,#ff099c 65.7%,#ff009b 65.9%,#ff008f 72.7%,#ff0084 80.6%,#ff0071 100%)"></i>
<i style="left:805px;top:920px;width:541px;background:linear-gradient(90deg,#00deff 0%,#00d6ff 7.8%,#00ccff 14%,#00bfff 19%,#00b0ff 22.9%,#09afff 23.1%,#1cafff 23.3%,#26afff 23.5%,#33aeff 23.8%,#3daeff 24.2%,#4dadff 25%,#5aacff 25.7%,#77aaff 27.7%,#95a6ff 30.5%,#b5a1ff 34%,#d89aff 38.4%,#ff90ff 43.8%,#ff7be7 47.5%,#ff65d1 51.8%,#ff44b6 58.4%,#ff30aa 61.9%,#ff24a4 63.6%,#ff18a1 64.7%,#ff0f9f 65.2%,#ff0a9f 65.4%,#ff009e 65.6%,#ff0091 72.5%,#ff0086 80.4%,#ff0073 100%)"></i>
<i style="left:806px;top:922px;width:535px;background:linear-gradient(90deg,#00ddff 0%,#00d4ff 7.9%,#00caff 14%,#00bdff 19.1%,#00aeff 23%,#17adff 23.2%,#22adff 23.4%,#31adff 23.7%,#3bacff 24.1%,#4cabff 24.9%,#59abff 25.6%,#75a8ff 27.7%,#94a5ff 30.5%,#b3a0ff 34%,#d798ff 38.5%,#ff8dff 44.1%,#ff78e8 47.9%,#ff63d2 52%,#ff43b8 58.5%,#ff2fac 61.9%,#ff24a7 63.4%,#ff19a4 64.5%,#ff0ba1 65.2%,#ff00a1 65.4%,#ff0094 72.3%,#ff0088 80.2%,#ff0075 100%)"></i>
<i style="left:807px;top:924px;width:529px;background:linear-gradient(90deg,#00dcff 0%,#00d3ff 7.8%,#00c9ff 14%,#00bcff 18.9%,#00adff 22.9%,#1eacff 23.3%,#27abff 23.4%,#3eabff 24.2%,#5aa9ff 25.7%,#76a6ff 27.8%,#94a3ff 30.6%,#b49eff 34.2%,#d596ff 38.6%,#ff8bff 44.4%,#ff77e9 48%,#ff62d5 52%,#ff43bb 58.2%,#ff30af 61.6%,#ff23a9 63.3%,#ff17a6 64.5%,#ff0ca4 65%,#ff00a3 65.2%,#ff0096 72.2%,#ff008a 80.2%,#ff0076 100%)"></i>
<i style="left:807px;top:926px;width:525px;background:linear-gradient(90deg,#00dbff 0%,#00d2ff 7.8%,#00c8ff 14.1%,#00bbff 19%,#00aaff 23%,#19aaff 23.2%,#23aaff 23.4%,#31a9ff 23.8%,#3ca9ff 24.2%,#4ca8ff 25%,#59a7ff 25.7%,#75a5ff 27.8%,#93a1ff 30.7%,#b39cff 34.3%,#d694ff 38.9%,#ff88ff 44.8%,#ff74e9 48.4%,#ff61d6 52.2%,#ff43bd 58.1%,#ff30b2 61.3%,#ff25ad 62.9%,#ff1aa9 64%,#ff11a7 64.6%,#ff0ca7 64.8%,#ff03a6 65%,#ff00a6 65.1%,#ff0098 72%,#ff008c 80%,#ff0078 100%)"></i>
<i style="left:808px;top:928px;width:519px;background:linear-gradient(90deg,#00daff 0%,#00d1ff 7.7%,#00c7ff 13.9%,#00baff 18.9%,#00a9ff 22.9%,#13a9ff 23.1%,#20a8ff 23.3%,#2fa8ff 23.7%,#3ea7ff 24.3%,#5aa5ff 25.8%,#76a3ff 27.9%,#949fff 30.8%,#b39aff 34.5%,#d692ff 39.1%,#ff85ff 45.1%,#ff71e9 48.7%,#ff5fd7 52.4%,#ff43c0 58%,#ff2fb4 61.3%,#ff24af 62.8%,#ff18ab 64%,#ff0daa 64.5%,#ff00a8 64.9%,#ff009b 71.9%,#ff008e 80%,#ff007a 100%)"></i>
<i style="left:808px;top:930px;width:515px;background:linear-gradient(90deg,#00d9ff 0%,#00d0ff 7.8%,#00c5ff 14%,#00b8ff 19%,#00a8ff 22.9%,#07a7ff 23.1%,#1ba7ff 23.3%,#25a7ff 23.5%,#32a6ff 23.9%,#3ca6ff 24.3%,#4ca5ff 25%,#59a4ff 25.8%,#77a1ff 28.2%,#949dff 31.1%,#b398ff 34.8%,#d68fff 39.4%,#ff83ff 45.4%,#ff6fe9 49.1%,#ff5dd8 52.6%,#ff41c1 58.1%,#ff2fb6 61.2%,#ff23b1 62.7%,#ff18ae 63.7%,#ff0eac 64.3%,#ff00ab 64.7%,#ff009d 71.7%,#ff0090 79.6%,#ff007b 100%)"></i>
<i style="left:809px;top:932px;width:509px;background:linear-gradient(90deg,#00d8ff 0%,#00cfff 7.7%,#00c4ff 13.9%,#00b6ff 19.1%,#00a6ff 23%,#16a5ff 23.2%,#21a5ff 23.4%,#30a5ff 23.8%,#3aa4ff 24.2%,#4aa3ff 25%,#58a2ff 25.7%,#769fff 28.1%,#959bff 31.2%,#b595ff 35.2%,#db8cff 40.5%,#ff7ffe 46%,#ff5cda 52.7%,#ff42c5 57.8%,#ff2fb9 60.9%,#ff23b4 62.5%,#ff19b1 63.5%,#ff0faf 64%,#ff00ae 64.4%,#ff009f 71.5%,#ff0092 79.6%,#ff007d 100%)"></i>
<i style="left:810px;top:934px;width:504px;background:linear-gradient(90deg,#00d7ff 0%,#00ceff 7.7%,#00c3ff 13.9%,#00b5ff 18.8%,#00a5ff 22.8%,#1da3ff 23.2%,#26a3ff 23.4%,#33a3ff 23.8%,#3da2ff 24.2%,#59a0ff 25.8%,#779dff 28.2%,#9599ff 31.3%,#b693ff 35.3%,#da8aff 40.5%,#ff7cfe 46.2%,#ff5adb 52.8%,#ff41c7 57.7%,#ff2ebc 60.7%,#ff22b7 62.3%,#ff16b3 63.3%,#ff0ab1 63.9%,#ff00b1 64.1%,#ff00a2 71%,#ff0094 79.4%,#ff007e 100%)"></i>
<i style="left:810px;top:936px;width:499px;background:linear-gradient(90deg,#00d6ff 0%,#00cdff 7.8%,#00c2ff 14%,#00b4ff 19%,#00a2ff 23%,#18a2ff 23.2%,#23a2ff 23.4%,#30a1ff 23.8%,#3ba1ff 24.2%,#4ba0ff 25.1%,#589fff 25.9%,#769cff 28.3%,#9497ff 31.5%,#b491ff 35.5%,#d988ff 40.7%,#ff7aff 46.7%,#ff58dd 53.1%,#ff3fc8 57.9%,#ff2ebe 60.7%,#ff22ba 62.1%,#ff17b6 63.1%,#ff0bb4 63.7%,#ff00b4 63.9%,#ff00a4 70.9%,#ff0097 79.2%,#ff008b 88.8%,#ff0080 100%)"></i>
<i style="left:811px;top:938px;width:493px;background:linear-gradient(90deg,#00d5ff 0%,#00ccff 7.7%,#00c1ff 13.8%,#00b3ff 18.9%,#00a1ff 22.9%,#12a0ff 23.1%,#1fa0ff 23.3%,#2ea0ff 23.7%,#3d9fff 24.3%,#599dff 26%,#769aff 28.4%,#9595ff 31.6%,#b58fff 35.7%,#d985ff 41%,#ff77ff 47.1%,#ff57df 53.1%,#ff40cc 57.6%,#ff2ec1 60.4%,#ff23bd 61.9%,#ff18b9 62.9%,#ff0cb7 63.5%,#ff00b7 63.7%,#ff00a7 70.8%,#ff0099 79.1%,#ff008d 88.8%,#ff0082 100%)"></i>
<i style="left:811px;top:940px;width:489px;background:linear-gradient(90deg,#00d4ff 0%,#00cbff 7.8%,#00bfff 13.9%,#00b1ff 18.8%,#00a0ff 22.9%,#049fff 23.1%,#1a9fff 23.3%,#249eff 23.5%,#319eff 23.9%,#409dff 24.5%,#5a9bff 26.2%,#7798ff 28.6%,#9693ff 31.9%,#b58dff 36%,#d883ff 41.1%,#ff74ff 47.4%,#ff55e0 53.4%,#ff3ece 57.7%,#ff2dc4 60.3%,#ff23c0 61.6%,#ff18bc 62.6%,#ff0dba 63.2%,#ff01ba 63.4%,#ff00b9 63.6%,#ff00a9 70.6%,#ff009b 78.9%,#ff008e 88.8%,#ff0083 100%)"></i>
<i style="left:812px;top:942px;width:483px;background:linear-gradient(90deg,#00d3ff 0%,#00caff 7.7%,#00beff 13.9%,#00b0ff 18.8%,#009eff 23%,#159dff 23.2%,#209dff 23.4%,#2f9cff 23.8%,#3e9cff 24.4%,#599aff 26.1%,#7696ff 28.6%,#9492ff 31.9%,#b48bff 36%,#d781ff 41.2%,#ff71ff 47.8%,#ff54e2 53.4%,#ff3fd1 57.3%,#ff2ec7 60%,#ff24c3 61.3%,#ff19bf 62.3%,#ff0ebd 62.9%,#ff05bd 63.1%,#ff00bc 63.4%,#ff00ac 70.4%,#ff009d 78.9%,#ff0090 88.6%,#ff0085 100%)"></i>
<i style="left:813px;top:944px;width:478px;background:linear-gradient(90deg,#00d2ff 0%,#00c9ff 7.5%,#00bdff 13.8%,#00aeff 18.8%,#009dff 22.8%,#0c9cff 23%,#1c9bff 23.2%,#259bff 23.4%,#329bff 23.8%,#409aff 24.5%,#5b98ff 26.2%,#7794ff 28.7%,#9590ff 32%,#b489ff 36.2%,#de7cff 42.7%,#ff6eff 48.1%,#ff52e3 53.6%,#ff3dd3 57.3%,#ff2dca 59.8%,#ff20c5 61.3%,#ff16c2 62.1%,#ff0fc0 62.6%,#ff00bf 63%,#ff00ae 70.1%,#ff009f 78.7%,#ff0092 88.5%,#ff0086 100%)"></i>
<i style="left:813px;top:946px;width:473px;background:linear-gradient(90deg,#00d1ff 0%,#00c8ff 7.6%,#00bbff 14%,#00acff 19%,#009aff 23%,#179aff 23.3%,#229aff 23.5%,#3099ff 23.9%,#3e98ff 24.5%,#5996ff 26.2%,#7693ff 28.8%,#948eff 32.1%,#b387ff 36.4%,#dd7aff 42.9%,#ff6bff 48.6%,#ff4fe4 53.9%,#ff3bd5 57.5%,#ff2ccc 59.8%,#ff21c8 61.1%,#ff17c5 61.9%,#ff0fc4 62.4%,#ff00c2 62.8%,#ff00b1 70%,#ff00a2 78.4%,#ff0094 88.4%,#ff0088 100%)"></i>
<i style="left:814px;top:948px;width:467px;background:linear-gradient(90deg,#00d0ff 0%,#00c6ff 7.7%,#00baff 13.9%,#00abff 18.8%,#0099ff 22.9%,#1198ff 23.1%,#1e98ff 23.3%,#2d98ff 23.8%,#3c97ff 24.4%,#4b96ff 25.3%,#5b94ff 26.3%,#7791ff 28.9%,#948cff 32.3%,#b385ff 36.6%,#dd77ff 43.3%,#ff68ff 49%,#ff42dd 56.1%,#ff2bcf 59.7%,#ff18c8 61.7%,#ff10c7 62.1%,#ff0ac6 62.3%,#ff00c5 62.5%,#ff00b4 69.6%,#ff00a4 78.2%,#ff0096 88.2%,#ff008a 100%)"></i>
<i style="left:815px;top:950px;width:462px;background:linear-gradient(90deg,#00cfff 0%,#00c5ff 7.6%,#00b8ff 13.9%,#00aaff 18.8%,#0097ff 22.9%,#1997ff 23.2%,#2a96ff 23.6%,#3a95ff 24.2%,#4a94ff 25.1%,#5993ff 26.2%,#768fff 28.8%,#938aff 32.3%,#b283ff 36.6%,#dd75ff 43.5%,#ff65ff 49.4%,#ff41df 56.1%,#ff2ad2 59.5%,#ff20ce 60.6%,#ff15cb 61.5%,#ff0bc9 61.9%,#ff00c9 62.1%,#ff00b6 69.3%,#ff00a6 77.9%,#ff0098 88.1%,#ff008c 100%)"></i>
<i style="left:815px;top:952px;width:457px;background:linear-gradient(90deg,#00ceff 0%,#00c4ff 7.7%,#00b8ff 13.8%,#00a9ff 18.8%,#0096ff 23%,#1495ff 23.2%,#1f95ff 23.4%,#2e94ff 23.9%,#3d93ff 24.5%,#4c92ff 25.4%,#5b91ff 26.5%,#778dff 29.1%,#9488ff 32.6%,#b480ff 37.2%,#df71ff 44.2%,#fe61ff 49.9%,#ff40e2 56%,#ff2ad5 59.3%,#ff21d1 60.4%,#ff16ce 61.3%,#ff0ccd 61.7%,#ff00cc 61.9%,#ff00b9 69.1%,#ff00a8 77.9%,#ff009a 88%,#ff008d 100%)"></i>
<i style="left:816px;top:954px;width:452px;background:linear-gradient(90deg,#00cdff 0%,#00c3ff 7.5%,#00b6ff 13.7%,#00a7ff 18.8%,#0095ff 22.8%,#0b93ff 23%,#1b93ff 23.2%,#2493ff 23.5%,#3192ff 23.9%,#3f92ff 24.6%,#4d90ff 25.4%,#5c8fff 26.5%,#778bff 29.2%,#9685ff 33%,#b67dff 37.6%,#e06eff 44.7%,#ff5dfe 50.4%,#ff3ee4 56%,#ff29d8 59.1%,#ff16d1 60.8%,#ff0dd0 61.3%,#ff00cf 61.5%,#ff00bc 68.8%,#ff00ab 77.7%,#ff009c 87.8%,#ff008f 100%)"></i>
<i style="left:817px;top:956px;width:446px;background:linear-gradient(90deg,#00ccff 0%,#00c1ff 7.6%,#00b5ff 13.7%,#00a5ff 18.8%,#0092ff 22.9%,#1692ff 23.1%,#2191ff 23.3%,#2f91ff 23.8%,#3d90ff 24.4%,#4c8fff 25.3%,#5b8dff 26.5%,#768aff 29.1%,#9584ff 33%,#b57bff 37.7%,#e06bff 45.1%,#ff59ff 50.9%,#ff3de6 56.1%,#ff28db 59%,#ff17d5 60.5%,#ff0ed3 61%,#ff05d3 61.2%,#ff00d2 61.4%,#ff00be 68.8%,#ff00ad 77.6%,#ff009e 87.9%,#ff0091 100%)"></i>
<i style="left:817px;top:958px;width:442px;background:linear-gradient(90deg,#00cbff 0%,#00c0ff 7.7%,#00b3ff 13.8%,#00a4ff 18.8%,#0091ff 22.9%,#1d90ff 23.3%,#2690ff 23.5%,#328fff 24%,#3f8eff 24.7%,#5c8bff 26.7%,#7788ff 29.4%,#9682ff 33.3%,#b579ff 38%,#e068ff 45.5%,#ff56ff 51.4%,#ff3ae8 56.1%,#ff27de 58.8%,#ff1eda 59.7%,#ff14d8 60.4%,#ff0fd7 60.6%,#ff00d5 61.1%,#ff00c1 68.6%,#ff00af 77.4%,#ff00a0 87.8%,#ff0092 100%)"></i>
<i style="left:818px;top:960px;width:436px;background:linear-gradient(90deg,#00caff 0%,#00bfff 7.6%,#00b2ff 13.8%,#00a2ff 18.8%,#008fff 22.9%,#198eff 23.2%,#228eff 23.4%,#2f8dff 23.9%,#3e8dff 24.5%,#4c8bff 25.5%,#5b8aff 26.6%,#7686ff 29.4%,#9580ff 33.3%,#b477ff 38.1%,#e065ff 45.9%,#ff52ff 51.8%,#ff38eb 56.2%,#ff25e0 58.7%,#ff15db 60.1%,#ff10da 60.3%,#ff00d9 60.8%,#ff00c4 68.1%,#ff00b2 77.1%,#ff00a2 87.6%,#ff0094 100%)"></i>
<i style="left:819px;top:962px;width:430px;background:linear-gradient(90deg,#00c9ff 0%,#00beff 7.4%,#00b1ff 13.7%,#00a0ff 18.8%,#008eff 22.8%,#138dff 23%,#1f8dff 23.3%,#2d8cff 23.7%,#3c8bff 24.4%,#4b8aff 25.3%,#5988ff 26.5%,#7584ff 29.3%,#947eff 33.3%,#b375ff 38.1%,#df63ff 46%,#ff4eff 52.3%,#ff36ed 56.3%,#ff24e3 58.6%,#ff15df 59.8%,#ff0add 60.2%,#ff00dc 60.5%,#ff00c7 67.9%,#ff00b5 76.7%,#ff00a4 87.4%,#ff0096 100%)"></i>
<i style="left:819px;top:964px;width:426px;background:linear-gradient(90deg,#00c8ff 0%,#00bdff 7.5%,#00b0ff 13.6%,#009fff 18.8%,#008dff 22.8%,#098bff 23%,#1b8bff 23.2%,#248bff 23.5%,#308aff 23.9%,#3e89ff 24.6%,#5b86ff 26.8%,#7682ff 29.6%,#947cff 33.6%,#b373ff 38.5%,#e05fff 46.7%,#ff4aff 52.8%,#ff34ef 56.3%,#ff22e6 58.5%,#ff12e2 59.6%,#ff0be1 59.9%,#ff00e0 60.1%,#ff00ca 67.6%,#ff00b7 76.5%,#ff00a6 87.3%,#ff0098 100%)"></i>
<i style="left:820px;top:966px;width:420px;background:linear-gradient(90deg,#00c7ff 0%,#00bbff 7.6%,#00aeff 13.8%,#009dff 18.8%,#008aff 22.9%,#1589ff 23.1%,#2089ff 23.3%,#2e89ff 23.8%,#3c88ff 24.5%,#4b86ff 25.5%,#5985ff 26.7%,#7581ff 29.5%,#937aff 33.6%,#b271ff 38.6%,#e05cff 47.1%,#ff45ff 53.3%,#ff31f1 56.4%,#ff20e9 58.3%,#ff13e6 59.3%,#ff0de5 59.5%,#ff00e4 59.8%,#ff00cd 67.4%,#ff00b9 76.4%,#ff00a9 87.1%,#ff009a 100%)"></i>
<i style="left:821px;top:968px;width:415px;background:linear-gradient(90deg,#00c5ff 0%,#00baff 7.5%,#00adff 13.5%,#009dff 18.6%,#0089ff 22.7%,#1c88ff 23.1%,#2587ff 23.4%,#3187ff 23.9%,#3e86ff 24.6%,#5b83ff 26.7%,#767eff 29.6%,#a074ff 35.7%,#cf62ff 44.1%,#ea52ff 49.4%,#ff40ff 53.7%,#ff2ef3 56.4%,#ff1eec 58.1%,#ff18ea 58.6%,#ff0ee9 59%,#ff00e8 59.3%,#ff00d1 66.7%,#ff00bc 75.9%,#ff00ab 87%,#ff009b 100%)"></i>
<i style="left:821px;top:970px;width:410px;background:linear-gradient(90deg,#00c4ff 0%,#00b9ff 7.6%,#00abff 13.9%,#009aff 19%,#0086ff 22.9%,#1886ff 23.2%,#2286ff 23.4%,#2f85ff 23.9%,#3d84ff 24.6%,#4b83ff 25.6%,#5981ff 26.8%,#747dff 29.8%,#9f72ff 35.9%,#cf5fff 44.6%,#eb4dff 50.2%,#ff3bff 54.4%,#ff2df7 56.3%,#ff1ff0 57.8%,#ff14ee 58.5%,#ff0fed 58.8%,#ff03ec 59%,#ff00eb 59.3%,#ff00d3 66.8%,#ff00be 76.1%,#ff00ad 87.1%,#ff009d 100%)"></i>
<i style="left:822px;top:972px;width:405px;background:linear-gradient(90deg,#00c3ff 0%,#00b8ff 7.4%,#00aaff 13.6%,#0099ff 18.8%,#0085ff 22.7%,#1284ff 23%,#1e84ff 23.2%,#2c83ff 23.7%,#3b83ff 24.4%,#4981ff 25.4%,#587fff 26.7%,#757bff 29.9%,#8b76ff 32.8%,#a170ff 36.3%,#d15bff 45.2%,#ec48ff 50.9%,#fe35ff 54.8%,#ff29f9 56.3%,#ff1cf4 57.5%,#ff10f1 58.3%,#ff00ef 58.8%,#ff00d6 66.4%,#ff00c1 75.6%,#ff00af 86.7%,#ff009f 100%)"></i>
<i style="left:823px;top:974px;width:399px;background:linear-gradient(90deg,#00c2ff 0%,#00b6ff 7.5%,#00a8ff 13.5%,#0098ff 18.5%,#0084ff 22.6%,#0783ff 22.8%,#1a83ff 23.1%,#2382ff 23.3%,#2f82ff 23.8%,#3d81ff 24.6%,#597dff 26.8%,#7679ff 30.1%,#8c74ff 33.1%,#a36dff 36.8%,#d357ff 46.1%,#ed43ff 51.6%,#fe2eff 55.4%,#ff1af7 57.4%,#ff11f5 57.9%,#ff00f3 58.4%,#ff00d9 66.2%,#ff00c4 75.4%,#ff00b1 86.7%,#ff00a1 100%)"></i>
<i style="left:824px;top:976px;width:393px;background:linear-gradient(90deg,#00c1ff 0%,#00b5ff 7.4%,#00a7ff 13.5%,#0096ff 18.6%,#0082ff 22.6%,#1581ff 22.9%,#1f81ff 23.2%,#2d80ff 23.7%,#3b7fff 24.4%,#4a7eff 25.4%,#587cff 26.7%,#7577ff 30%,#8c71ff 33.3%,#a36aff 37.2%,#d652ff 47.1%,#f03cff 52.7%,#f930ff 54.7%,#ff24ff 56.2%,#ff1bfb 57%,#ff12f9 57.5%,#ff0af8 57.8%,#ff00f7 58%,#ff00dd 65.6%,#ff00c7 75.1%,#ff00b3 86.5%,#ff00a3 100%)"></i>
<i style="left:824px;top:978px;width:389px;background:linear-gradient(90deg,#00c0ff 0%,#00b4ff 7.5%,#00a5ff 13.6%,#0095ff 18.5%,#0081ff 22.6%,#1c7fff 23.1%,#247fff 23.4%,#307eff 23.9%,#3e7dff 24.7%,#597aff 27%,#7675ff 30.3%,#8d6fff 33.7%,#a567ff 37.8%,#c25aff 43.4%,#da4bff 48.3%,#e83fff 51.4%,#f233ff 53.7%,#fa26ff 55.5%,#ff18ff 56.8%,#ff0cfd 57.3%,#ff00fb 57.6%,#ff00e1 65.3%,#ff00ca 74.8%,#ff00b6 86.4%,#ff00a5 100%)"></i>
<i style="left:825px;top:980px;width:383px;background:linear-gradient(90deg,#00beff 0%,#00b2ff 7.3%,#00a4ff 13.6%,#0093ff 18.5%,#007eff 22.7%,#177eff 23%,#217dff 23.2%,#2e7cff 23.8%,#3c7bff 24.5%,#4a7aff 25.6%,#5878ff 26.9%,#7573ff 30.3%,#8d6dff 33.9%,#a764ff 38.4%,#c953ff 45.2%,#e141ff 50.4%,#ed33ff 53.3%,#f624ff 55.4%,#fa1cff 56.1%,#fc13ff 56.7%,#fd0dff 56.9%,#fe00ff 57.2%,#ff00ff 57.4%,#ff00e3 65.3%,#ff00cc 74.7%,#ff00b8 86.2%,#ff00a7 100%)"></i>
<i style="left:826px;top:982px;width:378px;background:linear-gradient(90deg,#00bdff 0%,#00b1ff 7.4%,#00a2ff 13.5%,#0091ff 18.5%,#007dff 22.5%,#117cff 22.8%,#1d7cff 23%,#257bff 23.3%,#317bff 23.8%,#3e79ff 24.6%,#5976ff 27%,#7671ff 30.4%,#8e6aff 34.1%,#a662ff 38.4%,#c552ff 44.7%,#dc41ff 49.7%,#e834ff 52.4%,#ef28ff 54.2%,#f41fff 55.3%,#f714ff 56.1%,#f80eff 56.3%,#fa00ff 56.6%,#ff00ff 57.9%,#ff00e4 65.6%,#ff00cd 75.1%,#ff00b9 86.5%,#ff00a8 100%)"></i>
<i style="left:826px;top:984px;width:373px;background:linear-gradient(90deg,#00bcff 0%,#00b0ff 7.2%,#00a1ff 13.4%,#0090ff 18.5%,#007cff 22.5%,#047aff 22.8%,#197aff 23.1%,#227aff 23.3%,#2f79ff 23.9%,#3c78ff 24.7%,#5874ff 27.1%,#776eff 30.8%,#8d68ff 34.3%,#a360ff 38.3%,#c052ff 44.2%,#d642ff 49.1%,#e433ff 52.3%,#ee22ff 54.7%,#f219ff 55.5%,#f40fff 56%,#f500ff 56.3%,#ff00ff 58.7%,#ff00e5 66.5%,#ff00cf 75.6%,#ff00bb 86.9%,#ff00aa 100%)"></i>
<i style="left:827px;top:986px;width:368px;background:linear-gradient(90deg,#00baff 0%,#00aeff 7.3%,#009fff 13.6%,#008eff 18.5%,#0079ff 22.6%,#1478ff 22.8%,#1f78ff 23.1%,#2c77ff 23.6%,#3a76ff 24.5%,#4975ff 25.5%,#5773ff 26.9%,#756dff 30.7%,#8a67ff 34%,#a15fff 38%,#bd51ff 43.8%,#d242ff 48.4%,#e033ff 51.6%,#e924ff 53.8%,#ee15ff 55.2%,#ef10ff 55.4%,#f106ff 55.7%,#f200ff 56%,#ff00ff 59.2%,#ff00e6 66.8%,#ff00d0 76.1%,#ff00bd 87%,#ff00ac 100%)"></i>
<i style="left:828px;top:988px;width:362px;background:linear-gradient(90deg,#00b9ff 0%,#00adff 7.2%,#009eff 13.3%,#008dff 18.2%,#0078ff 22.4%,#1b76ff 22.9%,#2376ff 23.2%,#2f75ff 23.8%,#3d74ff 24.6%,#5870ff 27.1%,#766aff 30.9%,#9f5dff 37.8%,#b850ff 43.1%,#cc42ff 47.5%,#da34ff 50.8%,#e424ff 53.3%,#ea16ff 54.7%,#eb11ff 55%,#ed00ff 55.5%,#ff00ff 59.9%,#ff00e6 67.7%,#ff00d1 76.8%,#ff00be 87.6%,#ff00ae 100%)"></i>
<i style="left:829px;top:990px;width:356px;background:linear-gradient(90deg,#00b8ff 0%,#00abff 7.3%,#009cff 13.5%,#008aff 18.5%,#0075ff 22.5%,#1675ff 22.8%,#2074ff 23%,#2d74ff 23.6%,#3b72ff 24.4%,#4971ff 25.6%,#576fff 27%,#7568ff 30.9%,#9260ff 35.7%,#af52ff 41.6%,#c246ff 45.8%,#d139ff 49.2%,#db2cff 51.7%,#e220ff 53.4%,#e611ff 54.5%,#e900ff 55.1%,#ff00ff 60.7%,#ff00e7 68.5%,#ff00d3 77.2%,#ff00c1 87.6%,#ff00b1 100%)"></i>
<i style="left:830px;top:992px;width:351px;background:linear-gradient(90deg,#00b6ff 0%,#00a9ff 7.4%,#009aff 13.4%,#0089ff 18.2%,#0074ff 22.2%,#1073ff 22.5%,#1c73ff 22.8%,#2472ff 23.1%,#3072ff 23.6%,#3d70ff 24.5%,#586dff 27.1%,#7666ff 31.1%,#915dff 35.6%,#ad50ff 41.3%,#bf45ff 45.3%,#cd38ff 48.7%,#d82bff 51.3%,#df1dff 53%,#e212ff 53.8%,#e30bff 54.1%,#e400ff 54.4%,#ff00ff 61.3%,#ff00e7 69.2%,#ff00d4 77.8%,#ff00c2 88%,#ff00b2 100%)"></i>
<i style="left:830px;top:994px;width:346px;background:linear-gradient(90deg,#00b5ff 0%,#00a8ff 7.5%,#0098ff 13.6%,#0087ff 18.5%,#0072ff 22.5%,#1871ff 22.8%,#2171ff 23.1%,#2e70ff 23.7%,#3b6fff 24.6%,#576bff 27.2%,#7564ff 31.2%,#905bff 35.8%,#ab4fff 41.3%,#bd43ff 45.4%,#ca37ff 48.6%,#d32bff 50.9%,#da1dff 52.6%,#de12ff 53.5%,#df0cff 53.8%,#e000ff 54%,#fe00ff 62.1%,#ff00e8 69.9%,#ff00d5 78.3%,#ff00c4 88.4%,#ff00b5 100%)"></i>
<i style="left:831px;top:996px;width:341px;background:linear-gradient(90deg,#00b3ff 0%,#00a6ff 7.3%,#0097ff 13.2%,#0086ff 18.2%,#0070ff 22.3%,#136fff 22.6%,#1e6fff 22.9%,#2c6eff 23.5%,#3d6cff 24.6%,#5869ff 27.3%,#7662ff 31.4%,#8f59ff 35.8%,#a84dff 41.1%,#b942ff 44.9%,#c735ff 48.1%,#d029ff 50.4%,#d61eff 51.9%,#d817ff 52.5%,#da0dff 53.1%,#db00ff 53.4%,#fe00ff 62.8%,#ff00e8 70.7%,#ff00d6 78.9%,#ff00c6 88.6%,#ff00b7 100%)"></i>
<i style="left:832px;top:998px;width:335px;background:linear-gradient(90deg,#00b2ff 0%,#00a5ff 7.2%,#0096ff 13.1%,#0084ff 18.2%,#006fff 22.1%,#0b6eff 22.4%,#1a6dff 22.7%,#236dff 23%,#2f6cff 23.6%,#3c6bff 24.5%,#4969ff 25.7%,#5a66ff 27.5%,#775fff 31.6%,#8e57ff 35.8%,#a84aff 41.2%,#c334ff 47.8%,#cd27ff 50.1%,#d21bff 51.6%,#d60eff 52.5%,#d700ff 52.8%,#fe00ff 63.6%,#ff00e9 71.3%,#ff00d8 79.4%,#ff00c7 89%,#ff00b9 100%)"></i>
<i style="left:833px;top:1000px;width:329px;background:linear-gradient(90deg,#00b0ff 0%,#00a3ff 7.3%,#0093ff 13.4%,#0081ff 18.2%,#006cff 22.2%,#156cff 22.5%,#1f6bff 22.8%,#2c6aff 23.4%,#3e69ff 24.6%,#5864ff 27.4%,#765dff 31.6%,#8d55ff 35.9%,#a449ff 40.7%,#bf34ff 47.1%,#c827ff 49.5%,#ce1bff 51.1%,#d10fff 52%,#d305ff 52.3%,#d400ff 52.6%,#ff00ff 64.7%,#ff00eb 71.7%,#ff00d9 79.9%,#ff00c9 89.4%,#ff00bb 100%)"></i>
<i style="left:833px;top:1002px;width:325px;background:linear-gradient(90deg,#00afff 0%,#00a2ff 7.1%,#0092ff 13.2%,#0080ff 18.2%,#006bff 22.2%,#1c69ff 22.8%,#2469ff 23.1%,#2f68ff 23.7%,#3c67ff 24.6%,#4a65ff 25.8%,#5a62ff 27.7%,#765bff 32%,#8c52ff 36%,#a247ff 40.6%,#bb32ff 46.8%,#c427ff 48.9%,#c91bff 50.5%,#cd10ff 51.4%,#cf00ff 52%,#e800ff 58.5%,#ff00ff 65.5%,#ff00eb 72.6%,#ff00da 80.6%,#ff00cb 89.5%,#ff00bd 100%)"></i>
<i style="left:834px;top:1004px;width:319px;background:linear-gradient(90deg,#00adff 0%,#00a0ff 7.2%,#0090ff 13.5%,#007dff 18.5%,#0068ff 22.3%,#1768ff 22.6%,#2167ff 22.9%,#2d66ff 23.5%,#3a65ff 24.5%,#4863ff 25.7%,#5860ff 27.6%,#7558ff 32%,#9f45ff 40.4%,#b831ff 46.4%,#bf27ff 48.3%,#c51cff 49.8%,#c810ff 50.8%,#cb00ff 51.4%,#e500ff 58.3%,#ff00ff 66.5%,#ff00ec 73.4%,#ff00dc 81.2%,#ff00cd 90%,#ff00bf 100%)"></i>
<i style="left:835px;top:1006px;width:314px;background:linear-gradient(90deg,#00acff 0%,#009fff 7%,#008fff 13.1%,#007cff 18.2%,#0067ff 22%,#1266ff 22.3%,#1d66ff 22.6%,#2b65ff 23.2%,#3564ff 23.9%,#4a61ff 25.8%,#605cff 28.7%,#7456ff 31.8%,#884eff 35.7%,#a141ff 41.1%,#b232ff 45.2%,#ba27ff 47.5%,#c01cff 49%,#c411ff 50%,#c50aff 50.3%,#c600ff 50.6%,#e300ff 58.3%,#ff00ff 67.2%,#ff00ed 73.9%,#ff00dd 81.5%,#ff00cf 90.1%,#ff00c2 100%)"></i>
<i style="left:836px;top:1008px;width:308px;background:linear-gradient(90deg,#00aaff 0%,#009cff 7.1%,#008dff 13%,#007bff 17.9%,#0066ff 21.8%,#0964ff 22.1%,#1964ff 22.4%,#2263ff 22.7%,#3362ff 23.7%,#485fff 25.6%,#5f5aff 28.6%,#7255ff 31.5%,#864dff 35.4%,#9d3fff 40.6%,#ae31ff 44.8%,#b725ff 47.1%,#bd19ff 48.7%,#bf12ff 49.4%,#c10bff 49.7%,#c200ff 50%,#e100ff 58.4%,#ff00ff 68.2%,#ff00ee 75%,#ff00de 82.5%,#ff00c4 100%)"></i>
<i style="left:837px;top:1010px;width:303px;background:linear-gradient(90deg,#00a8ff 0%,#009aff 7.3%,#008aff 13.2%,#0079ff 17.8%,#0063ff 21.8%,#1462ff 22.1%,#1f62ff 22.4%,#3160ff 23.4%,#475dff 25.4%,#5c59ff 28.1%,#6f53ff 31%,#824cff 34.7%,#9a3eff 39.9%,#aa31ff 43.9%,#b225ff 46.2%,#b91aff 47.9%,#bc0cff 48.8%,#bd00ff 49.2%,#df00ff 58.4%,#ff00ff 69%,#ff00e0 82.8%,#ff00c6 100%)"></i>
<i style="left:837px;top:1012px;width:298px;background:linear-gradient(90deg,#00a7ff 0%,#0099ff 7%,#0089ff 13.1%,#0078ff 17.8%,#0062ff 21.8%,#1b60ff 22.5%,#2f5eff 23.5%,#465bff 25.5%,#5b57ff 28.2%,#6e51ff 31.2%,#7f4aff 34.6%,#963dff 39.6%,#a62fff 43.6%,#ae25ff 45.6%,#b41aff 47.3%,#b80dff 48.3%,#b900ff 48.7%,#dc00ff 58.4%,#ff00ff 70.1%,#ff00e1 83.9%,#ff00c9 100%)"></i>
<i style="left:838px;top:1014px;width:292px;background:linear-gradient(90deg,#00a5ff 0%,#0097ff 7.2%,#0087ff 13%,#0074ff 18.2%,#005fff 21.9%,#175eff 22.3%,#205dff 22.6%,#2c5cff 23.3%,#4459ff 25.3%,#5a54ff 28.1%,#7d48ff 34.2%,#943bff 39.4%,#a32eff 43.2%,#aa24ff 45.2%,#af1aff 46.6%,#b30eff 47.6%,#b403ff 47.9%,#b600ff 48.3%,#dc00ff 59.2%,#ff00ff 71.6%,#ff00e3 84.2%,#ff00cb 100%)"></i>
<i style="left:839px;top:1016px;width:287px;background:linear-gradient(90deg,#00a4ff 0%,#0096ff 7%,#0085ff 12.9%,#0073ff 17.8%,#005dff 21.6%,#115cff 22%,#1c5bff 22.3%,#2f5aff 23.3%,#4357ff 25.1%,#5952ff 27.9%,#6a4dff 30.7%,#7c46ff 34.1%,#9139ff 39%,#9f2cff 42.5%,#a722ff 44.6%,#ac17ff 46%,#ae0fff 46.7%,#b100ff 47.4%,#d900ff 58.9%,#ff00ff 72.5%,#ff00e4 85%,#ff00cd 100%)"></i>
<i style="left:840px;top:1018px;width:281px;background:linear-gradient(90deg,#00a2ff 0%,#0093ff 7.1%,#0083ff 12.8%,#0072ff 17.4%,#005cff 21.4%,#075aff 21.7%,#195aff 22.1%,#2159ff 22.4%,#2d58ff 23.1%,#4155ff 24.9%,#5551ff 27.4%,#674bff 30.2%,#7745ff 33.5%,#8c39ff 38.1%,#9a2cff 41.6%,#a222ff 43.8%,#a718ff 45.2%,#aa10ff 45.9%,#ac00ff 46.6%,#d600ff 58.7%,#ff00ff 73.7%,#ff00e6 85.8%,#ff00d0 100%)"></i>
<i style="left:841px;top:1020px;width:276px;background:linear-gradient(90deg,#00a0ff 0%,#0092ff 6.9%,#0081ff 12.7%,#006fff 17.4%,#0059ff 21.4%,#1458ff 21.7%,#1e57ff 22.1%,#2b56ff 22.8%,#4053ff 24.6%,#544fff 27.2%,#7543ff 33%,#8837ff 37.3%,#962bff 40.9%,#9d22ff 42.8%,#a218ff 44.2%,#a510ff 44.9%,#a800ff 45.7%,#be00ff 51.8%,#d400ff 58.7%,#ff00ff 74.6%,#ff00e7 86.2%,#ff00d2 100%)"></i>
<i style="left:842px;top:1022px;width:270px;background:linear-gradient(90deg,#009eff 0%,#008fff 7%,#007fff 12.6%,#006dff 17.4%,#0058ff 21.1%,#1a55ff 21.9%,#2254ff 22.2%,#2e53ff 23%,#4150ff 24.8%,#534cff 27%,#7241ff 32.6%,#8635ff 37%,#9329ff 40.4%,#9a20ff 42.2%,#9f15ff 43.7%,#a20bff 44.4%,#a300ff 44.8%,#ba00ff 51.1%,#d200ff 58.5%,#ff00ff 75.9%,#ff00e9 87%,#ff00d5 100%)"></i>
<i style="left:842px;top:1024px;width:266px;background:linear-gradient(90deg,#009cff 0%,#008eff 7.1%,#007dff 12.8%,#006aff 17.7%,#0054ff 21.4%,#1653ff 21.8%,#2652ff 22.6%,#394fff 24.1%,#4f4bff 26.7%,#6f3fff 32.3%,#8234ff 36.5%,#8f28ff 39.8%,#961eff 41.7%,#9a15ff 42.9%,#9d0cff 43.6%,#9e00ff 44%,#b700ff 50.8%,#cf00ff 58.3%,#e700ff 67.3%,#ff00ff 77.1%,#ff00ea 87.6%,#ff00d7 100%)"></i>
<i style="left:843px;top:1026px;width:260px;background:linear-gradient(90deg,#009aff 0%,#008cff 6.9%,#007bff 12.7%,#0069ff 17.3%,#0053ff 21.2%,#1051ff 21.5%,#1c50ff 21.9%,#294fff 22.7%,#3b4dff 24.2%,#4d48ff 26.5%,#6c3dff 31.9%,#7f31ff 36.2%,#8b26ff 39.2%,#9516ff 41.9%,#980dff 42.7%,#9900ff 43.1%,#b300ff 50%,#cd00ff 58.5%,#e600ff 67.7%,#ff00ff 78.5%,#ff00ec 88.5%,#ff00da 100%)"></i>
<i style="left:844px;top:1028px;width:254px;background:linear-gradient(90deg,#0098ff 0%,#008aff 6.7%,#0079ff 12.6%,#0066ff 17.3%,#0052ff 20.9%,#044fff 21.3%,#184eff 21.7%,#274dff 22.4%,#394aff 24%,#4c46ff 26.4%,#693bff 31.5%,#8626ff 38.2%,#8d1cff 40.2%,#9112ff 41.3%,#930dff 41.7%,#9400ff 42.1%,#b000ff 49.6%,#ca00ff 58.3%,#e500ff 68.5%,#ff00ff 79.9%,#ff00ed 89.8%,#ff00dd 100%)"></i>
<i style="left:845px;top:1030px;width:249px;background:linear-gradient(90deg,#0096ff 0%,#0087ff 6.8%,#0077ff 12.4%,#0063ff 17.3%,#004eff 20.9%,#134cff 21.3%,#1d4bff 21.7%,#244bff 22.1%,#3848ff 23.7%,#4844ff 25.7%,#643aff 30.5%,#772fff 34.5%,#8224ff 37.3%,#881cff 39%,#8c13ff 40.2%,#8e0eff 40.6%,#8f05ff 41%,#9100ff 41.4%,#ad00ff 49%,#c800ff 58.2%,#e400ff 69.1%,#ff00ff 81.1%,#ff00ee 90.4%,#ff00e0 100%)"></i>
<i style="left:846px;top:1032px;width:243px;background:linear-gradient(90deg,#0094ff 0%,#0086ff 6.6%,#0075ff 12.3%,#0062ff 16.9%,#004cff 20.6%,#1a49ff 21.4%,#2848ff 22.2%,#3646ff 23.5%,#4742ff 25.5%,#6138ff 30%,#722eff 33.7%,#7e23ff 36.6%,#8713ff 39.1%,#880fff 39.5%,#8c00ff 40.3%,#a800ff 48.1%,#c600ff 58%,#e200ff 69.5%,#ff00ff 82.7%,#ff00e3 100%)"></i>
<i style="left:847px;top:1034px;width:238px;background:linear-gradient(90deg,#0092ff 0%,#0083ff 6.7%,#0071ff 12.6%,#005dff 17.2%,#0048ff 20.6%,#1547ff 21%,#2545ff 21.8%,#3443ff 23.1%,#4240ff 24.8%,#5c37ff 29%,#7823ff 35.3%,#8214ff 37.8%,#830fff 38.2%,#8600ff 39.1%,#a400ff 47.1%,#c100ff 56.7%,#de00ff 68.5%,#fa00ff 81.9%,#ff00ff 84.5%,#ff00e5 100%)"></i>
<i style="left:848px;top:1036px;width:232px;background:linear-gradient(90deg,#008fff 0%,#0080ff 6.9%,#006fff 12.5%,#005cff 16.8%,#0047ff 20.3%,#0f44ff 20.7%,#1b44ff 21.1%,#2343ff 21.6%,#3241ff 22.8%,#413dff 24.6%,#5b33ff 28.9%,#7421ff 34.5%,#7a17ff 36.2%,#7e10ff 37.1%,#7f0aff 37.5%,#8100ff 37.9%,#9c00ff 45.3%,#b800ff 54.3%,#d300ff 65.1%,#ee00ff 77.2%,#ff00ff 86.2%,#ff00e9 100%)"></i>
<i style="left:849px;top:1038px;width:227px;background:linear-gradient(90deg,#008dff 0%,#007eff 6.6%,#006cff 12.3%,#0059ff 16.7%,#0042ff 20.3%,#1741ff 20.7%,#2040ff 21.1%,#303eff 22.5%,#403aff 24.2%,#5831ff 28.2%,#6f1fff 33.5%,#7811ff 35.7%,#790bff 36.1%,#7b00ff 36.6%,#9600ff 43.6%,#b000ff 52%,#ca00ff 62.1%,#e400ff 73.6%,#ff00ff 87.7%,#ff00eb 100%)"></i>
<i style="left:850px;top:1040px;width:221px;background:linear-gradient(90deg,#008aff 0%,#007bff 6.8%,#006aff 12.2%,#0056ff 16.7%,#0041ff 19.9%,#123fff 20.4%,#1d3eff 20.8%,#2a3cff 21.7%,#3b38ff 23.5%,#5230ff 27.1%,#6b1dff 32.6%,#7211ff 34.4%,#740cff 34.8%,#7500ff 35.3%,#8e00ff 41.6%,#a800ff 49.8%,#c000ff 58.8%,#d900ff 69.7%,#ff00ff 89.6%,#ff00ef 100%)"></i>
<i style="left:851px;top:1042px;width:215px;background:linear-gradient(90deg,#0088ff 0%,#0079ff 6.5%,#0067ff 12.1%,#0055ff 16.3%,#003fff 19.5%,#0a3cff 20%,#193bff 20.5%,#213aff 20.9%,#2c38ff 21.9%,#3935ff 23.3%,#4e2dff 26.5%,#641dff 31.2%,#6c12ff 33%,#6d0dff 33.5%,#6f00ff 34%,#8800ff 40%,#a000ff 47.4%,#b800ff 56.3%,#ce00ff 66%,#e700ff 78.1%,#ff00ff 91.6%,#ff00f2 100%)"></i>
<i style="left:852px;top:1044px;width:210px;background:linear-gradient(90deg,#0085ff 0%,#0075ff 6.7%,#0064ff 11.9%,#0051ff 16.2%,#003aff 19.5%,#1438ff 20%,#1e37ff 20.5%,#2a35ff 21.4%,#3732ff 22.9%,#4a2bff 25.7%,#5f1bff 30%,#6512ff 31.4%,#670dff 31.9%,#6904ff 32.4%,#6b00ff 32.9%,#8200ff 38.6%,#9a00ff 45.7%,#b000ff 53.8%,#c700ff 63.3%,#e300ff 77.1%,#ff00ff 93.3%,#ff00f5 100%)"></i>
<i style="left:853px;top:1046px;width:204px;background:linear-gradient(90deg,#0083ff 0%,#0073ff 6.4%,#0062ff 11.8%,#004dff 16.2%,#0039ff 19.1%,#1a34ff 20.1%,#2832ff 21.1%,#362fff 22.5%,#4927ff 25.5%,#5a19ff 28.9%,#600eff 30.4%,#6400ff 31.4%,#7b00ff 36.8%,#9100ff 43.1%,#a700ff 51%,#bd00ff 59.8%,#d800ff 73%,#f400ff 88.7%,#ff00ff 95.6%,#ff00f8 100%)"></i>
<i style="left:854px;top:1048px;width:199px;background:linear-gradient(90deg,#0080ff 0%,#0070ff 6.5%,#005dff 12.1%,#0049ff 16.1%,#0032ff 19.1%,#1631ff 19.6%,#262fff 20.6%,#302cff 21.6%,#4225ff 24.1%,#5219ff 27.1%,#590fff 28.6%,#5d00ff 29.6%,#7400ff 34.7%,#8900ff 40.7%,#9f00ff 48.2%,#b400ff 56.8%,#cc00ff 67.8%,#e400ff 80.9%,#ff00ff 97.5%,#ff00fb 100%)"></i>
<i style="left:855px;top:1050px;width:193px;background:linear-gradient(90deg,#007dff 0%,#006cff 6.7%,#005aff 11.9%,#0045ff 16.1%,#0031ff 18.7%,#112dff 19.2%,#1c2cff 19.7%,#2e28ff 21.2%,#3d22ff 23.3%,#4c17ff 25.9%,#510fff 26.9%,#5309ff 27.5%,#5600ff 28%,#6c00ff 32.6%,#8100ff 38.3%,#9600ff 45.6%,#ab00ff 53.9%,#d600ff 74.6%,#ff00ff 100%)"></i>
<i style="left:856px;top:1052px;width:187px;background:linear-gradient(90deg,#007aff 0%,#0069ff 6.4%,#0059ff 11.2%,#0044ff 15.5%,#002fff 18.2%,#0929ff 18.7%,#1828ff 19.3%,#2027ff 19.8%,#2c24ff 20.9%,#381eff 22.5%,#4514ff 24.6%,#4b0aff 25.7%,#4d00ff 26.2%,#6300ff 30.5%,#7900ff 36.4%,#9000ff 43.9%,#a600ff 52.4%,#d000ff 73.3%,#fb00ff 100%)"></i>
<i style="left:857px;top:1054px;width:182px;background:linear-gradient(90deg,#0077ff 0%,#0065ff 6.6%,#0053ff 11.5%,#003fff 15.4%,#0032ff 17%,#0027ff 18.1%,#1424ff 18.7%,#2420ff 19.8%,#331aff 21.4%,#3e10ff 23.1%,#410bff 23.6%,#4400ff 24.2%,#5c00ff 28.6%,#7200ff 34.1%,#8900ff 41.2%,#9f00ff 50%,#b600ff 60.4%,#cc00ff 72%,#f800ff 100%)"></i>
<i style="left:858px;top:1056px;width:176px;background:linear-gradient(90deg,#0073ff 0%,#0063ff 6.2%,#0050ff 11.4%,#003aff 15.3%,#0031ff 16.5%,#0025ff 17.6%,#0d1eff 18.2%,#1a1cff 18.8%,#211aff 19.3%,#350cff 21.6%,#3900ff 22.2%,#5100ff 26.1%,#6a00ff 31.8%,#8200ff 39.2%,#9900ff 47.7%,#b000ff 58.5%,#c700ff 70.5%,#f400ff 100%)"></i>
<i style="left:859px;top:1058px;width:171px;background:linear-gradient(90deg,#0070ff 0%,#005eff 6.4%,#0049ff 11.7%,#0034ff 15.2%,#0029ff 16.4%,#0019ff 17.5%,#1615ff 18.1%,#250dff 19.3%,#2a02ff 19.9%,#3000ff 20.5%,#4900ff 24%,#6100ff 29.2%,#7a00ff 36.3%,#9300ff 45.6%,#aa00ff 56.1%,#c200ff 69%,#da00ff 83.6%,#f100ff 100%)"></i>
<i style="left:860px;top:1060px;width:165px;background:linear-gradient(90deg,#006cff 0%,#0057ff 7.3%,#004bff 10.3%,#003fff 12.7%,#002dff 15.2%,#0020ff 16.4%,#0015ff 17%,#1005ff 17.6%,#1d00ff 18.2%,#2c00ff 19.4%,#3b00ff 21.2%,#5500ff 26.1%,#6e00ff 32.7%,#8800ff 41.8%,#a200ff 53.3%,#bb00ff 66.7%,#d500ff 82.4%,#ed00ff 100%)"></i>
<i style="left:861px;top:1062px;width:160px;background:linear-gradient(90deg,#0069ff 0%,#0052ff 7.5%,#0047ff 10%,#003aff 12.5%,#0025ff 15%,#001dff 15.6%,#0010ff 16.2%,#1500ff 16.9%,#2000ff 17.5%,#2700ff 18.1%,#3300ff 19.4%,#4000ff 21.2%,#4d00ff 23.8%,#6800ff 30.6%,#8200ff 39.4%,#9d00ff 51.2%,#b700ff 65%,#d000ff 81.2%,#ea00ff 100%)"></i>
<i style="left:863px;top:1064px;width:153px;background:linear-gradient(90deg,#0063ff 0%,#004eff 6.5%,#0038ff 11.1%,#002fff 12.4%,#0023ff 13.7%,#001aff 14.4%,#0008ff 15%,#1800ff 15.7%,#2900ff 17%,#3400ff 18.3%,#4100ff 20.3%,#4e00ff 22.9%,#6900ff 30.1%,#8200ff 39.2%,#9c00ff 51%,#b400ff 64.7%,#cd00ff 81%,#e600ff 100%)"></i>
<i style="left:864px;top:1066px;width:147px;background:linear-gradient(90deg,#005eff 0%,#004bff 6.1%,#003eff 8.8%,#0032ff 10.9%,#0028ff 12.2%,#0016ff 13.6%,#0c00ff 14.3%,#1b00ff 15%,#2b00ff 16.3%,#3a00ff 18.4%,#4500ff 20.4%,#6000ff 27.2%,#7b00ff 36.7%,#9600ff 49%,#b000ff 63.3%,#c900ff 80.3%,#e200ff 100%)"></i>
<i style="left:865px;top:1068px;width:142px;background:linear-gradient(90deg,#005aff 0%,#0047ff 5.6%,#0031ff 9.9%,#0026ff 11.3%,#001eff 12%,#0012ff 12.7%,#1200ff 13.4%,#1e00ff 14.1%,#2c00ff 15.5%,#3b00ff 17.6%,#4900ff 20.4%,#6300ff 27.5%,#7b00ff 36.6%,#9500ff 48.6%,#ae00ff 63.4%,#c700ff 80.3%,#df00ff 100%)"></i>
<i style="left:866px;top:1070px;width:136px;background:linear-gradient(90deg,#0055ff 0%,#0043ff 5.1%,#002fff 8.8%,#0024ff 10.3%,#001bff 11%,#000cff 11.8%,#1600ff 12.5%,#2800ff 14%,#3300ff 15.4%,#4900ff 19.9%,#6300ff 27.2%,#7b00ff 36.8%,#9300ff 48.5%,#ac00ff 63.2%,#c300ff 80.1%,#db00ff 100%)"></i>
<i style="left:868px;top:1072px;width:130px;background:linear-gradient(90deg,#004dff 0%,#003bff 4.6%,#0028ff 7.7%,#0018ff 9.2%,#0800ff 10%,#1a00ff 10.8%,#2300ff 11.5%,#3400ff 13.8%,#4000ff 16.2%,#5a00ff 23.1%,#7300ff 32.3%,#8c00ff 44.6%,#a600ff 60%,#bf00ff 78.5%,#d800ff 100%)"></i>
<i style="left:869px;top:1074px;width:124px;background:linear-gradient(90deg,#0046ff 0%,#0035ff 4%,#0026ff 6.5%,#001fff 7.3%,#0014ff 8.1%,#1000ff 8.9%,#1c00ff 9.7%,#2b00ff 11.3%,#3900ff 13.7%,#4400ff 16.1%,#5d00ff 23.4%,#7500ff 33.1%,#8d00ff 46%,#a500ff 61.3%,#bd00ff 79%,#d400ff 100%)"></i>
<i style="left:871px;top:1076px;width:118px;background:linear-gradient(90deg,#003cff 0%,#0030ff 2.5%,#0024ff 4.2%,#001cff 5.1%,#000fff 5.9%,#1400ff 6.8%,#1f00ff 7.6%,#2c00ff 9.3%,#3a00ff 11.9%,#4500ff 14.4%,#5d00ff 22%,#7500ff 32.2%,#8c00ff 44.9%,#a400ff 61%,#ba00ff 78.8%,#d100ff 100%)"></i>
<i style="left:872px;top:1078px;width:112px;background:linear-gradient(90deg,#0033ff 0%,#0022ff 2.7%,#0019ff 3.6%,#0007ff 4.5%,#1800ff 5.4%,#2100ff 6.2%,#2e00ff 8%,#4200ff 12.5%,#5900ff 19.6%,#6e00ff 28.6%,#8600ff 42%,#9e00ff 58%,#b600ff 77.7%,#cd00ff 100%)"></i>
<i style="left:874px;top:1080px;width:105px;background:linear-gradient(90deg,#0020ff 0%,#0016ff 1%,#0c00ff 1.9%,#1b00ff 2.9%,#2300ff 3.8%,#2f00ff 5.7%,#3c00ff 8.6%,#5400ff 16.2%,#6a00ff 25.7%,#8200ff 39%,#9a00ff 56.2%,#b100ff 76.2%,#c900ff 100%)"></i>
<i style="left:875px;top:1082px;width:100px;background:linear-gradient(90deg,#1200ff 0%,#1d00ff 1%,#2b00ff 3%,#4000ff 8%,#5700ff 16%,#6e00ff 27%,#8500ff 41%,#9b00ff 58%,#b100ff 78%,#c600ff 100%)"></i>
<i style="left:877px;top:1084px;width:93px;background:linear-gradient(90deg,#2d00ff 0%,#4100ff 5.4%,#5300ff 11.8%,#6700ff 21.5%,#7800ff 32.3%,#9d00ff 61.3%,#c200ff 100%)"></i>
<i style="left:879px;top:1086px;width:87px;background:linear-gradient(90deg,#3b00ff 0%,#4b00ff 5.7%,#5c00ff 13.8%,#6e00ff 24.1%,#7f00ff 35.6%,#9f00ff 64.4%,#bf00ff 100%)"></i>
<i style="left:881px;top:1088px;width:80px;background:linear-gradient(90deg,#4600ff 0%,#5300ff 6.2%,#6300ff 15%,#8100ff 37.5%,#9e00ff 65%,#bb00ff 100%)"></i>
<i style="left:883px;top:1090px;width:73px;background:linear-gradient(90deg,#4f00ff 0%,#6900ff 16.4%,#8300ff 38.4%,#9c00ff 65.8%,#b700ff 100%)"></i>
<i style="left:885px;top:1092px;width:67px;background:linear-gradient(90deg,#5700ff 0%,#6f00ff 17.9%,#8600ff 40.3%,#9c00ff 67.2%,#b300ff 100%)"></i>
<i style="left:887px;top:1094px;width:60px;background:linear-gradient(90deg,#5e00ff 0%,#7200ff 18.3%,#8700ff 41.7%,#9b00ff 68.3%,#af00ff 100%)"></i>
<i style="left:890px;top:1096px;width:53px;background:linear-gradient(90deg,#6600ff 0%,#7800ff 20.8%,#8a00ff 43.4%,#ac00ff 100%)"></i>
<i style="left:892px;top:1098px;width:46px;background:linear-gradient(90deg,#6b00ff 0%,#8900ff 43.5%,#a700ff 100%)"></i>
<i style="left:895px;top:1100px;width:39px;background:linear-gradient(90deg,#7200ff 0%,#8c00ff 46.2%,#a400ff 100%)"></i>
<i style="left:897px;top:1102px;width:32px;background:linear-gradient(90deg,#7700ff 0%,#8c00ff 46.9%,#a000ff 100%)"></i>
<i style="left:899px;top:1104px;width:25px;background:linear-gradient(90deg,#7c00ff 0%,#9b00ff 100%)"></i>
<i style="left:902px;top:1106px;width:18px;background:linear-gradient(90deg,#8100ff 0%,#9700ff 100%)"></i>
<i style="left:904px;top:1108px;width:11px;background:linear-gradient(90deg,#8500ff 0%,#9300ff 100%)"></i>
</div>
<svg width="1500" height="1440" viewBox="0 0 1500 1440">
<text x="1" y="62.3" font-size="82.5" font-weight="bold" class="ar" textLength="42" lengthAdjust="spacingAndGlyphs">a</text>
<text x="635.8" y="62.3" font-size="81" font-weight="bold" class="ar" textLength="50.5" lengthAdjust="spacingAndGlyphs">b</text>
<clipPath id="fa"><rect x="78" y="112" width="507.6" height="1235"/></clipPath>
<g clip-path="url(#fa)" fill="none" stroke-width="4.6" stroke-linecap="round" stroke-linejoin="round">
<path d="M158.1,410.2 158.6,410.1 159.1,410.0 159.6,409.9 160.1,409.8 160.6,409.7 161.1,409.6 161.6,409.5 162.1,409.4 162.6,409.3 163.1,409.2 163.6,409.1 164.1,409.0 164.6,408.8 165.1,408.7 165.6,408.6 166.1,408.5 166.6,408.3 167.1,408.2 167.6,408.0 168.1,407.9 168.6,407.7 169.1,407.6 169.6,407.4 170.1,407.2 170.6,407.1 171.1,406.9 171.6,406.7 172.1,406.5 172.6,406.3 173.1,406.1 173.6,405.9 174.1,405.7 174.6,405.5 175.1,405.2 175.6,405.0 176.1,404.7 176.6,404.5 177.1,404.2 177.6,403.9 178.1,403.6 178.6,403.3 179.1,403.0 179.6,402.7 180.1,402.3 180.6,402.0 181.1,401.6 181.6,401.2 182.1,400.8 182.6,400.4 183.1,399.9 183.6,399.5 184.1,399.0 184.6,398.5 185.1,398.0 185.6,397.4 186.1,396.8 186.6,396.2 187.1,395.6 187.6,394.9 188.1,394.3 188.6,393.5 189.1,392.8 189.6,391.9 190.1,391.1 190.6,390.2 191.1,389.3 191.6,388.3 192.1,387.2 192.6,386.1 193.1,384.9 193.6,383.7 194.1,382.4 194.6,381.0 195.1,379.5 195.6,377.9 196.1,376.3 196.6,374.5 197.1,372.6 197.6,370.6 198.1,368.5 198.6,366.2 199.1,363.8 199.6,361.2 200.1,358.5 200.6,355.6 201.1,352.4 201.6,349.1 202.1,345.5 202.6,341.7 203.1,337.6 203.6,333.3 204.1,328.6 204.6,323.7 205.1,318.4 205.6,312.8 206.1,306.9 206.6,300.6 207.1,294.0 207.6,287.1 208.1,279.8 208.6,272.3 209.1,264.6 209.6,256.6 210.1,248.6 210.6,240.5 211.1,232.5 211.6,224.7 212.1,217.3 212.6,210.4 213.1,204.1 213.6,198.6 214.1,194.0 214.6,190.4 215.1,187.8 215.6,186.2 216.1,185.6 216.6,185.9 217.1,187.0 217.6,189.2 218.1,192.5 218.6,196.8 219.1,202.1 219.6,208.1 220.1,214.9 220.6,222.2 221.1,230.0 221.6,237.9 222.1,246.1 222.6,254.2 223.1,262.2 223.6,270.1 224.1,277.8 224.6,285.1 225.1,292.2 225.6,298.9 226.1,305.3 226.6,311.4 227.1,317.1 227.6,322.4 228.1,327.5 228.6,332.2 229.1,336.6 229.6,340.7 230.1,344.6 230.6,348.3 231.1,351.6 231.6,354.8 232.1,357.8 232.6,360.6 233.1,363.2 233.6,365.6 234.1,367.9 234.6,370.0 235.1,372.0 235.6,373.9 236.1,375.7 236.6,377.4 237.1,378.9 237.6,380.4 238.1,381.8 238.6,383.1 239.1,384.4 239.6,385.5 240.1,386.6 240.6,387.7 241.1,388.7 241.6,389.6 242.1,390.5 242.6,391.3 243.1,392.1 243.6,392.9 244.1,393.6 244.6,394.3 245.1,394.9 245.6,395.6 246.1,396.2 246.6,396.7 247.1,397.3 247.6,397.8 248.1,398.3 248.6,398.7 249.1,399.2 249.6,399.6 250.1,400.0 250.6,400.4 251.1,400.8 251.6,401.1 252.1,401.5 252.6,401.8 253.1,402.1 253.6,402.4 254.1,402.7 254.6,403.0 255.1,403.2 255.6,403.5 256.1,403.7 256.6,404.0 257.1,404.2 257.6,404.4 258.1,404.6 258.6,404.8 259.1,405.0 259.6,405.2 260.1,405.4 260.6,405.5 261.1,405.7 261.6,405.9 262.1,406.0 262.6,406.2 263.1,406.3 263.6,406.5 264.1,406.6 264.6,406.7 265.1,406.8 265.6,407.0 266.1,407.1 266.6,407.2 267.1,407.3 267.6,407.4 268.1,407.5 268.6,407.6 269.1,407.7 269.6,407.8 270.1,407.9 270.6,407.9 271.1,408.0 271.6,408.1 272.1,408.2 272.6,408.2 273.1,408.3 273.6,408.4 274.1,408.4 274.6,408.5 275.1,408.6 275.6,408.6 276.1,408.7 276.6,408.7 277.1,408.8 277.6,408.8 278.1,408.9 278.6,408.9 279.1,409.0 279.6,409.0 280.1,409.0 280.6,409.1 281.1,409.1 281.6,409.1 282.1,409.2 282.6,409.2 283.1,409.2 283.6,409.3 284.1,409.3 284.6,409.3 285.1,409.3 285.6,409.3 286.1,409.4 286.6,409.4 287.1,409.4 287.6,409.4 288.1,409.4 288.6,409.4 289.1,409.4 289.6,409.5 290.1,409.5 290.6,409.5 291.1,409.5 291.6,409.5 292.1,409.5 292.6,409.5 293.1,409.5 293.6,409.5 294.1,409.5 294.6,409.5 295.1,409.5 295.6,409.5 296.1,409.5 296.6,409.5 297.1,409.5 297.6,409.5 298.1,409.4 298.6,409.4 299.1,409.4 299.6,409.4 300.1,409.4 300.6,409.4 301.1,409.4 301.6,409.3 302.1,409.3 302.6,409.3 303.1,409.3 303.6,409.3 304.1,409.2 304.6,409.2 305.1,409.2 305.6,409.2 306.1,409.1 306.6,409.1 307.1,409.1 307.6,409.0 308.1,409.0 308.6,409.0 309.1,408.9 309.6,408.9 310.1,408.8 310.6,408.8 311.1,408.8 311.6,408.7 312.1,408.7 312.6,408.6 313.1,408.6 313.6,408.5 314.1,408.5 314.6,408.4 315.1,408.4 315.6,408.3 316.1,408.3 316.6,408.2 317.1,408.2 317.6,408.1 318.1,408.0 318.6,408.0 319.1,407.9 319.6,407.8 320.1,407.8 320.6,407.7 321.1,407.6 321.6,407.5 322.1,407.5 322.6,407.4 323.1,407.3 323.6,407.2 324.1,407.1 324.6,407.0 325.1,406.9 325.6,406.8 326.1,406.7 326.6,406.6 327.1,406.5 327.6,406.4 328.1,406.3 328.6,406.2 329.1,406.1 329.6,406.0 330.1,405.9 330.6,405.7 331.1,405.6 331.6,405.5 332.1,405.3 332.6,405.2 333.1,405.1 333.6,404.9 334.1,404.8 334.6,404.6 335.1,404.5 335.6,404.3 336.1,404.1 336.6,403.9 337.1,403.8 337.6,403.6 338.1,403.4 338.6,403.2 339.1,403.0 339.6,402.8 340.1,402.6 340.6,402.4 341.1,402.1 341.6,401.9 342.1,401.7 342.6,401.4 343.1,401.2 343.6,400.9 344.1,400.6 344.6,400.3 345.1,400.1 345.6,399.8 346.1,399.5 346.6,399.1 347.1,398.8 347.6,398.5 348.1,398.1 348.6,397.7 349.1,397.4 349.6,397.0 350.1,396.6 350.6,396.1 351.1,395.7 351.6,395.2 352.1,394.8 352.6,394.3 353.1,393.8 353.6,393.2 354.1,392.7 354.6,392.1 355.1,391.5 355.6,390.9 356.1,390.3 356.6,389.6 357.1,388.9 357.6,388.2 358.1,387.4 358.6,386.6 359.1,385.8 359.6,384.9 360.1,384.0 360.6,383.0 361.1,382.0 361.6,381.0 362.1,379.9 362.6,378.7 363.1,377.5 363.6,376.2 364.1,374.9 364.6,373.5 365.1,372.0 365.6,370.5 366.1,368.8 366.6,367.1 367.1,365.3 367.6,363.3 368.1,361.3 368.6,359.1 369.1,356.8 369.6,354.4 370.1,351.8 370.6,349.0 371.1,346.1 371.6,343.1 372.1,339.8 372.6,336.3 373.1,332.6 373.6,328.6 374.1,324.4 374.6,319.9 375.1,315.1 375.6,310.0 376.1,304.6 376.6,298.8 377.1,292.7 377.6,286.1 378.1,279.2 378.6,271.9 379.1,264.2 379.6,256.1 380.1,247.5 380.6,238.6 381.1,229.4 381.6,219.9 382.1,210.2 382.6,200.4 383.1,190.6 383.6,180.9 384.1,171.5 384.6,162.7 385.1,154.5 385.6,147.3 386.1,141.2 386.6,136.3 387.1,132.9 387.6,131.1 388.1,130.9 388.6,132.7 389.1,136.3 389.6,141.6 390.1,148.2 390.6,156.1 391.1,164.8 391.6,174.2 392.1,184.0 392.6,193.9 393.1,203.7 393.6,213.4 394.1,222.8 394.6,231.8 395.1,240.4 395.6,248.4 396.1,256.0 396.6,262.9 397.1,269.4 397.6,275.3 398.1,280.7 398.6,285.6 399.1,290.1 399.6,294.0 400.1,297.5 400.6,300.6 401.1,303.2 401.6,305.4 402.1,307.2 402.6,308.6 403.1,309.7 403.6,310.3 404.1,310.5 404.6,310.4 405.1,309.8 405.6,308.8 406.1,307.3 406.6,305.4 407.1,302.9 407.6,300.0 408.1,296.5 408.6,292.3 409.1,287.5 409.6,282.0 410.1,275.8 410.6,268.7 411.1,260.8 411.6,251.9 412.1,242.0 412.6,231.2 413.1,219.4 413.6,206.6 414.1,193.1 414.6,178.9 415.1,164.5 415.6,150.2 416.1,136.7 416.6,124.5 417.1,114.4 417.6,107.2 418.1,103.4 418.6,103.5 419.1,106.5 419.6,111.9 420.1,119.5 420.6,128.9 421.1,139.6 421.6,151.4 422.1,163.9 422.6,176.6 423.1,189.4 423.6,202.0 424.1,214.3 424.6,226.0 425.1,237.2 425.6,247.8 426.1,257.8 426.6,267.1 427.1,275.9 427.6,284.0 428.1,291.5 428.6,298.6 429.1,305.1 429.6,311.1 430.1,316.7 430.6,321.9 431.1,326.8 431.6,331.3 432.1,335.4 432.6,339.3 433.1,343.0 433.6,346.3 434.1,349.5 434.6,352.4 435.1,355.2 435.6,357.8 436.1,360.2 436.6,362.5 437.1,364.6 437.6,366.6 438.1,368.5 438.6,370.3 439.1,372.0 439.6,373.6 440.1,375.1 440.6,376.5 441.1,377.8 441.6,379.1 442.1,380.3 442.6,381.5 443.1,382.5 443.6,383.6 444.1,384.6 444.6,385.5 445.1,386.4 445.6,387.3 446.1,388.1 446.6,388.9 447.1,389.6 447.6,390.3 448.1,391.0 448.6,391.7 449.1,392.3 449.6,392.9 450.1,393.5 450.6,394.0 451.1,394.6 451.6,395.1 452.1,395.6 452.6,396.0 453.1,396.5 453.6,396.9 454.1,397.4 454.6,397.8 455.1,398.2 455.6,398.5 456.1,398.9 456.6,399.3 457.1,399.6 457.6,399.9 458.1,400.3 458.6,400.6 459.1,400.9 459.6,401.2 460.1,401.5 460.6,401.7 461.1,402.0 461.6,402.2 462.1,402.5 462.6,402.7 463.1,403.0 463.6,403.2 464.1,403.4 464.6,403.6 465.1,403.9 465.6,404.1 466.1,404.3 466.6,404.4 467.1,404.6 467.6,404.8 468.1,405.0 468.6,405.2 469.1,405.3 469.6,405.5 470.1,405.7 470.6,405.8 471.1,406.0 471.6,406.1 472.1,406.3 472.6,406.4 473.1,406.5 473.6,406.7 474.1,406.8 474.6,406.9 475.1,407.1 475.6,407.2 476.1,407.3 476.6,407.4 477.1,407.5 477.6,407.6 478.1,407.8 478.6,407.9 479.1,408.0 479.6,408.1 480.1,408.2 480.6,408.3 481.1,408.4 481.6,408.5 482.1,408.5 482.6,408.6 483.1,408.7 483.6,408.8 484.1,408.9 484.6,409.0 485.1,409.1 485.6,409.1 486.1,409.2 486.6,409.3 487.1,409.4 487.6,409.4 488.1,409.5 488.6,409.6 489.1,409.7 489.6,409.7 490.1,409.8 490.6,409.9 491.1,409.9 491.6,410.0 492.1,410.0 492.6,410.1 493.1,410.2 493.6,410.2 494.1,410.3 494.6,410.3 495.1,410.4 495.6,410.4 496.1,410.5 496.6,410.6 497.1,410.6 497.6,410.7 498.1,410.7 498.6,410.8 499.1,410.8 499.6,410.9 500.1,410.9 500.6,410.9 501.1,411.0 501.6,411.0 502.1,411.1 502.6,411.1 503.1,411.2 503.6,411.2 504.1,411.3 504.6,411.3 505.1,411.3 505.6,411.4 506.1,411.4 506.6,411.4 507.1,411.5 507.6,411.5 508.1,411.6 508.6,411.6 509.1,411.6 509.6,411.7 510.1,411.7" stroke="#ff00ff"/>
<path d="M158.1,713.0 158.6,712.9 159.1,712.9 159.6,712.8 160.1,712.8 160.6,712.7 161.1,712.6 161.6,712.6 162.1,712.5 162.6,712.4 163.1,712.4 163.6,712.3 164.1,712.2 164.6,712.2 165.1,712.1 165.6,712.0 166.1,711.9 166.6,711.9 167.1,711.8 167.6,711.7 168.1,711.6 168.6,711.5 169.1,711.4 169.6,711.3 170.1,711.2 170.6,711.1 171.1,711.0 171.6,710.9 172.1,710.8 172.6,710.7 173.1,710.6 173.6,710.5 174.1,710.3 174.6,710.2 175.1,710.1 175.6,709.9 176.1,709.8 176.6,709.7 177.1,709.5 177.6,709.4 178.1,709.2 178.6,709.0 179.1,708.9 179.6,708.7 180.1,708.5 180.6,708.3 181.1,708.1 181.6,707.9 182.1,707.7 182.6,707.5 183.1,707.2 183.6,707.0 184.1,706.7 184.6,706.5 185.1,706.2 185.6,705.9 186.1,705.6 186.6,705.3 187.1,705.0 187.6,704.7 188.1,704.3 188.6,704.0 189.1,703.6 189.6,703.2 190.1,702.7 190.6,702.3 191.1,701.8 191.6,701.3 192.1,700.8 192.6,700.3 193.1,699.7 193.6,699.1 194.1,698.5 194.6,697.8 195.1,697.1 195.6,696.3 196.1,695.5 196.6,694.6 197.1,693.7 197.6,692.8 198.1,691.7 198.6,690.6 199.1,689.5 199.6,688.2 200.1,686.8 200.6,685.4 201.1,683.8 201.6,682.2 202.1,680.4 202.6,678.4 203.1,676.3 203.6,674.0 204.1,671.5 204.6,668.8 205.1,665.9 205.6,662.7 206.1,659.2 206.6,655.4 207.1,651.2 207.6,646.6 208.1,641.6 208.6,636.1 209.1,630.1 209.6,623.4 210.1,616.2 210.6,608.3 211.1,599.8 211.6,590.6 212.1,580.8 212.6,570.5 213.1,559.9 213.6,549.2 214.1,538.9 214.6,529.5 215.1,521.7 215.6,516.3 216.1,514.6 216.6,517.0 217.1,521.5 217.6,527.6 218.1,534.9 218.6,542.9 219.1,551.3 219.6,559.9 220.1,568.5 220.6,576.9 221.1,585.0 221.6,592.8 222.1,600.1 222.6,607.0 223.1,613.5 223.6,619.6 224.1,625.2 224.6,630.5 225.1,635.3 225.6,639.9 226.1,644.1 226.6,648.0 227.1,651.6 227.6,654.9 228.1,658.1 228.6,661.0 229.1,663.7 229.6,666.2 230.1,668.5 230.6,670.7 231.1,672.8 231.6,674.7 232.1,676.5 232.6,678.2 233.1,679.8 233.6,681.3 234.1,682.6 234.6,684.0 235.1,685.2 235.6,686.4 236.1,687.5 236.6,688.5 237.1,689.5 237.6,690.4 238.1,691.3 238.6,692.2 239.1,693.0 239.6,693.7 240.1,694.4 240.6,695.1 241.1,695.8 241.6,696.4 242.1,697.0 242.6,697.5 243.1,698.1 243.6,698.6 244.1,699.1 244.6,699.5 245.1,700.0 245.6,700.4 246.1,700.8 246.6,701.2 247.1,701.6 247.6,702.0 248.1,702.3 248.6,702.7 249.1,703.0 249.6,703.3 250.1,703.6 250.6,703.9 251.1,704.2 251.6,704.4 252.1,704.7 252.6,704.9 253.1,705.2 253.6,705.4 254.1,705.6 254.6,705.8 255.1,706.0 255.6,706.2 256.1,706.4 256.6,706.6 257.1,706.8 257.6,707.0 258.1,707.1 258.6,707.3 259.1,707.5 259.6,707.6 260.1,707.8 260.6,707.9 261.1,708.0 261.6,708.2 262.1,708.3 262.6,708.4 263.1,708.5 263.6,708.7 264.1,708.8 264.6,708.9 265.1,709.0 265.6,709.1 266.1,709.2 266.6,709.3 267.1,709.4 267.6,709.5 268.1,709.6 268.6,709.7 269.1,709.8 269.6,709.8 270.1,709.9 270.6,710.0 271.1,710.1 271.6,710.1 272.1,710.2 272.6,710.3 273.1,710.4 273.6,710.4 274.1,710.5 274.6,710.5 275.1,710.6 275.6,710.7 276.1,710.7 276.6,710.8 277.1,710.8 277.6,710.9 278.1,710.9 278.6,711.0 279.1,711.0 279.6,711.1 280.1,711.1 280.6,711.2 281.1,711.2 281.6,711.2 282.1,711.3 282.6,711.3 283.1,711.4 283.6,711.4 284.1,711.4 284.6,711.5 285.1,711.5 285.6,711.5 286.1,711.6 286.6,711.6 287.1,711.6 287.6,711.6 288.1,711.7 288.6,711.7 289.1,711.7 289.6,711.7 290.1,711.7 290.6,711.8 291.1,711.8 291.6,711.8 292.1,711.8 292.6,711.8 293.1,711.9 293.6,711.9 294.1,711.9 294.6,711.9 295.1,711.9 295.6,711.9 296.1,711.9 296.6,711.9 297.1,711.9 297.6,712.0 298.1,712.0 298.6,712.0 299.1,712.0 299.6,712.0 300.1,712.0 300.6,712.0 301.1,712.0 301.6,712.0 302.1,712.0 302.6,712.0 303.1,712.0 303.6,712.0 304.1,712.0 304.6,712.0 305.1,712.0 305.6,712.0 306.1,712.0 306.6,711.9 307.1,711.9 307.6,711.9 308.1,711.9 308.6,711.9 309.1,711.9 309.6,711.9 310.1,711.9 310.6,711.9 311.1,711.8 311.6,711.8 312.1,711.8 312.6,711.8 313.1,711.8 313.6,711.7 314.1,711.7 314.6,711.7 315.1,711.7 315.6,711.6 316.1,711.6 316.6,711.6 317.1,711.6 317.6,711.5 318.1,711.5 318.6,711.5 319.1,711.4 319.6,711.4 320.1,711.4 320.6,711.3 321.1,711.3 321.6,711.2 322.1,711.2 322.6,711.2 323.1,711.1 323.6,711.1 324.1,711.0 324.6,711.0 325.1,710.9 325.6,710.9 326.1,710.8 326.6,710.7 327.1,710.7 327.6,710.6 328.1,710.6 328.6,710.5 329.1,710.4 329.6,710.4 330.1,710.3 330.6,710.2 331.1,710.1 331.6,710.0 332.1,710.0 332.6,709.9 333.1,709.8 333.6,709.7 334.1,709.6 334.6,709.5 335.1,709.4 335.6,709.3 336.1,709.2 336.6,709.1 337.1,709.0 337.6,708.9 338.1,708.7 338.6,708.6 339.1,708.5 339.6,708.3 340.1,708.2 340.6,708.0 341.1,707.9 341.6,707.7 342.1,707.6 342.6,707.4 343.1,707.2 343.6,707.1 344.1,706.9 344.6,706.7 345.1,706.5 345.6,706.3 346.1,706.0 346.6,705.8 347.1,705.6 347.6,705.3 348.1,705.1 348.6,704.8 349.1,704.5 349.6,704.3 350.1,704.0 350.6,703.6 351.1,703.3 351.6,703.0 352.1,702.6 352.6,702.2 353.1,701.9 353.6,701.4 354.1,701.0 354.6,700.6 355.1,700.1 355.6,699.6 356.1,699.1 356.6,698.6 357.1,698.0 357.6,697.4 358.1,696.8 358.6,696.1 359.1,695.4 359.6,694.7 360.1,693.9 360.6,693.1 361.1,692.2 361.6,691.3 362.1,690.4 362.6,689.3 363.1,688.3 363.6,687.1 364.1,685.9 364.6,684.6 365.1,683.2 365.6,681.7 366.1,680.2 366.6,678.5 367.1,676.7 367.6,674.8 368.1,672.7 368.6,670.5 369.1,668.2 369.6,665.6 370.1,662.9 370.6,660.0 371.1,656.8 371.6,653.4 372.1,649.8 372.6,645.9 373.1,641.6 373.6,637.1 374.1,632.1 374.6,626.8 375.1,621.2 375.6,615.0 376.1,608.5 376.6,601.5 377.1,594.0 377.6,586.1 378.1,577.7 378.6,569.0 379.1,559.9 379.6,550.5 380.1,540.9 380.6,531.3 381.1,521.9 381.6,512.7 382.1,504.1 382.6,496.2 383.1,489.3 383.6,483.5 384.1,478.9 384.6,475.7 385.1,473.8 385.6,473.1 386.1,473.5 386.6,475.2 387.1,478.5 387.6,483.3 388.1,489.6 388.6,497.1 389.1,505.5 389.6,514.7 390.1,524.3 390.6,534.1 391.1,543.9 391.6,553.6 392.1,562.9 392.6,571.8 393.1,580.2 393.6,588.0 394.1,595.3 394.6,602.1 395.1,608.3 395.6,614.0 396.1,619.2 396.6,623.9 397.1,628.2 397.6,632.0 398.1,635.4 398.6,638.5 399.1,641.2 399.6,643.6 400.1,645.6 400.6,647.4 401.1,648.8 401.6,650.0 402.1,650.9 402.6,651.6 403.1,652.0 403.6,652.1 404.1,652.0 404.6,651.6 405.1,650.9 405.6,649.9 406.1,648.7 406.6,647.1 407.1,645.2 407.6,642.9 408.1,640.2 408.6,637.1 409.1,633.5 409.6,629.3 410.1,624.6 410.6,619.2 411.1,613.0 411.6,606.1 412.1,598.2 412.6,589.3 413.1,579.3 413.6,568.0 414.1,555.5 414.6,541.7 415.1,526.6 415.6,510.3 416.1,493.1 416.6,475.6 417.1,458.4 417.6,442.4 418.1,428.9 418.6,419.0 419.1,413.9 419.6,414.6 420.1,419.8 420.6,428.6 421.1,440.4 421.6,454.2 422.1,469.3 422.6,485.1 423.1,500.8 423.6,516.2 424.1,530.9 424.6,544.8 425.1,557.7 425.6,569.6 426.1,580.5 426.6,590.5 427.1,599.6 427.6,607.9 428.1,615.5 428.6,622.4 429.1,628.6 429.6,634.4 430.1,639.6 430.6,644.3 431.1,648.7 431.6,652.6 432.1,656.3 432.6,659.7 433.1,662.8 433.6,665.6 434.1,668.2 434.6,670.7 435.1,672.9 435.6,675.0 436.1,677.0 436.6,678.8 437.1,680.5 437.6,682.1 438.1,683.5 438.6,684.9 439.1,686.2 439.6,687.4 440.1,688.6 440.6,689.6 441.1,690.7 441.6,691.6 442.1,692.5 442.6,693.4 443.1,694.2 443.6,694.9 444.1,695.7 444.6,696.4 445.1,697.0 445.6,697.6 446.1,698.2 446.6,698.8 447.1,699.3 447.6,699.8 448.1,700.3 448.6,700.8 449.1,701.2 449.6,701.7 450.1,702.1 450.6,702.5 451.1,702.8 451.6,703.2 452.1,703.5 452.6,703.9 453.1,704.2 453.6,704.5 454.1,704.8 454.6,705.1 455.1,705.4 455.6,705.6 456.1,705.9 456.6,706.1 457.1,706.4 457.6,706.6 458.1,706.8 458.6,707.0 459.1,707.2 459.6,707.4 460.1,707.6 460.6,707.8 461.1,708.0 461.6,708.2 462.1,708.3 462.6,708.5 463.1,708.6 463.6,708.8 464.1,709.0 464.6,709.1 465.1,709.2 465.6,709.4 466.1,709.5 466.6,709.6 467.1,709.8 467.6,709.9 468.1,710.0 468.6,710.1 469.1,710.2 469.6,710.3 470.1,710.4 470.6,710.6 471.1,710.7 471.6,710.7 472.1,710.8 472.6,710.9 473.1,711.0 473.6,711.1 474.1,711.2 474.6,711.3 475.1,711.4 475.6,711.5 476.1,711.5 476.6,711.6 477.1,711.7 477.6,711.8 478.1,711.8 478.6,711.9 479.1,712.0 479.6,712.0 480.1,712.1 480.6,712.2 481.1,712.2 481.6,712.3 482.1,712.3 482.6,712.4 483.1,712.5 483.6,712.5 484.1,712.6 484.6,712.6 485.1,712.7 485.6,712.7 486.1,712.8 486.6,712.8 487.1,712.9 487.6,712.9 488.1,713.0 488.6,713.0 489.1,713.1 489.6,713.1 490.1,713.2 490.6,713.2 491.1,713.2 491.6,713.3 492.1,713.3 492.6,713.4 493.1,713.4 493.6,713.4 494.1,713.5 494.6,713.5 495.1,713.5 495.6,713.6 496.1,713.6 496.6,713.6 497.1,713.7 497.6,713.7 498.1,713.7 498.6,713.8 499.1,713.8 499.6,713.8 500.1,713.9 500.6,713.9 501.1,713.9 501.6,714.0 502.1,714.0 502.6,714.0 503.1,714.0 503.6,714.1 504.1,714.1 504.6,714.1 505.1,714.1 505.6,714.2 506.1,714.2 506.6,714.2 507.1,714.2 507.6,714.3 508.1,714.3 508.6,714.3 509.1,714.3 509.6,714.4 510.1,714.4 510.6,714.4" stroke="#0000ff"/>
<path d="M158.1,1011.3 158.6,1011.2 159.1,1011.1 159.6,1010.9 160.1,1010.8 160.6,1010.6 161.1,1010.5 161.6,1010.3 162.1,1010.1 162.6,1010.0 163.1,1009.8 163.6,1009.6 164.1,1009.4 164.6,1009.2 165.1,1009.0 165.6,1008.8 166.1,1008.6 166.6,1008.4 167.1,1008.2 167.6,1008.0 168.1,1007.8 168.6,1007.5 169.1,1007.3 169.6,1007.0 170.1,1006.8 170.6,1006.5 171.1,1006.3 171.6,1006.0 172.1,1005.7 172.6,1005.4 173.1,1005.1 173.6,1004.8 174.1,1004.5 174.6,1004.1 175.1,1003.8 175.6,1003.4 176.1,1003.1 176.6,1002.7 177.1,1002.3 177.6,1001.9 178.1,1001.5 178.6,1001.0 179.1,1000.6 179.6,1000.1 180.1,999.6 180.6,999.1 181.1,998.6 181.6,998.1 182.1,997.5 182.6,997.0 183.1,996.4 183.6,995.7 184.1,995.1 184.6,994.4 185.1,993.7 185.6,993.0 186.1,992.3 186.6,991.5 187.1,990.7 187.6,989.8 188.1,988.9 188.6,988.0 189.1,987.0 189.6,986.0 190.1,985.0 190.6,983.9 191.1,982.7 191.6,981.5 192.1,980.3 192.6,979.0 193.1,977.6 193.6,976.2 194.1,974.7 194.6,973.1 195.1,971.4 195.6,969.7 196.1,967.9 196.6,965.9 197.1,963.9 197.6,961.8 198.1,959.6 198.6,957.2 199.1,954.8 199.6,952.2 200.1,949.5 200.6,946.6 201.1,943.6 201.6,940.5 202.1,937.2 202.6,933.7 203.1,930.0 203.6,926.2 204.1,922.1 204.6,917.9 205.1,913.5 205.6,908.9 206.1,904.1 206.6,899.1 207.1,893.9 207.6,888.6 208.1,883.1 208.6,877.4 209.1,871.7 209.6,865.8 210.1,860.0 210.6,854.1 211.1,848.3 211.6,842.6 212.1,837.1 212.6,831.8 213.1,826.9 213.6,822.4 214.1,818.5 214.6,815.1 215.1,812.4 215.6,810.5 216.1,809.3 216.6,809.1 217.1,809.7 217.6,811.0 218.1,813.2 218.6,816.0 219.1,819.4 219.6,823.4 220.1,827.9 220.6,832.7 221.1,837.8 221.6,843.2 222.1,848.8 222.6,854.5 223.1,860.2 223.6,865.9 224.1,871.6 224.6,877.2 225.1,882.7 225.6,888.0 226.1,893.2 226.6,898.3 227.1,903.2 227.6,907.9 228.1,912.4 228.6,916.7 229.1,920.8 229.6,924.8 230.1,928.6 230.6,932.2 231.1,935.6 231.6,938.9 232.1,942.0 232.6,945.0 233.1,947.8 233.6,950.5 234.1,953.1 234.6,955.5 235.1,957.8 235.6,960.1 236.1,962.2 236.6,964.2 237.1,966.1 237.6,967.9 238.1,969.6 238.6,971.3 239.1,972.9 239.6,974.4 240.1,975.8 240.6,977.2 241.1,978.5 241.6,979.8 242.1,981.0 242.6,982.1 243.1,983.2 243.6,984.3 244.1,985.3 244.6,986.3 245.1,987.2 245.6,988.1 246.1,988.9 246.6,989.7 247.1,990.5 247.6,991.3 248.1,992.0 248.6,992.7 249.1,993.4 249.6,994.0 250.1,994.6 250.6,995.2 251.1,995.8 251.6,996.4 252.1,996.9 252.6,997.4 253.1,997.9 253.6,998.4 254.1,998.8 254.6,999.3 255.1,999.7 255.6,1000.1 256.1,1000.5 256.6,1000.9 257.1,1001.3 257.6,1001.6 258.1,1002.0 258.6,1002.3 259.1,1002.6 259.6,1003.0 260.1,1003.3 260.6,1003.6 261.1,1003.8 261.6,1004.1 262.1,1004.4 262.6,1004.6 263.1,1004.9 263.6,1005.1 264.1,1005.4 264.6,1005.6 265.1,1005.8 265.6,1006.0 266.1,1006.3 266.6,1006.5 267.1,1006.6 267.6,1006.8 268.1,1007.0 268.6,1007.2 269.1,1007.4 269.6,1007.5 270.1,1007.7 270.6,1007.9 271.1,1008.0 271.6,1008.2 272.1,1008.3 272.6,1008.5 273.1,1008.6 273.6,1008.7 274.1,1008.8 274.6,1009.0 275.1,1009.1 275.6,1009.2 276.1,1009.3 276.6,1009.4 277.1,1009.5 277.6,1009.6 278.1,1009.7 278.6,1009.8 279.1,1009.9 279.6,1010.0 280.1,1010.1 280.6,1010.2 281.1,1010.3 281.6,1010.4 282.1,1010.4 282.6,1010.5 283.1,1010.6 283.6,1010.7 284.1,1010.7 284.6,1010.8 285.1,1010.9 285.6,1010.9 286.1,1011.0 286.6,1011.0 287.1,1011.1 287.6,1011.1 288.1,1011.2 288.6,1011.2 289.1,1011.3 289.6,1011.3 290.1,1011.4 290.6,1011.4 291.1,1011.4 291.6,1011.5 292.1,1011.5 292.6,1011.6 293.1,1011.6 293.6,1011.6 294.1,1011.6 294.6,1011.7 295.1,1011.7 295.6,1011.7 296.1,1011.7 296.6,1011.8 297.1,1011.8 297.6,1011.8 298.1,1011.8 298.6,1011.8 299.1,1011.8 299.6,1011.8 300.1,1011.8 300.6,1011.8 301.1,1011.9 301.6,1011.9 302.1,1011.9 302.6,1011.9 303.1,1011.9 303.6,1011.9 304.1,1011.8 304.6,1011.8 305.1,1011.8 305.6,1011.8 306.1,1011.8 306.6,1011.8 307.1,1011.8 307.6,1011.8 308.1,1011.8 308.6,1011.7 309.1,1011.7 309.6,1011.7 310.1,1011.7 310.6,1011.6 311.1,1011.6 311.6,1011.6 312.1,1011.5 312.6,1011.5 313.1,1011.5 313.6,1011.4 314.1,1011.4 314.6,1011.4 315.1,1011.3 315.6,1011.3 316.1,1011.2 316.6,1011.2 317.1,1011.1 317.6,1011.1 318.1,1011.0 318.6,1011.0 319.1,1010.9 319.6,1010.8 320.1,1010.8 320.6,1010.7 321.1,1010.6 321.6,1010.6 322.1,1010.5 322.6,1010.4 323.1,1010.3 323.6,1010.3 324.1,1010.2 324.6,1010.1 325.1,1010.0 325.6,1009.9 326.1,1009.8 326.6,1009.7 327.1,1009.6 327.6,1009.5 328.1,1009.4 328.6,1009.3 329.1,1009.2 329.6,1009.1 330.1,1008.9 330.6,1008.8 331.1,1008.7 331.6,1008.5 332.1,1008.4 332.6,1008.3 333.1,1008.1 333.6,1008.0 334.1,1007.8 334.6,1007.6 335.1,1007.5 335.6,1007.3 336.1,1007.1 336.6,1006.9 337.1,1006.7 337.6,1006.6 338.1,1006.4 338.6,1006.1 339.1,1005.9 339.6,1005.7 340.1,1005.5 340.6,1005.2 341.1,1005.0 341.6,1004.7 342.1,1004.5 342.6,1004.2 343.1,1003.9 343.6,1003.6 344.1,1003.3 344.6,1003.0 345.1,1002.7 345.6,1002.4 346.1,1002.0 346.6,1001.7 347.1,1001.3 347.6,1000.9 348.1,1000.5 348.6,1000.1 349.1,999.7 349.6,999.2 350.1,998.8 350.6,998.3 351.1,997.8 351.6,997.3 352.1,996.8 352.6,996.2 353.1,995.6 353.6,995.0 354.1,994.4 354.6,993.7 355.1,993.0 355.6,992.3 356.1,991.6 356.6,990.8 357.1,990.0 357.6,989.1 358.1,988.2 358.6,987.3 359.1,986.3 359.6,985.3 360.1,984.2 360.6,983.1 361.1,981.9 361.6,980.6 362.1,979.3 362.6,977.9 363.1,976.5 363.6,975.0 364.1,973.4 364.6,971.7 365.1,969.9 365.6,968.0 366.1,965.9 366.6,963.8 367.1,961.6 367.6,959.2 368.1,956.7 368.6,954.0 369.1,951.1 369.6,948.1 370.1,944.9 370.6,941.5 371.1,937.8 371.6,933.9 372.1,929.8 372.6,925.4 373.1,920.7 373.6,915.7 374.1,910.4 374.6,904.7 375.1,898.6 375.6,892.2 376.1,885.3 376.6,878.1 377.1,870.4 377.6,862.2 378.1,853.7 378.6,844.7 379.1,835.2 379.6,825.5 380.1,815.4 380.6,805.0 381.1,794.5 381.6,784.0 382.1,773.5 382.6,763.3 383.1,753.6 383.6,744.6 384.1,736.4 384.6,729.3 385.1,723.4 385.6,719.0 386.1,716.0 386.6,714.6 387.1,714.8 387.6,716.6 388.1,720.0 388.6,725.0 389.1,731.4 389.6,738.9 390.1,747.5 390.6,756.7 391.1,766.5 391.6,776.6 392.1,786.7 392.6,796.9 393.1,806.8 393.6,816.4 394.1,825.7 394.6,834.5 395.1,842.9 395.6,850.8 396.1,858.2 396.6,865.1 397.1,871.5 397.6,877.4 398.1,882.8 398.6,887.8 399.1,892.3 399.6,896.5 400.1,900.2 400.6,903.6 401.1,906.6 401.6,909.2 402.1,911.5 402.6,913.5 403.1,915.2 403.6,916.6 404.1,917.7 404.6,918.5 405.1,919.1 405.6,919.3 406.1,919.3 406.6,919.0 407.1,918.4 407.6,917.6 408.1,916.5 408.6,915.1 409.1,913.4 409.6,911.4 410.1,909.1 410.6,906.5 411.1,903.6 411.6,900.3 412.1,896.7 412.6,892.8 413.1,888.5 413.6,883.9 414.1,879.0 414.6,873.7 415.1,868.2 415.6,862.3 416.1,856.2 416.6,849.8 417.1,843.3 417.6,836.7 418.1,830.2 418.6,823.7 419.1,817.4 419.6,811.4 420.1,805.9 420.6,800.9 421.1,796.7 421.6,793.2 422.1,790.6 422.6,789.0 423.1,788.3 423.6,788.4 424.1,789.2 424.6,790.6 425.1,792.5 425.6,795.1 426.1,798.3 426.6,802.1 427.1,806.3 427.6,811.0 428.1,816.1 428.6,821.5 429.1,827.2 429.6,833.1 430.1,839.1 430.6,845.2 431.1,851.4 431.6,857.5 432.1,863.5 432.6,869.5 433.1,875.3 433.6,881.0 434.1,886.5 434.6,891.8 435.1,897.0 435.6,902.0 436.1,906.7 436.6,911.3 437.1,915.7 437.6,919.9 438.1,923.9 438.6,927.7 439.1,931.3 439.6,934.8 440.1,938.1 440.6,941.3 441.1,944.3 441.6,947.1 442.1,949.8 442.6,952.4 443.1,954.9 443.6,957.2 444.1,959.5 444.6,961.6 445.1,963.6 445.6,965.5 446.1,967.4 446.6,969.1 447.1,970.8 447.6,972.4 448.1,973.9 448.6,975.4 449.1,976.8 449.6,978.1 450.1,979.4 450.6,980.6 451.1,981.8 451.6,982.9 452.1,984.0 452.6,985.0 453.1,986.0 453.6,986.9 454.1,987.9 454.6,988.7 455.1,989.6 455.6,990.4 456.1,991.2 456.6,991.9 457.1,992.6 457.6,993.3 458.1,994.0 458.6,994.6 459.1,995.2 459.6,995.8 460.1,996.4 460.6,997.0 461.1,997.5 461.6,998.0 462.1,998.5 462.6,999.0 463.1,999.5 463.6,999.9 464.1,1000.4 464.6,1000.8 465.1,1001.2 465.6,1001.6 466.1,1002.0 466.6,1002.4 467.1,1002.7 467.6,1003.1 468.1,1003.4 468.6,1003.7 469.1,1004.1 469.6,1004.4 470.1,1004.7 470.6,1005.0 471.1,1005.2 471.6,1005.5 472.1,1005.8 472.6,1006.1 473.1,1006.3 473.6,1006.6 474.1,1006.8 474.6,1007.0 475.1,1007.3 475.6,1007.5 476.1,1007.7 476.6,1007.9 477.1,1008.1 477.6,1008.3 478.1,1008.5 478.6,1008.7 479.1,1008.9 479.6,1009.1 480.1,1009.3 480.6,1009.4 481.1,1009.6 481.6,1009.8 482.1,1009.9 482.6,1010.1 483.1,1010.2 483.6,1010.4 484.1,1010.5 484.6,1010.7 485.1,1010.8 485.6,1011.0 486.1,1011.1 486.6,1011.2 487.1,1011.3 487.6,1011.5 488.1,1011.6 488.6,1011.7 489.1,1011.8 489.6,1012.0 490.1,1012.1 490.6,1012.2 491.1,1012.3 491.6,1012.4 492.1,1012.5 492.6,1012.6 493.1,1012.7 493.6,1012.8 494.1,1012.9 494.6,1013.0 495.1,1013.1 495.6,1013.2 496.1,1013.3 496.6,1013.3 497.1,1013.4 497.6,1013.5 498.1,1013.6 498.6,1013.7 499.1,1013.8 499.6,1013.8 500.1,1013.9 500.6,1014.0 501.1,1014.1 501.6,1014.1 502.1,1014.2 502.6,1014.3 503.1,1014.3 503.6,1014.4 504.1,1014.5 504.6,1014.5 505.1,1014.6 505.6,1014.7 506.1,1014.7 506.6,1014.8" stroke="#f03c3c"/>
<path d="M158.1,1317.0 158.6,1317.0 159.1,1316.9 159.6,1316.9 160.1,1316.9 160.6,1316.8 161.1,1316.8 161.6,1316.7 162.1,1316.7 162.6,1316.6 163.1,1316.6 163.6,1316.5 164.1,1316.5 164.6,1316.4 165.1,1316.4 165.6,1316.3 166.1,1316.2 166.6,1316.2 167.1,1316.1 167.6,1316.0 168.1,1316.0 168.6,1315.9 169.1,1315.8 169.6,1315.8 170.1,1315.7 170.6,1315.6 171.1,1315.5 171.6,1315.4 172.1,1315.3 172.6,1315.3 173.1,1315.2 173.6,1315.1 174.1,1315.0 174.6,1314.8 175.1,1314.7 175.6,1314.6 176.1,1314.5 176.6,1314.4 177.1,1314.3 177.6,1314.1 178.1,1314.0 178.6,1313.8 179.1,1313.7 179.6,1313.5 180.1,1313.4 180.6,1313.2 181.1,1313.0 181.6,1312.8 182.1,1312.6 182.6,1312.4 183.1,1312.2 183.6,1312.0 184.1,1311.8 184.6,1311.5 185.1,1311.3 185.6,1311.0 186.1,1310.7 186.6,1310.4 187.1,1310.1 187.6,1309.8 188.1,1309.5 188.6,1309.1 189.1,1308.7 189.6,1308.3 190.1,1307.9 190.6,1307.4 191.1,1307.0 191.6,1306.5 192.1,1305.9 192.6,1305.4 193.1,1304.8 193.6,1304.1 194.1,1303.4 194.6,1302.7 195.1,1301.9 195.6,1301.1 196.1,1300.2 196.6,1299.3 197.1,1298.2 197.6,1297.1 198.1,1296.0 198.6,1294.7 199.1,1293.3 199.6,1291.9 200.1,1290.3 200.6,1288.6 201.1,1286.7 201.6,1284.7 202.1,1282.5 202.6,1280.1 203.1,1277.6 203.6,1274.7 204.1,1271.7 204.6,1268.4 205.1,1264.7 205.6,1260.8 206.1,1256.4 206.6,1251.7 207.1,1246.6 207.6,1241.1 208.1,1235.1 208.6,1228.7 209.1,1221.8 209.6,1214.5 210.1,1206.8 210.6,1198.8 211.1,1190.6 211.6,1182.4 212.1,1174.3 212.6,1166.6 213.1,1159.5 213.6,1153.2 214.1,1148.1 214.6,1144.2 215.1,1141.7 215.6,1140.7 216.1,1140.8 216.6,1142.2 217.1,1145.1 217.6,1149.5 218.1,1155.1 218.6,1161.9 219.1,1169.5 219.6,1177.6 220.1,1186.0 220.6,1194.4 221.1,1202.8 221.6,1210.8 222.1,1218.5 222.6,1225.8 223.1,1232.6 223.6,1238.9 224.1,1244.7 224.6,1250.1 225.1,1255.0 225.6,1259.6 226.1,1263.7 226.6,1267.5 227.1,1271.0 227.6,1274.2 228.1,1277.1 228.6,1279.8 229.1,1282.2 229.6,1284.5 230.1,1286.5 230.6,1288.4 231.1,1290.2 231.6,1291.8 232.1,1293.3 232.6,1294.7 233.1,1296.0 233.6,1297.1 234.1,1298.2 234.6,1299.3 235.1,1300.2 235.6,1301.1 236.1,1301.9 236.6,1302.7 237.1,1303.4 237.6,1304.1 238.1,1304.7 238.6,1305.3 239.1,1305.9 239.6,1306.4 240.1,1306.9 240.6,1307.4 241.1,1307.8 241.6,1308.2 242.1,1308.6 242.6,1309.0 243.1,1309.4 243.6,1309.7 244.1,1310.0 244.6,1310.3 245.1,1310.6 245.6,1310.9 246.1,1311.1 246.6,1311.4 247.1,1311.6 247.6,1311.8 248.1,1312.0 248.6,1312.2 249.1,1312.4 249.6,1312.6 250.1,1312.8 250.6,1312.9 251.1,1313.1 251.6,1313.2 252.1,1313.4 252.6,1313.5 253.1,1313.7 253.6,1313.8 254.1,1313.9 254.6,1314.0 255.1,1314.1 255.6,1314.3 256.1,1314.4 256.6,1314.5 257.1,1314.5 257.6,1314.6 258.1,1314.7 258.6,1314.8 259.1,1314.9 259.6,1315.0 260.1,1315.0 260.6,1315.1 261.1,1315.2 261.6,1315.3 262.1,1315.3 262.6,1315.4 263.1,1315.4 263.6,1315.5 264.1,1315.6 264.6,1315.6 265.1,1315.7 265.6,1315.7 266.1,1315.8 266.6,1315.8 267.1,1315.8 267.6,1315.9 268.1,1315.9 268.6,1316.0 269.1,1316.0 269.6,1316.0 270.1,1316.1 270.6,1316.1 271.1,1316.1 271.6,1316.2 272.1,1316.2 272.6,1316.2 273.1,1316.3 273.6,1316.3 274.1,1316.3 274.6,1316.3 275.1,1316.4 275.6,1316.4 276.1,1316.4 276.6,1316.4 277.1,1316.4 277.6,1316.5 278.1,1316.5 278.6,1316.5 279.1,1316.5 279.6,1316.5 280.1,1316.5 280.6,1316.5 281.1,1316.6 281.6,1316.6 282.1,1316.6 282.6,1316.6 283.1,1316.6 283.6,1316.6 284.1,1316.6 284.6,1316.6 285.1,1316.6 285.6,1316.6 286.1,1316.7 286.6,1316.7 287.1,1316.7 287.6,1316.7 288.1,1316.7 288.6,1316.7 289.1,1316.7 289.6,1316.7 290.1,1316.7 290.6,1316.7 291.1,1316.7 291.6,1316.7 292.1,1316.7 292.6,1316.7 293.1,1316.7 293.6,1316.7 294.1,1316.7 294.6,1316.7 295.1,1316.7 295.6,1316.7 296.1,1316.6 296.6,1316.6 297.1,1316.6 297.6,1316.6 298.1,1316.6 298.6,1316.6 299.1,1316.6 299.6,1316.6 300.1,1316.6 300.6,1316.6 301.1,1316.6 301.6,1316.6 302.1,1316.5 302.6,1316.5 303.1,1316.5 303.6,1316.5 304.1,1316.5 304.6,1316.5 305.1,1316.5 305.6,1316.4 306.1,1316.4 306.6,1316.4 307.1,1316.4 307.6,1316.4 308.1,1316.4 308.6,1316.3 309.1,1316.3 309.6,1316.3 310.1,1316.3 310.6,1316.2 311.1,1316.2 311.6,1316.2 312.1,1316.2 312.6,1316.2 313.1,1316.1 313.6,1316.1 314.1,1316.1 314.6,1316.0 315.1,1316.0 315.6,1316.0 316.1,1316.0 316.6,1315.9 317.1,1315.9 317.6,1315.9 318.1,1315.8 318.6,1315.8 319.1,1315.8 319.6,1315.7 320.1,1315.7 320.6,1315.6 321.1,1315.6 321.6,1315.6 322.1,1315.5 322.6,1315.5 323.1,1315.4 323.6,1315.4 324.1,1315.3 324.6,1315.3 325.1,1315.2 325.6,1315.2 326.1,1315.1 326.6,1315.1 327.1,1315.0 327.6,1315.0 328.1,1314.9 328.6,1314.9 329.1,1314.8 329.6,1314.7 330.1,1314.7 330.6,1314.6 331.1,1314.5 331.6,1314.5 332.1,1314.4 332.6,1314.3 333.1,1314.2 333.6,1314.2 334.1,1314.1 334.6,1314.0 335.1,1313.9 335.6,1313.8 336.1,1313.7 336.6,1313.6 337.1,1313.6 337.6,1313.5 338.1,1313.4 338.6,1313.2 339.1,1313.1 339.6,1313.0 340.1,1312.9 340.6,1312.8 341.1,1312.7 341.6,1312.5 342.1,1312.4 342.6,1312.3 343.1,1312.1 343.6,1312.0 344.1,1311.9 344.6,1311.7 345.1,1311.5 345.6,1311.4 346.1,1311.2 346.6,1311.0 347.1,1310.9 347.6,1310.7 348.1,1310.5 348.6,1310.3 349.1,1310.1 349.6,1309.8 350.1,1309.6 350.6,1309.4 351.1,1309.1 351.6,1308.9 352.1,1308.6 352.6,1308.3 353.1,1308.1 353.6,1307.8 354.1,1307.4 354.6,1307.1 355.1,1306.8 355.6,1306.4 356.1,1306.1 356.6,1305.7 357.1,1305.3 357.6,1304.9 358.1,1304.4 358.6,1303.9 359.1,1303.5 359.6,1302.9 360.1,1302.4 360.6,1301.8 361.1,1301.3 361.6,1300.6 362.1,1300.0 362.6,1299.3 363.1,1298.5 363.6,1297.8 364.1,1296.9 364.6,1296.1 365.1,1295.2 365.6,1294.2 366.1,1293.1 366.6,1292.0 367.1,1290.9 367.6,1289.6 368.1,1288.3 368.6,1286.9 369.1,1285.3 369.6,1283.7 370.1,1282.0 370.6,1280.1 371.1,1278.1 371.6,1275.9 372.1,1273.6 372.6,1271.1 373.1,1268.3 373.6,1265.4 374.1,1262.2 374.6,1258.7 375.1,1255.0 375.6,1250.9 376.1,1246.5 376.6,1241.6 377.1,1236.4 377.6,1230.6 378.1,1224.4 378.6,1217.6 379.1,1210.2 379.6,1202.2 380.1,1193.5 380.6,1184.1 381.1,1174.0 381.6,1163.3 382.1,1151.9 382.6,1140.0 383.1,1127.7 383.6,1115.2 384.1,1102.8 384.6,1090.8 385.1,1079.6 385.6,1069.6 386.1,1061.3 386.6,1055.0 387.1,1050.9 387.6,1049.1 388.1,1049.8 388.6,1053.5 389.1,1060.2 389.6,1069.6 390.1,1081.0 390.6,1093.9 391.1,1107.6 391.6,1121.5 392.1,1135.3 392.6,1148.5 393.1,1161.0 393.6,1172.6 394.1,1183.3 394.6,1193.0 395.1,1201.8 395.6,1209.7 396.1,1216.9 396.6,1223.2 397.1,1228.9 397.6,1234.0 398.1,1238.4 398.6,1242.4 399.1,1245.9 399.6,1248.9 400.1,1251.5 400.6,1253.8 401.1,1255.7 401.6,1257.3 402.1,1258.6 402.6,1259.6 403.1,1260.4 403.6,1260.8 404.1,1261.1 404.6,1261.0 405.1,1260.7 405.6,1260.2 406.1,1259.3 406.6,1258.2 407.1,1256.8 407.6,1255.1 408.1,1253.1 408.6,1250.8 409.1,1248.0 409.6,1244.9 410.1,1241.3 410.6,1237.3 411.1,1232.7 411.6,1227.6 412.1,1221.9 412.6,1215.6 413.1,1208.6 413.6,1200.9 414.1,1192.6 414.6,1183.6 415.1,1174.0 415.6,1164.0 416.1,1153.7 416.6,1143.4 417.1,1133.5 417.6,1124.4 418.1,1116.6 418.6,1110.5 419.1,1106.6 419.6,1105.0 420.1,1105.8 420.6,1108.2 421.1,1112.2 421.6,1117.5 422.1,1124.1 422.6,1131.6 423.1,1139.8 423.6,1148.4 424.1,1157.2 424.6,1166.0 425.1,1174.7 425.6,1183.2 426.1,1191.4 426.6,1199.1 427.1,1206.5 427.6,1213.4 428.1,1219.8 428.6,1225.9 429.1,1231.5 429.6,1236.7 430.1,1241.6 430.6,1246.1 431.1,1250.2 431.6,1254.1 432.1,1257.7 432.6,1261.0 433.1,1264.1 433.6,1267.0 434.1,1269.6 434.6,1272.1 435.1,1274.4 435.6,1276.6 436.1,1278.6 436.6,1280.5 437.1,1282.2 437.6,1283.9 438.1,1285.4 438.6,1286.8 439.1,1288.2 439.6,1289.5 440.1,1290.7 440.6,1291.8 441.1,1292.9 441.6,1293.9 442.1,1294.8 442.6,1295.7 443.1,1296.6 443.6,1297.4 444.1,1298.1 444.6,1298.9 445.1,1299.6 445.6,1300.2 446.1,1300.8 446.6,1301.4 447.1,1302.0 447.6,1302.5 448.1,1303.0 448.6,1303.5 449.1,1304.0 449.6,1304.4 450.1,1304.9 450.6,1305.3 451.1,1305.7 451.6,1306.0 452.1,1306.4 452.6,1306.8 453.1,1307.1 453.6,1307.4 454.1,1307.7 454.6,1308.0 455.1,1308.3 455.6,1308.6 456.1,1308.8 456.6,1309.1 457.1,1309.3 457.6,1309.6 458.1,1309.8 458.6,1310.0 459.1,1310.2 459.6,1310.4 460.1,1310.6 460.6,1310.8 461.1,1311.0 461.6,1311.2 462.1,1311.3 462.6,1311.5 463.1,1311.7 463.6,1311.8 464.1,1312.0 464.6,1312.1 465.1,1312.3 465.6,1312.4 466.1,1312.5 466.6,1312.7 467.1,1312.8 467.6,1312.9 468.1,1313.0 468.6,1313.2 469.1,1313.3 469.6,1313.4 470.1,1313.5 470.6,1313.6 471.1,1313.7 471.6,1313.8 472.1,1313.9 472.6,1314.0 473.1,1314.1 473.6,1314.2 474.1,1314.2 474.6,1314.3 475.1,1314.4 475.6,1314.5 476.1,1314.6 476.6,1314.7 477.1,1314.7 477.6,1314.8 478.1,1314.9 478.6,1314.9 479.1,1315.0 479.6,1315.1 480.1,1315.1 480.6,1315.2 481.1,1315.3 481.6,1315.3 482.1,1315.4 482.6,1315.4 483.1,1315.5 483.6,1315.5 484.1,1315.6 484.6,1315.7 485.1,1315.7 485.6,1315.8 486.1,1315.8 486.6,1315.9 487.1,1315.9 487.6,1316.0 488.1,1316.0 488.6,1316.0 489.1,1316.1 489.6,1316.1 490.1,1316.2 490.6,1316.2 491.1,1316.3 491.6,1316.3 492.1,1316.3 492.6,1316.4 493.1,1316.4 493.6,1316.4 494.1,1316.5 494.6,1316.5 495.1,1316.5 495.6,1316.6 496.1,1316.6 496.6,1316.6 497.1,1316.7 497.6,1316.7 498.1,1316.7 498.6,1316.8 499.1,1316.8 499.6,1316.8 500.1,1316.9 500.6,1316.9 501.1,1316.9 501.6,1316.9 502.1,1317.0 502.6,1317.0 503.1,1317.0 503.6,1317.1 504.1,1317.1 504.6,1317.1 505.1,1317.1 505.6,1317.2 506.1,1317.2 506.6,1317.2 507.1,1317.2 507.6,1317.2 508.1,1317.3 508.6,1317.3 509.1,1317.3 509.6,1317.3 510.1,1317.4 510.6,1317.4 511.1,1317.4 511.6,1317.4 512.1,1317.4 512.6,1317.4 513.1,1317.5 513.6,1317.5 514.1,1317.5 514.6,1317.5 515.1,1317.5 515.6,1317.6 516.1,1317.6 516.6,1317.6 517.1,1317.6 517.6,1317.6 518.1,1317.6 518.6,1317.7 519.1,1317.7 519.6,1317.7" stroke="#000000"/>
</g>
<rect x="77.7" y="111.3" width="507.8" height="1236" fill="none" stroke="#000" stroke-width="4.7" stroke-linejoin="round"/>
<path d="M204.9,1347V1359.6" stroke="#000" stroke-width="4.8" stroke-linecap="round"/>
<path d="M458.7,1347V1359.6" stroke="#000" stroke-width="4.8" stroke-linecap="round"/>
<text x="204.4" y="1389.9" font-size="27.2" font-weight="bold" text-anchor="middle" class="ar" textLength="47.6" lengthAdjust="spacingAndGlyphs">440</text>
<text x="458.6" y="1389.9" font-size="27.2" font-weight="bold" text-anchor="middle" class="ar" textLength="46.6" lengthAdjust="spacingAndGlyphs">660</text>
<text x="331" y="1428.5" font-size="32.8" font-weight="bold" text-anchor="middle" class="ar" textLength="275.5" lengthAdjust="spacingAndGlyphs">Wavelength (nm)</text>
<text transform="translate(38.3,727.7) rotate(-90)" font-size="32.8" font-weight="bold" text-anchor="middle" class="ar" textLength="227" lengthAdjust="spacingAndGlyphs">Intensity (a.u.)</text>
<text x="100.5" y="150.8" font-size="32.5" font-weight="bold" class="ar">25<tspan font-size="36" font-weight="normal" dx="-1.2">°</tspan></text>
<text x="97.0" y="460.3" font-size="32.5" font-weight="bold" class="ar">45<tspan font-size="36" font-weight="normal" dx="-1.2">°</tspan></text>
<text x="99.0" y="751.0" font-size="32.5" font-weight="bold" class="ar">65<tspan font-size="36" font-weight="normal" dx="-1.2">°</tspan></text>
<text x="99.5" y="1072.5" font-size="32.5" font-weight="bold" class="ar">85<tspan font-size="36" font-weight="normal" dx="-1.2">°</tspan></text>
<path d="M911.8,1108.4 911.7,1108.5 911.6,1108.5 911.6,1108.5 911.5,1108.5 911.4,1108.5 911.3,1108.5 911.3,1108.5 911.2,1108.5 911.2,1108.5 911.1,1108.5 911.1,1108.5 911.0,1108.5 911.0,1108.5 910.9,1108.5 910.8,1108.5 910.7,1108.6 910.6,1108.6 910.6,1108.7 910.5,1108.7 910.5,1108.7 910.4,1108.7 910.4,1108.7 910.4,1108.7 910.4,1108.7 910.4,1108.7 910.3,1108.7 910.3,1108.7 910.3,1108.8 910.2,1108.8 910.2,1108.8 910.1,1108.8 910.1,1108.8 910.0,1108.7 910.0,1108.8 910.0,1108.8 909.9,1108.8 909.9,1108.8 909.8,1108.8 909.8,1108.9 909.7,1108.9 909.7,1108.9 909.7,1108.9 909.6,1108.9 909.5,1108.9 909.5,1108.9 909.4,1108.9 909.3,1108.9 909.2,1108.9 909.1,1108.9 909.1,1108.9 909.0,1108.9 908.9,1108.9 908.8,1108.9 908.7,1108.9 908.6,1108.8 908.5,1108.8 908.4,1108.8 908.3,1108.8 908.1,1108.7 908.0,1108.6 907.8,1108.5 907.6,1108.4 907.4,1108.3 907.2,1108.2 907.0,1108.0 906.7,1107.9 906.5,1107.7 906.2,1107.5 906.0,1107.3 905.7,1107.1 905.3,1106.8 905.0,1106.6 904.6,1106.3 904.2,1106.0 903.9,1105.6 903.4,1105.3 903.0,1104.9 902.6,1104.5 902.1,1104.1 901.6,1103.7 901.0,1103.2 900.5,1102.7 899.9,1102.2 899.2,1101.7 898.6,1101.1 897.8,1100.5 897.1,1099.9 896.2,1099.2 895.4,1098.5 894.5,1097.8 893.5,1097.0 892.5,1096.2 891.5,1095.3 890.4,1094.4 889.3,1093.4 888.1,1092.4 886.9,1091.3 885.6,1090.1 884.2,1088.8 882.9,1087.5 881.4,1086.0 880.0,1084.4 878.4,1082.7 876.8,1080.8 875.1,1078.7 873.3,1076.3 871.3,1073.5 869.2,1070.5 867.0,1067.1 864.7,1063.3 862.3,1059.2 859.7,1054.7 857.1,1049.7 854.3,1044.3 851.4,1038.3 848.4,1031.7 845.2,1024.5 841.8,1016.7 838.3,1008.1 834.7,998.9 830.8,988.9 826.8,978.1 822.6,966.4 818.3,953.9 814.0,940.4 809.7,926.0 805.4,910.7 801.1,894.5 796.9,877.4 792.6,859.3 788.4,840.4 784.2,820.7 780.2,800.3 776.3,779.4 772.6,758.1 769.1,736.5 766.0,714.9 763.2,693.1 760.7,671.5 758.6,650.0 756.9,628.8 755.6,608.1 754.7,588.0 754.4,568.6 754.6,549.9 755.4,531.7 756.6,514.3 758.4,497.8 760.8,482.3 763.8,467.8 767.4,454.6 771.5,442.5 776.1,431.8 781.1,422.5 786.7,414.7 792.6,408.3 798.9,403.4 805.4,399.7 812.2,397.2 819.1,395.9 826.2,395.7 833.4,396.4 840.7,397.8 848.1,399.9 855.6,402.5 863.1,405.4 870.6,408.7 878.0,412.3 885.4,416.1 892.7,420.0 899.9,423.9 906.9,428.0 913.9,432.1 920.8,436.4 927.6,440.8 934.4,445.3 941.2,449.9 947.9,454.6 954.6,459.4 961.3,464.3 967.9,469.3 974.5,474.4 981.2,479.5 987.8,484.8 994.4,490.1 1000.9,495.5 1007.5,500.9 1014.0,506.4 1020.6,512.0 1027.1,517.6 1033.7,523.3 1040.2,529.0 1046.8,534.8 1053.3,540.6 1059.9,546.4 1066.4,552.3 1073.0,558.2 1079.5,564.1 1086.0,570.0 1092.6,576.0 1099.1,581.9 1105.6,587.9 1112.2,593.9 1118.7,599.9 1125.2,605.9 1131.7,611.9 1138.2,618.0 1144.6,624.0 1151.1,630.0 1157.5,635.9 1163.9,641.9 1170.3,647.9 1176.7,653.8 1183.0,659.7 1189.3,665.6 1195.6,671.5 1201.8,677.3 1207.9,683.1 1214.1,688.8 1220.2,694.5 1226.2,700.2 1232.2,705.8 1238.1,711.3 1243.9,716.8 1249.7,722.2 1255.4,727.5 1261.1,732.8 1266.6,738.0 1272.1,743.1 1277.5,748.2 1282.8,753.1 1288.0,758.0 1293.1,762.8 1298.1,767.5 1302.9,772.0 1307.6,776.4 1312.1,780.6 1316.5,784.7 1320.8,788.7 1325.0,792.7 1329.1,796.5 1333.1,800.2 1337.0,803.9 1340.8,807.4 1344.4,810.8 1347.9,814.0 1351.2,817.1 1354.4,820.1 1357.5,823.0 1360.4,825.8 1363.3,828.4 1366.0,831.0 1368.6,833.4 1371.1,835.8 1373.5,838.0 1375.8,840.2 1378.0,842.2 1380.1,844.2 1382.1,846.0 1384.0,847.8 1385.8,849.5 1387.6,851.1 1389.2,852.7 1390.8,854.2 1392.3,855.6 1393.8,857.0 1395.2,858.3 1396.5,859.5 1397.8,860.7 1399.0,861.9 1400.2,863.0 1401.4,864.1 1402.5,865.1 1403.6,866.1 1404.6,867.1 1405.6,868.0 1406.6,868.9 1407.5,869.8 1408.4,870.6 1409.2,871.4 1410.0,872.2 1410.8,872.9 1411.5,873.6 1412.2,874.2 1412.9,874.8 1413.5,875.4 1414.0,875.9 1414.6,876.4 1415.1,876.9 1415.6,877.4 1416.0,877.8 1416.5,878.2 1416.9,878.6 1417.3,879.0 1417.7,879.3 1418.0,879.6 1418.3,880.0 1418.6,880.3 1418.9,880.5 1419.2,880.8 1419.4,881.0 1419.7,881.2 1419.9,881.4 1420.1,881.6 1420.2,881.7 1420.4,881.9 1420.6,882.1 1420.7,882.2 1420.9,882.4 1421.1,882.5 1421.2,882.6 1421.3,882.8 1421.5,882.9 1421.6,883.0 1421.7,883.1 1421.8,883.3 1422.0,883.4 1422.1,883.5 1422.2,883.6 1422.4,883.7 1422.5,883.9 1422.6,884.0 1422.7,884.1 1422.8,884.2 1422.9,884.3 1423.0,884.4 1423.1,884.4 1423.2,884.5 1423.2,884.5 1423.3,884.6 1423.3,884.6 1423.3,884.7 1423.4,884.7 1423.4,884.7 1423.4,884.7 1423.5,884.8 1423.5,884.8 1423.5,884.8 1423.5,884.8 1423.5,884.8Z" fill="none" stroke="#0000c8" stroke-width="1.7" stroke-linejoin="round"/>
<path d="M751.1,339V1113H1483.3M739.5,1113.0H751.1M745,1070.0H751.1M739.5,1027.0H751.1M745,984.0H751.1M739.5,941.0H751.1M745,898.0H751.1M739.5,855.0H751.1M745,812.0H751.1M739.5,769.0H751.1M745,726.0H751.1M739.5,683.0H751.1M745,640.0H751.1M739.5,597.0H751.1M745,554.0H751.1M739.5,511.0H751.1M745,468.0H751.1M739.5,425.0H751.1M745,382.0H751.1M739.5,339.0H751.1M751.1,1113V1127.5M796.9,1113V1120.5M842.6,1113V1127.5M888.4,1113V1120.5M934.2,1113V1127.5M979.9,1113V1120.5M1025.7,1113V1127.5M1071.4,1113V1120.5M1117.2,1113V1127.5M1163.0,1113V1120.5M1208.7,1113V1127.5M1254.5,1113V1120.5M1300.2,1113V1127.5M1346.0,1113V1120.5M1391.8,1113V1127.5M1437.5,1113V1120.5M1483.3,1113V1127.5" fill="none" stroke="#000" stroke-width="1.9"/>
<text x="731.8" y="1121.2" font-size="29" font-weight="bold" text-anchor="end" class="ar nb" textLength="30.2" lengthAdjust="spacingAndGlyphs">0.0</text>
<text x="731.8" y="1035.2" font-size="29" font-weight="bold" text-anchor="end" class="ar nb" textLength="30.2" lengthAdjust="spacingAndGlyphs">0.1</text>
<text x="731.8" y="949.2" font-size="29" font-weight="bold" text-anchor="end" class="ar nb" textLength="30.2" lengthAdjust="spacingAndGlyphs">0.2</text>
<text x="731.8" y="863.2" font-size="29" font-weight="bold" text-anchor="end" class="ar nb" textLength="30.2" lengthAdjust="spacingAndGlyphs">0.3</text>
<text x="731.8" y="777.2" font-size="29" font-weight="bold" text-anchor="end" class="ar nb" textLength="30.2" lengthAdjust="spacingAndGlyphs">0.4</text>
<text x="731.8" y="691.2" font-size="29" font-weight="bold" text-anchor="end" class="ar nb" textLength="30.2" lengthAdjust="spacingAndGlyphs">0.5</text>
<text x="731.8" y="605.2" font-size="29" font-weight="bold" text-anchor="end" class="ar nb" textLength="30.2" lengthAdjust="spacingAndGlyphs">0.6</text>
<text x="731.8" y="519.2" font-size="29" font-weight="bold" text-anchor="end" class="ar nb" textLength="30.2" lengthAdjust="spacingAndGlyphs">0.7</text>
<text x="731.8" y="433.2" font-size="29" font-weight="bold" text-anchor="end" class="ar nb" textLength="30.2" lengthAdjust="spacingAndGlyphs">0.8</text>
<text x="731.8" y="347.2" font-size="29" font-weight="bold" text-anchor="end" class="ar nb" textLength="30.2" lengthAdjust="spacingAndGlyphs">0.9</text>
<text x="751.1" y="1159.2" font-size="29" font-weight="bold" text-anchor="middle" class="ar nb" textLength="30.2" lengthAdjust="spacingAndGlyphs">0.0</text>
<text x="842.6" y="1159.2" font-size="29" font-weight="bold" text-anchor="middle" class="ar nb" textLength="30.2" lengthAdjust="spacingAndGlyphs">0.1</text>
<text x="934.2" y="1159.2" font-size="29" font-weight="bold" text-anchor="middle" class="ar nb" textLength="30.2" lengthAdjust="spacingAndGlyphs">0.2</text>
<text x="1025.7" y="1159.2" font-size="29" font-weight="bold" text-anchor="middle" class="ar nb" textLength="30.2" lengthAdjust="spacingAndGlyphs">0.3</text>
<text x="1117.2" y="1159.2" font-size="29" font-weight="bold" text-anchor="middle" class="ar nb" textLength="30.2" lengthAdjust="spacingAndGlyphs">0.4</text>
<text x="1208.7" y="1159.2" font-size="29" font-weight="bold" text-anchor="middle" class="ar nb" textLength="30.2" lengthAdjust="spacingAndGlyphs">0.5</text>
<text x="1300.2" y="1159.2" font-size="29" font-weight="bold" text-anchor="middle" class="ar nb" textLength="30.2" lengthAdjust="spacingAndGlyphs">0.6</text>
<text x="1391.8" y="1159.2" font-size="29" font-weight="bold" text-anchor="middle" class="ar nb" textLength="30.2" lengthAdjust="spacingAndGlyphs">0.7</text>
<text x="1483.3" y="1159.2" font-size="29" font-weight="bold" text-anchor="middle" class="ar nb" textLength="30.2" lengthAdjust="spacingAndGlyphs">0.8</text>
<text x="1116.8" y="1198.2" font-size="33.5" font-weight="bold" text-anchor="middle" class="ar nb" textLength="14" lengthAdjust="spacingAndGlyphs">x</text>
<text x="684.8" y="738.3" font-size="33.5" font-weight="bold" text-anchor="middle" class="ar nb" textLength="14" lengthAdjust="spacingAndGlyphs">y</text>
<text x="810.5" y="366.1" font-size="28" fill="#0800c4" text-anchor="middle" class="ar" textLength="37.8" lengthAdjust="spacingAndGlyphs">520</text>
<text x="986.9" y="442.2" font-size="28" fill="#0800c4" text-anchor="middle" class="ar" textLength="37.8" lengthAdjust="spacingAndGlyphs">540</text>
<text x="1121.5" y="556.2" font-size="28" fill="#0800c4" text-anchor="middle" class="ar" textLength="37.8" lengthAdjust="spacingAndGlyphs">560</text>
<text x="1249.3" y="675.6" font-size="28" fill="#0800c4" text-anchor="middle" class="ar" textLength="37.8" lengthAdjust="spacingAndGlyphs">580</text>
<text x="1354.0" y="773.6" font-size="28" fill="#0800c4" text-anchor="middle" class="ar" textLength="37.8" lengthAdjust="spacingAndGlyphs">600</text>
<text x="1413.6" y="829.0" font-size="28" fill="#0800c4" text-anchor="middle" class="ar" textLength="37.8" lengthAdjust="spacingAndGlyphs">620</text>
<text x="1468.5" y="892.4" font-size="28" fill="#0800c4" text-anchor="middle" class="ar" textLength="37.8" lengthAdjust="spacingAndGlyphs">700</text>
<text x="716.1" y="662.8" font-size="28" fill="#0800c4" text-anchor="middle" class="ar" textLength="37.8" lengthAdjust="spacingAndGlyphs">500</text>
<text x="794.8" y="1022.0" font-size="28" fill="#0800c4" text-anchor="middle" class="ar" textLength="37.8" lengthAdjust="spacingAndGlyphs">480</text>
<text x="851.6" y="1104.8" font-size="28" fill="#0800c4" text-anchor="middle" class="ar" textLength="37.8" lengthAdjust="spacingAndGlyphs">460</text>
<path d="M819.1,395.9L816.6,379.1M961.3,464.3L972.2,451.3M1092.6,576.0L1104.8,564.2M1220.2,694.5L1232.5,682.9M1325.0,792.7L1337.4,781.0M1384.0,847.8L1396.4,836.2M1423.5,884.8L1442.5,884.8M758.6,650.0L741.6,651.3M834.7,998.9L818.6,1004.4M882.9,1087.5L870.0,1098.6" fill="none" stroke="#1a1a1a" stroke-width="1.1"/>
<defs><filter id="sh" x="-50%" y="-50%" width="200%" height="200%"><feGaussianBlur stdDeviation="3"/></filter><filter id="sb" x="-50%" y="-50%" width="200%" height="200%"><feGaussianBlur stdDeviation="1.1"/></filter><linearGradient id="tg" gradientUnits="userSpaceOnUse" x1="1007" y1="0" x2="1117" y2="0"><stop offset="0" stop-color="#3c2846" stop-opacity="0.13"/><stop offset="0.45" stop-color="#3c2846" stop-opacity="0.3"/><stop offset="1" stop-color="#3c2846" stop-opacity="0.5"/></linearGradient></defs>
<g fill="none" stroke-linecap="round" filter="url(#sh)">
<path d="M1007.2,762.2C1005.8,772 1005.8,785 1006,797C1006.5,815 1010,836 1015,852C1018,861 1022,869 1028,875.5" stroke="#3c2846" stroke-opacity="0.15" stroke-width="4.5" transform="translate(4.5,1.5)"/>
<path d="M1007.2,762.2C1013,758 1020,759.5 1026,762C1045,771 1064,792 1086.7,812.2C1098,822 1108,832 1116.5,841" stroke="url(#tg)" stroke-width="5" transform="translate(1.5,1.2)"/>
<path d="M1028,875.5C1032,879.5 1039,876.5 1046.7,873.3L1116.5,841" stroke="#3c2846" stroke-opacity="0.6" stroke-width="5.2" transform="translate(2.2,2.6)"/>
</g>
<path d="M1007.2,762.2C1005.8,772 1005.8,785 1006,797C1006.5,815 1010,836 1014,849" fill="none" stroke="#fff" stroke-opacity="0.5" stroke-width="2.2" stroke-linecap="round" filter="url(#sb)"/>
<circle cx="1050.4" cy="830.4" r="5.5"/>
<circle cx="1063.3" cy="835.8" r="7" fill="#fff" stroke="#000" stroke-width="1.5"/>
<circle cx="1067.7" cy="832.1" r="7" fill="#fff" stroke="#000" stroke-width="1.5"/>
<circle cx="1065.5" cy="840.9" r="7" fill="#fff" stroke="#000" stroke-width="1.5"/>
<circle cx="1069.5" cy="837.2" r="7" fill="#fff" stroke="#000" stroke-width="1.5"/>
<circle cx="1365.8" cy="348.1" r="11.4"/>
<text x="1385.3" y="359.7" font-size="47" font-weight="bold" class="se">D65</text>
</svg>
</div></body></html>
